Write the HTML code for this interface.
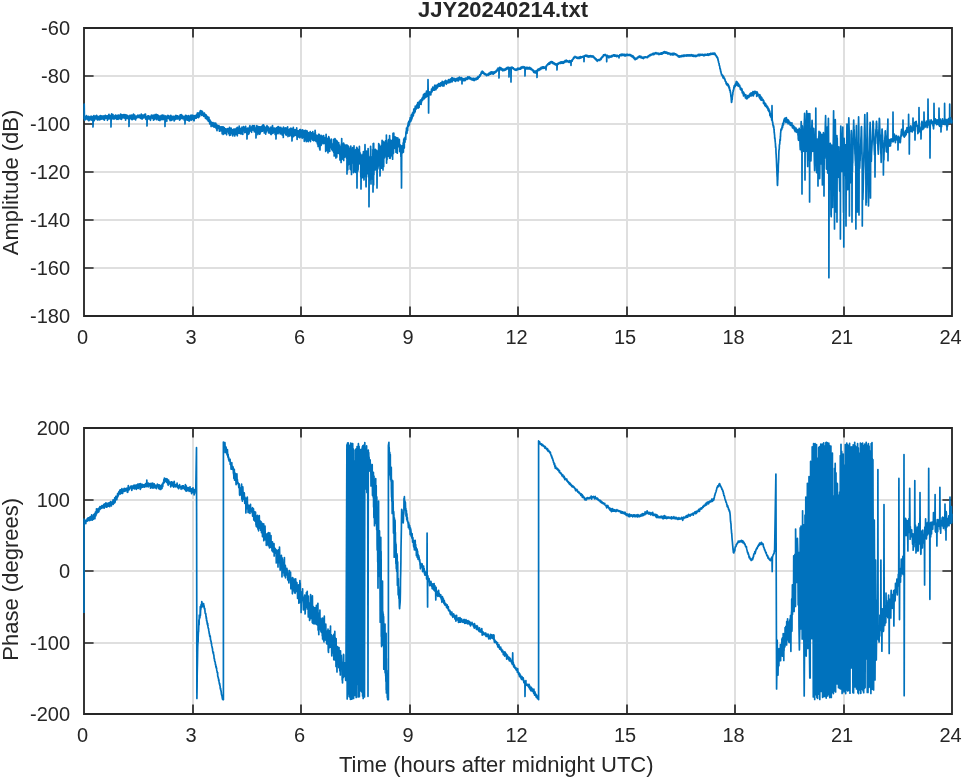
<!DOCTYPE html><html><head><meta charset="utf-8"><title>JJY20240214.txt</title><style>html,body{margin:0;padding:0;background:#fff}svg{display:block}text{font-family:"Liberation Sans",Arial,Helvetica,sans-serif;fill:#262626}</style></head><body>
<svg width="964" height="778" viewBox="0 0 964 778">
<rect width="964" height="778" fill="#fff"/>
<path d="M193.0 28.0 V316.0M301.0 28.0 V316.0M410.0 28.0 V316.0M518.0 28.0 V316.0M627.0 28.0 V316.0M735.0 28.0 V316.0M844.0 28.0 V316.0M84.0 76.0 H952.0M84.0 124.0 H952.0M84.0 172.0 H952.0M84.0 220.0 H952.0M84.0 268.0 H952.0" stroke="#dfdfdf" stroke-width="2" fill="none"/>
<path d="M193.0 428.0 V714.0M301.0 428.0 V714.0M410.0 428.0 V714.0M518.0 428.0 V714.0M627.0 428.0 V714.0M735.0 428.0 V714.0M844.0 428.0 V714.0M84.0 500.0 H952.0M84.0 571.0 H952.0M84.0 643.0 H952.0" stroke="#dfdfdf" stroke-width="2" fill="none"/>
<path d="M84.0 28.0 H952.0 V316.0 H84.0 Z" stroke="#262626" stroke-width="1.85" fill="none" stroke-linejoin="miter"/><path d="M193.0 316.0 v-9.6 M193.0 28.0 v9.6M301.0 316.0 v-9.6 M301.0 28.0 v9.6M410.0 316.0 v-9.6 M410.0 28.0 v9.6M518.0 316.0 v-9.6 M518.0 28.0 v9.6M627.0 316.0 v-9.6 M627.0 28.0 v9.6M735.0 316.0 v-9.6 M735.0 28.0 v9.6M844.0 316.0 v-9.6 M844.0 28.0 v9.6M84.0 76.0 h9.6 M952.0 76.0 h-9.6M84.0 124.0 h9.6 M952.0 124.0 h-9.6M84.0 172.0 h9.6 M952.0 172.0 h-9.6M84.0 220.0 h9.6 M952.0 220.0 h-9.6M84.0 268.0 h9.6 M952.0 268.0 h-9.6" stroke="#262626" stroke-width="1.7" fill="none"/>
<path d="M84.0 428.0 H952.0 V714.0 H84.0 Z" stroke="#262626" stroke-width="1.85" fill="none" stroke-linejoin="miter"/><path d="M193.0 714.0 v-9.6 M193.0 428.0 v9.6M301.0 714.0 v-9.6 M301.0 428.0 v9.6M410.0 714.0 v-9.6 M410.0 428.0 v9.6M518.0 714.0 v-9.6 M518.0 428.0 v9.6M627.0 714.0 v-9.6 M627.0 428.0 v9.6M735.0 714.0 v-9.6 M735.0 428.0 v9.6M844.0 714.0 v-9.6 M844.0 428.0 v9.6M84.0 500.0 h9.6 M952.0 500.0 h-9.6M84.0 571.0 h9.6 M952.0 571.0 h-9.6M84.0 643.0 h9.6 M952.0 643.0 h-9.6" stroke="#262626" stroke-width="1.7" fill="none"/>
<path d="M84.0 118.2L84.1 118.6L84.2 104.0L84.3 110.6L84.4 117.8L84.5 117.2L84.6 118.4L84.7 120.2L84.8 117.8L84.9 117.7L85.0 119.0L85.1 118.9L85.2 118.5L85.3 117.4L85.4 118.3L85.5 119.4L85.6 117.0L85.7 117.9L85.8 116.4L85.9 117.1L86.0 116.5L86.1 118.1L86.2 117.0L86.3 118.7L86.4 118.5L86.5 118.1L86.6 115.6L86.7 117.7L86.8 118.1L86.9 118.3L87.0 116.5L87.1 117.6L87.2 117.1L87.3 117.2L87.4 119.6L87.5 117.2L87.6 118.0L87.7 119.2L87.8 117.4L87.9 117.8L88.0 118.1L88.1 118.0L88.2 116.6L88.3 118.0L88.4 119.8L88.5 116.3L88.6 119.1L88.7 118.1L88.8 117.2L88.9 120.8L89.0 119.0L89.1 116.7L89.2 118.0L89.3 118.8L89.4 117.7L89.5 118.9L89.6 117.9L89.7 118.9L89.8 120.0L89.9 117.3L90.0 118.3L90.1 117.5L90.2 118.2L90.3 116.8L90.4 117.4L90.5 117.8L90.6 119.3L90.7 119.7L90.8 116.7L90.9 117.2L91.0 119.0L91.1 116.0L91.2 117.6L91.3 118.0L91.4 119.9L91.5 119.0L91.6 117.7L91.7 117.7L91.8 117.8L91.9 120.2L92.0 117.6L92.1 117.7L92.2 118.5L92.3 117.8L92.4 117.7L92.5 116.7L92.6 117.9L92.7 117.4L92.8 119.5L92.9 118.8L93.0 127.0L93.1 122.9L93.2 117.4L93.3 119.2L93.4 117.7L93.5 118.5L93.6 116.3L93.7 118.1L93.8 115.8L93.9 115.5L94.0 117.2L94.1 116.6L94.2 117.8L94.3 120.7L94.4 116.6L94.5 116.8L94.6 117.8L94.7 118.2L94.8 117.3L94.9 117.2L95.0 118.5L95.1 118.2L95.2 116.4L95.3 117.4L95.4 117.5L95.5 116.4L95.6 117.9L95.7 116.6L95.8 118.9L95.9 117.8L96.0 117.7L96.1 116.9L96.2 117.5L96.3 115.5L96.4 116.4L96.5 118.2L96.6 115.4L96.7 118.9L96.8 115.9L96.9 118.8L97.0 116.9L97.1 118.9L97.2 118.0L97.3 116.2L97.4 119.6L97.5 119.9L97.6 117.8L97.7 117.6L97.8 117.7L97.9 116.8L98.0 119.4L98.1 117.3L98.2 117.8L98.3 117.0L98.4 117.2L98.5 116.5L98.6 119.6L98.7 117.7L98.8 119.2L98.9 117.8L99.0 117.1L99.1 117.4L99.2 117.2L99.3 117.7L99.4 117.3L99.5 117.4L99.6 116.2L99.7 116.8L99.8 120.0L99.9 116.9L100.0 116.5L100.1 118.0L100.2 119.5L100.3 116.0L100.4 117.2L100.5 116.8L100.6 115.6L100.7 118.4L100.8 117.4L100.9 117.5L101.0 116.6L101.1 118.0L101.2 116.7L101.3 117.1L101.4 116.1L101.5 116.0L101.6 119.2L101.7 116.7L101.8 117.7L101.9 117.2L102.0 116.8L102.1 116.7L102.2 118.1L102.3 116.9L102.4 117.1L102.5 117.3L102.6 118.9L102.7 118.2L102.8 117.8L102.9 116.7L103.0 115.9L103.1 118.7L103.2 118.7L103.3 117.2L103.4 118.1L103.5 118.5L103.6 118.6L103.7 118.7L103.8 116.9L103.9 119.6L104.0 116.1L104.1 118.7L104.2 118.2L104.3 118.7L104.4 120.2L104.5 119.6L104.6 116.3L104.7 115.8L104.8 118.7L104.9 116.5L105.0 117.5L105.1 118.7L105.2 115.8L105.3 115.4L105.4 117.9L105.5 117.6L105.6 117.3L105.7 117.6L105.8 116.7L105.9 116.0L106.0 117.4L106.1 116.5L106.2 115.8L106.3 118.2L106.4 117.4L106.5 118.1L106.6 116.5L106.7 116.8L106.8 116.4L106.9 116.5L107.0 117.7L107.1 116.6L107.2 117.9L107.3 117.9L107.4 120.3L107.5 115.9L107.6 118.6L107.7 117.2L107.8 117.3L107.9 115.8L108.0 116.8L108.1 118.3L108.2 117.1L108.3 117.3L108.4 116.9L108.5 118.8L108.6 117.1L108.7 114.8L108.8 116.4L108.9 115.0L109.0 114.3L109.1 116.5L109.2 118.9L109.3 117.1L109.4 115.7L109.5 116.0L109.6 118.5L109.7 117.1L109.8 117.0L109.9 116.8L110.0 116.9L110.1 118.0L110.2 117.6L110.3 117.1L110.4 115.7L110.5 117.5L110.6 116.0L110.7 118.3L110.8 115.4L110.9 116.6L111.0 127.0L111.1 121.2L111.2 119.1L111.3 118.8L111.4 116.2L111.5 117.8L111.6 117.2L111.7 113.9L111.8 117.0L111.9 116.6L112.0 116.7L112.1 115.5L112.2 116.3L112.3 116.4L112.4 118.3L112.5 117.1L112.6 116.6L112.7 118.8L112.8 116.0L112.9 116.2L113.0 114.7L113.1 118.9L113.2 118.0L113.3 117.9L113.4 117.6L113.5 116.8L113.6 116.9L113.7 116.4L113.8 116.4L113.9 116.7L114.0 118.8L114.1 117.4L114.2 116.6L114.3 116.0L114.4 116.0L114.5 118.9L114.6 117.4L114.7 116.8L114.8 116.3L114.9 115.5L115.0 116.6L115.1 117.9L115.2 116.3L115.3 116.4L115.4 116.4L115.5 116.8L115.6 115.0L115.7 116.4L115.8 115.8L115.9 117.9L116.0 115.9L116.1 117.5L116.2 118.8L116.3 116.3L116.4 116.0L116.5 116.9L116.6 116.7L116.7 115.6L116.8 117.3L116.9 119.5L117.0 116.4L117.1 116.4L117.2 115.5L117.3 117.1L117.4 115.3L117.5 115.5L117.6 118.4L117.7 115.6L117.8 118.1L117.9 118.7L118.0 116.9L118.1 117.3L118.2 119.3L118.3 116.3L118.4 115.9L118.5 115.1L118.6 116.5L118.7 118.6L118.8 117.8L118.9 115.4L119.0 115.5L119.1 115.9L119.2 116.8L119.3 116.1L119.4 116.6L119.5 116.7L119.6 116.0L119.7 116.2L119.8 116.6L119.9 116.2L120.0 117.0L120.1 118.9L120.2 117.1L120.3 116.3L120.4 114.5L120.5 116.8L120.6 114.2L120.7 114.7L120.8 117.4L120.9 117.2L121.0 116.0L121.1 114.4L121.2 115.8L121.3 115.5L121.4 117.1L121.5 119.4L121.6 116.5L121.7 115.4L121.8 115.0L121.9 116.2L122.0 116.1L122.1 115.0L122.2 116.4L122.3 115.1L122.4 117.9L122.5 117.8L122.6 117.8L122.7 115.8L122.8 117.0L122.9 116.2L123.0 115.9L123.1 116.0L123.2 115.0L123.3 114.9L123.4 117.5L123.5 116.2L123.6 116.7L123.7 117.8L123.8 114.6L123.9 115.6L124.0 116.7L124.1 117.0L124.2 116.0L124.3 117.9L124.4 116.8L124.5 115.2L124.6 115.5L124.7 117.6L124.8 117.1L124.9 114.5L125.0 118.4L125.1 117.4L125.2 118.4L125.3 116.1L125.4 116.2L125.5 115.4L125.6 120.2L125.7 116.4L125.8 118.9L125.9 115.9L126.0 116.9L126.1 114.9L126.2 116.3L126.3 118.1L126.4 115.4L126.5 118.3L126.6 117.3L126.7 115.7L126.8 116.3L126.9 116.4L127.0 116.8L127.1 116.3L127.2 116.1L127.3 116.6L127.4 115.9L127.5 115.6L127.6 117.0L127.7 118.3L127.8 115.5L127.9 117.1L128.0 116.4L128.1 116.1L128.2 118.4L128.3 116.6L128.4 119.3L128.5 116.4L128.6 117.7L128.7 117.0L128.8 116.4L128.9 118.1L129.0 126.5L129.1 122.3L129.2 117.2L129.3 116.1L129.4 117.1L129.5 117.3L129.6 118.6L129.7 116.3L129.8 117.2L129.9 115.4L130.0 118.1L130.1 116.1L130.2 115.3L130.3 117.1L130.4 118.7L130.5 115.5L130.6 116.0L130.7 116.3L130.8 115.9L130.9 117.6L131.0 116.2L131.1 116.3L131.2 117.9L131.3 116.2L131.4 117.6L131.5 116.0L131.6 115.7L131.7 115.1L131.8 119.6L131.9 116.6L132.0 117.3L132.1 116.9L132.2 117.1L132.3 117.0L132.4 119.6L132.5 115.8L132.6 115.3L132.7 115.8L132.8 115.5L132.9 117.9L133.0 118.0L133.1 115.9L133.2 115.4L133.3 116.5L133.4 118.9L133.5 114.2L133.6 117.6L133.7 115.8L133.8 118.4L133.9 115.8L134.0 116.6L134.1 115.4L134.2 115.9L134.3 118.9L134.4 118.1L134.5 116.6L134.6 116.1L134.7 115.1L134.8 116.6L134.9 117.0L135.0 117.0L135.1 117.0L135.2 116.0L135.3 117.1L135.4 117.1L135.5 119.0L135.6 119.9L135.7 117.1L135.8 116.5L135.9 117.2L136.0 116.7L136.1 116.5L136.2 117.3L136.3 116.2L136.4 118.2L136.5 117.2L136.6 117.7L136.7 117.2L136.8 116.6L136.9 116.4L137.0 117.1L137.1 116.8L137.2 117.6L137.3 117.3L137.4 115.9L137.5 117.4L137.6 115.9L137.7 116.6L137.8 116.9L137.9 115.0L138.0 117.3L138.1 117.4L138.2 116.9L138.3 116.6L138.4 116.7L138.5 116.0L138.6 116.7L138.7 116.4L138.8 117.1L138.9 115.7L139.0 117.3L139.1 117.1L139.2 116.7L139.3 116.4L139.4 117.6L139.5 115.1L139.6 117.5L139.7 117.1L139.8 117.2L139.9 117.3L140.0 116.1L140.1 116.5L140.2 117.6L140.3 117.3L140.4 117.0L140.5 115.1L140.6 117.5L140.7 118.4L140.8 118.1L140.9 117.0L141.0 115.0L141.1 118.0L141.2 116.5L141.3 114.0L141.4 117.2L141.5 115.1L141.6 115.3L141.7 115.9L141.8 118.4L141.9 116.2L142.0 117.0L142.1 119.1L142.2 118.8L142.3 116.4L142.4 116.3L142.5 115.2L142.6 115.8L142.7 117.1L142.8 117.1L142.9 116.7L143.0 117.9L143.1 115.7L143.2 116.4L143.3 117.5L143.4 117.3L143.5 118.0L143.6 117.1L143.7 116.2L143.8 117.0L143.9 115.5L144.0 114.8L144.1 117.4L144.2 116.5L144.3 117.0L144.4 114.8L144.5 116.2L144.6 116.0L144.7 115.7L144.8 114.3L144.9 116.3L145.0 118.0L145.1 117.3L145.2 116.1L145.3 116.7L145.4 117.9L145.5 114.1L145.6 116.7L145.7 117.6L145.8 117.9L145.9 119.4L146.0 118.6L146.1 117.4L146.2 117.4L146.3 118.2L146.4 116.5L146.5 117.0L146.6 118.4L146.7 119.9L146.8 117.0L146.9 117.1L147.0 126.0L147.1 122.6L147.2 117.2L147.3 119.4L147.4 116.3L147.5 117.1L147.6 117.1L147.7 118.5L147.8 118.8L147.9 115.8L148.0 116.4L148.1 117.9L148.2 116.7L148.3 115.8L148.4 118.9L148.5 118.1L148.6 118.1L148.7 116.9L148.8 118.9L148.9 117.1L149.0 118.9L149.1 116.4L149.2 116.5L149.3 117.6L149.4 116.6L149.5 118.3L149.6 117.7L149.7 116.3L149.8 117.4L149.9 116.9L150.0 118.5L150.1 116.5L150.2 116.7L150.3 118.9L150.4 120.3L150.5 120.0L150.6 117.2L150.7 117.4L150.8 119.2L150.9 116.9L151.0 116.0L151.1 117.1L151.2 117.6L151.3 116.0L151.4 115.2L151.5 115.4L151.6 117.8L151.7 116.0L151.8 116.6L151.9 117.1L152.0 117.6L152.1 116.4L152.2 117.4L152.3 115.8L152.4 116.3L152.5 115.6L152.6 118.3L152.7 116.6L152.8 115.9L152.9 116.3L153.0 116.4L153.1 117.6L153.2 115.0L153.3 115.5L153.4 116.2L153.5 120.2L153.6 118.0L153.7 116.5L153.8 117.6L153.9 119.6L154.0 116.4L154.1 116.2L154.2 118.4L154.3 117.3L154.4 117.6L154.5 116.1L154.6 119.4L154.7 119.1L154.8 117.5L154.9 117.7L155.0 114.6L155.1 117.6L155.2 116.5L155.3 117.3L155.4 117.7L155.5 116.4L155.6 115.0L155.7 117.3L155.8 116.0L155.9 116.4L156.0 116.2L156.1 116.4L156.2 114.4L156.3 118.6L156.4 117.2L156.5 118.4L156.6 119.7L156.7 116.9L156.8 115.0L156.9 116.0L157.0 115.7L157.1 116.4L157.2 117.1L157.3 114.9L157.4 117.5L157.5 115.4L157.6 117.4L157.7 116.9L157.8 116.7L157.9 117.0L158.0 116.5L158.1 116.5L158.2 115.4L158.3 117.1L158.4 119.8L158.5 120.0L158.6 119.1L158.7 118.2L158.8 116.5L158.9 119.3L159.0 117.2L159.1 117.2L159.2 117.0L159.3 117.5L159.4 116.9L159.5 117.3L159.6 116.2L159.7 117.0L159.8 120.6L159.9 117.3L160.0 117.2L160.1 118.2L160.2 118.4L160.3 116.3L160.4 117.2L160.5 118.7L160.6 117.8L160.7 117.6L160.8 119.7L160.9 116.7L161.0 117.5L161.1 116.9L161.2 119.6L161.3 115.4L161.4 116.7L161.5 116.9L161.6 118.3L161.7 118.3L161.8 119.4L161.9 115.7L162.0 118.4L162.1 117.1L162.2 116.7L162.3 118.1L162.4 116.4L162.5 115.2L162.6 117.0L162.7 115.8L162.8 116.7L162.9 117.9L163.0 117.8L163.1 119.6L163.2 117.1L163.3 115.7L163.4 116.6L163.5 116.4L163.6 116.1L163.7 118.0L163.8 116.7L163.9 115.3L164.0 118.4L164.1 117.3L164.2 117.9L164.3 117.6L164.4 118.4L164.5 117.5L164.6 119.3L164.7 118.1L164.8 118.1L164.9 118.1L165.0 126.5L165.1 122.0L165.2 117.3L165.3 117.9L165.4 116.2L165.5 120.0L165.6 117.8L165.7 116.4L165.8 115.9L165.9 117.4L166.0 117.6L166.1 116.9L166.2 117.8L166.3 117.0L166.4 118.5L166.5 116.9L166.6 117.6L166.7 119.0L166.8 121.3L166.9 116.6L167.0 117.1L167.1 116.7L167.2 118.7L167.3 116.4L167.4 117.0L167.5 117.5L167.6 116.5L167.7 116.5L167.8 117.0L167.9 115.3L168.0 115.9L168.1 117.0L168.2 117.6L168.3 117.2L168.4 115.5L168.5 116.8L168.6 118.4L168.7 118.1L168.8 117.2L168.9 116.3L169.0 118.1L169.1 116.6L169.2 116.0L169.3 116.4L169.4 119.2L169.5 117.5L169.6 118.8L169.7 116.7L169.8 118.5L169.9 116.5L170.0 117.0L170.1 120.7L170.2 118.3L170.3 116.6L170.4 117.1L170.5 117.6L170.6 118.9L170.7 116.7L170.8 115.4L170.9 116.9L171.0 117.3L171.1 117.4L171.2 119.1L171.3 117.7L171.4 118.5L171.5 116.2L171.6 118.6L171.7 120.4L171.8 118.5L171.9 117.8L172.0 117.6L172.1 120.0L172.2 116.5L172.3 117.4L172.4 118.2L172.5 118.6L172.6 117.1L172.7 118.0L172.8 117.3L172.9 117.8L173.0 117.5L173.1 116.4L173.2 117.6L173.3 118.9L173.4 116.6L173.5 117.4L173.6 118.6L173.7 116.6L173.8 117.9L173.9 116.6L174.0 119.3L174.1 121.0L174.2 120.6L174.3 117.5L174.4 118.7L174.5 117.9L174.6 117.8L174.7 119.9L174.8 116.3L174.9 119.2L175.0 117.6L175.1 119.6L175.2 117.9L175.3 116.9L175.4 118.0L175.5 118.6L175.6 117.6L175.7 118.2L175.8 117.0L175.9 115.3L176.0 118.8L176.1 118.5L176.2 117.6L176.3 117.5L176.4 118.9L176.5 116.9L176.6 116.6L176.7 117.1L176.8 119.0L176.9 115.9L177.0 119.0L177.1 116.6L177.2 116.1L177.3 119.0L177.4 117.1L177.5 115.9L177.6 116.8L177.7 118.5L177.8 118.9L177.9 116.7L178.0 117.7L178.1 118.1L178.2 116.4L178.3 117.6L178.4 117.1L178.5 116.5L178.6 116.6L178.7 117.2L178.8 117.1L178.9 116.4L179.0 116.6L179.1 118.6L179.2 117.3L179.3 118.3L179.4 118.7L179.5 117.8L179.6 120.2L179.7 116.1L179.8 118.1L179.9 116.6L180.0 119.6L180.1 119.4L180.2 114.9L180.3 115.9L180.4 117.9L180.5 118.1L180.6 118.0L180.7 116.9L180.8 117.6L180.9 117.9L181.0 116.9L181.1 118.4L181.2 114.6L181.3 117.9L181.4 115.9L181.5 118.3L181.6 116.7L181.7 116.1L181.8 117.5L181.9 116.1L182.0 116.1L182.1 115.4L182.2 117.0L182.3 117.8L182.4 118.6L182.5 117.0L182.6 118.6L182.7 117.2L182.8 117.1L182.9 118.0L183.0 118.7L183.1 116.9L183.2 117.0L183.3 117.1L183.4 117.4L183.5 116.4L183.6 118.8L183.7 116.9L183.8 118.0L183.9 116.5L184.0 117.9L184.1 118.0L184.2 117.0L184.3 120.3L184.4 118.0L184.5 120.0L184.6 118.9L184.7 116.8L184.8 117.1L184.9 118.2L185.0 124.0L185.1 120.8L185.2 117.3L185.3 115.7L185.4 117.3L185.5 115.3L185.6 118.1L185.7 116.8L185.8 116.8L185.9 117.4L186.0 118.0L186.1 116.1L186.2 115.8L186.3 116.5L186.4 115.5L186.5 116.6L186.6 119.9L186.7 116.5L186.8 118.5L186.9 116.2L187.0 118.0L187.1 117.3L187.2 117.5L187.3 118.4L187.4 120.1L187.5 117.9L187.6 117.8L187.7 116.6L187.8 118.4L187.9 117.3L188.0 118.8L188.1 117.6L188.2 120.1L188.3 115.5L188.4 117.3L188.5 118.9L188.6 117.2L188.7 116.8L188.8 117.3L188.9 116.2L189.0 117.8L189.1 121.1L189.2 119.2L189.3 116.4L189.4 116.7L189.5 117.2L189.6 119.0L189.7 116.7L189.8 116.9L189.9 118.9L190.0 118.8L190.1 117.2L190.2 116.4L190.3 116.0L190.4 116.9L190.5 115.3L190.6 118.7L190.7 117.0L190.8 118.3L190.9 120.3L191.0 119.3L191.1 116.4L191.2 118.9L191.3 119.3L191.4 116.9L191.5 116.7L191.6 117.5L191.7 116.0L191.8 119.8L191.9 115.2L192.0 116.5L192.1 117.4L192.2 117.4L192.3 117.9L192.4 118.0L192.5 117.4L192.6 119.2L192.7 115.3L192.8 117.5L192.9 116.7L193.0 117.7L193.1 117.8L193.2 116.5L193.3 116.7L193.4 118.5L193.5 117.9L193.6 116.6L193.7 120.2L193.8 120.6L193.9 115.7L194.0 117.7L194.1 120.8L194.2 118.3L194.3 117.5L194.4 116.9L194.5 116.5L194.6 116.9L194.7 116.5L194.8 118.1L194.9 116.6L195.0 116.5L195.1 115.7L195.2 116.8L195.3 115.9L195.4 116.6L195.5 118.3L195.6 117.3L195.7 117.5L195.8 117.2L195.9 116.8L196.0 116.5L196.1 116.2L196.2 117.5L196.3 115.2L196.4 118.2L196.5 116.2L196.6 115.3L196.7 115.4L196.8 115.1L196.9 116.0L197.0 114.9L197.1 117.2L197.2 114.6L197.3 113.0L197.4 114.5L197.5 113.1L197.6 115.0L197.7 116.5L197.8 115.8L197.9 113.4L198.0 113.9L198.1 117.1L198.2 114.9L198.3 114.4L198.4 115.8L198.5 117.7L198.6 116.0L198.7 114.2L198.8 114.4L198.9 114.7L199.0 113.1L199.1 112.6L199.2 113.6L199.3 112.5L199.4 113.3L199.5 113.4L199.6 116.6L199.7 112.2L199.8 112.9L199.9 112.8L200.0 113.5L200.1 114.2L200.2 112.1L200.3 111.7L200.4 110.7L200.5 111.6L200.6 113.3L200.7 112.7L200.8 111.7L200.9 112.4L201.0 112.9L201.1 113.6L201.2 112.3L201.3 112.7L201.4 111.2L201.5 111.9L201.6 115.5L201.7 111.0L201.8 112.9L201.9 113.7L202.0 113.0L202.1 112.6L202.2 113.4L202.3 113.6L202.4 113.5L202.5 111.7L202.6 113.6L202.7 112.9L202.8 113.3L202.9 114.2L203.0 114.9L203.1 115.3L203.2 113.6L203.3 115.5L203.4 115.9L203.5 115.9L203.6 116.3L203.7 114.2L203.8 114.3L203.9 115.7L204.0 113.1L204.1 114.9L204.2 114.2L204.3 114.4L204.4 113.1L204.5 114.1L204.6 115.1L204.7 116.5L204.8 116.7L204.9 115.3L205.0 115.3L205.1 114.7L205.2 116.2L205.3 115.5L205.4 116.7L205.5 118.4L205.6 116.0L205.7 114.6L205.8 115.3L205.9 114.8L206.0 115.2L206.1 118.4L206.2 116.9L206.3 115.1L206.4 117.8L206.5 118.7L206.6 116.7L206.7 116.4L206.8 116.9L206.9 117.8L207.0 118.4L207.1 119.3L207.2 119.5L207.3 119.5L207.4 119.9L207.5 119.0L207.6 116.6L207.7 118.2L207.8 118.9L207.9 118.2L208.0 120.0L208.1 118.5L208.2 118.0L208.3 121.2L208.4 120.2L208.5 119.7L208.6 120.9L208.7 121.2L208.8 120.3L208.9 117.4L209.0 119.4L209.1 119.7L209.2 119.3L209.3 120.7L209.4 122.3L209.5 120.2L209.6 119.7L209.7 123.9L209.8 120.6L209.9 120.0L210.0 121.7L210.1 122.1L210.2 120.9L210.3 122.9L210.4 121.3L210.5 121.0L210.6 122.3L210.7 123.3L210.8 121.6L210.9 122.9L211.0 122.4L211.1 126.6L211.2 122.0L211.3 124.8L211.4 122.9L211.5 122.9L211.6 124.2L211.7 124.5L211.8 125.1L211.9 123.9L212.0 122.9L212.1 123.0L212.2 124.4L212.3 124.5L212.4 125.7L212.5 124.4L212.6 125.4L212.7 126.1L212.8 124.2L212.9 122.5L213.0 122.9L213.1 122.7L213.2 126.5L213.3 123.4L213.4 126.1L213.5 125.2L213.6 126.9L213.7 125.9L213.8 124.5L213.9 124.4L214.0 124.8L214.1 125.0L214.2 124.2L214.3 124.8L214.4 127.2L214.5 123.2L214.6 125.4L214.7 124.1L214.8 125.4L214.9 126.4L215.0 125.2L215.1 126.4L215.2 123.7L215.3 127.0L215.4 124.9L215.5 126.5L215.6 125.9L215.7 123.0L215.8 125.0L215.9 126.1L216.0 128.1L216.1 126.4L216.2 126.4L216.3 124.6L216.4 128.2L216.5 128.9L216.6 126.3L216.7 126.1L216.8 124.7L216.9 127.8L217.0 130.6L217.1 127.7L217.2 128.6L217.3 127.6L217.4 125.8L217.5 128.9L217.6 125.6L217.7 126.8L217.8 127.6L217.9 128.5L218.0 127.9L218.1 127.9L218.2 126.6L218.3 126.0L218.4 127.6L218.5 126.8L218.6 126.2L218.7 126.3L218.8 127.2L218.9 125.7L219.0 126.3L219.1 126.1L219.2 128.2L219.3 128.7L219.4 131.2L219.5 126.5L219.6 127.4L219.7 129.7L219.8 128.1L219.9 128.0L220.0 131.1L220.1 128.1L220.2 127.2L220.3 127.1L220.4 129.2L220.5 129.2L220.6 127.2L220.7 127.7L220.8 129.7L220.9 129.9L221.0 128.2L221.1 130.0L221.2 130.0L221.3 127.1L221.4 128.8L221.5 129.9L221.6 128.6L221.7 126.8L221.8 129.0L221.9 130.6L222.0 131.9L222.1 126.9L222.2 133.7L222.3 128.2L222.4 131.1L222.5 131.6L222.6 131.2L222.7 129.9L222.8 128.3L222.9 130.7L223.0 128.9L223.1 126.8L223.2 134.4L223.3 131.0L223.4 132.9L223.5 128.8L223.6 132.4L223.7 132.7L223.8 132.7L223.9 130.1L224.0 128.7L224.1 130.0L224.2 127.5L224.3 128.1L224.4 130.4L224.5 129.0L224.6 130.1L224.7 130.2L224.8 133.6L224.9 132.5L225.0 130.3L225.1 132.4L225.2 129.4L225.3 130.0L225.4 132.0L225.5 128.9L225.6 130.1L225.7 128.9L225.8 130.7L225.9 133.3L226.0 129.6L226.1 131.0L226.2 129.5L226.3 129.2L226.4 129.1L226.5 133.2L226.6 134.8L226.7 131.5L226.8 129.8L226.9 131.9L227.0 130.3L227.1 132.1L227.2 131.2L227.3 131.2L227.4 131.8L227.5 130.0L227.6 130.2L227.7 128.5L227.8 130.2L227.9 128.9L228.0 130.6L228.1 129.5L228.2 130.9L228.3 131.6L228.4 128.9L228.5 129.7L228.6 129.5L228.7 132.1L228.8 133.8L228.9 132.3L229.0 130.3L229.1 133.4L229.2 128.7L229.3 133.4L229.4 129.9L229.5 127.3L229.6 135.5L229.7 133.6L229.8 129.3L229.9 131.0L230.0 130.4L230.1 130.9L230.2 128.7L230.3 129.8L230.4 131.6L230.5 131.1L230.6 132.9L230.7 130.9L230.8 135.1L230.9 129.8L231.0 131.2L231.1 128.2L231.2 129.1L231.3 133.3L231.4 129.5L231.5 131.8L231.6 130.7L231.7 129.4L231.8 130.4L231.9 130.2L232.0 130.2L232.1 132.3L232.2 132.1L232.3 130.1L232.4 129.7L232.5 131.5L232.6 130.8L232.7 132.9L232.8 136.0L232.9 132.5L233.0 130.9L233.1 130.7L233.2 129.7L233.3 129.7L233.4 129.5L233.5 130.4L233.6 130.3L233.7 132.4L233.8 130.4L233.9 130.6L234.0 129.2L234.1 134.1L234.2 131.9L234.3 134.3L234.4 132.4L234.5 133.7L234.6 130.5L234.7 132.2L234.8 136.1L234.9 129.0L235.0 133.0L235.1 134.0L235.2 131.5L235.3 132.2L235.4 133.1L235.5 129.6L235.6 131.4L235.7 129.3L235.8 129.5L235.9 129.6L236.0 130.2L236.1 130.7L236.2 131.3L236.3 128.3L236.4 134.4L236.5 132.7L236.6 131.8L236.7 129.7L236.8 130.1L236.9 131.4L237.0 131.1L237.1 127.7L237.2 131.7L237.3 135.8L237.4 127.4L237.5 132.2L237.6 130.9L237.7 129.9L237.8 133.0L237.9 128.3L238.0 130.4L238.1 133.1L238.2 129.8L238.3 129.4L238.4 130.3L238.5 129.4L238.6 133.3L238.7 128.6L238.8 131.9L238.9 128.1L239.0 131.4L239.1 129.9L239.2 126.1L239.3 130.0L239.4 128.3L239.5 129.3L239.6 133.3L239.7 128.3L239.8 128.3L239.9 133.1L240.0 130.2L240.1 133.3L240.2 130.7L240.3 128.6L240.4 129.9L240.5 132.6L240.6 132.0L240.7 130.0L240.8 130.0L240.9 129.8L241.0 129.0L241.1 134.1L241.2 129.9L241.3 128.1L241.4 129.2L241.5 131.5L241.6 131.3L241.7 129.7L241.8 128.8L241.9 129.9L242.0 127.2L242.1 127.8L242.2 131.6L242.3 129.1L242.4 130.6L242.5 132.5L242.6 131.2L242.7 129.9L242.8 134.4L242.9 131.3L243.0 129.2L243.1 131.4L243.2 130.7L243.3 128.4L243.4 130.0L243.5 129.5L243.6 126.7L243.7 129.5L243.8 129.4L243.9 129.1L244.0 127.2L244.1 129.3L244.2 129.8L244.3 130.0L244.4 128.0L244.5 131.2L244.6 127.9L244.7 129.5L244.8 132.7L244.9 128.8L245.0 129.1L245.1 132.2L245.2 129.3L245.3 129.4L245.4 130.4L245.5 132.2L245.6 126.4L245.7 128.6L245.8 128.3L245.9 128.2L246.0 128.5L246.1 128.6L246.2 130.6L246.3 128.5L246.4 130.2L246.5 130.8L246.6 128.7L246.7 130.2L246.8 133.5L246.9 130.6L247.0 139.0L247.1 134.4L247.2 128.3L247.3 130.4L247.4 131.7L247.5 128.4L247.6 129.4L247.7 132.2L247.8 128.9L247.9 130.1L248.0 128.0L248.1 128.3L248.2 128.8L248.3 134.3L248.4 128.9L248.5 128.7L248.6 128.6L248.7 129.2L248.8 130.8L248.9 129.8L249.0 133.8L249.1 129.8L249.2 132.4L249.3 129.9L249.4 130.6L249.5 126.9L249.6 129.0L249.7 129.1L249.8 128.8L249.9 125.7L250.0 131.0L250.1 128.5L250.2 128.4L250.3 128.7L250.4 128.7L250.5 129.9L250.6 127.0L250.7 127.6L250.8 129.7L250.9 129.3L251.0 128.4L251.1 128.1L251.2 127.7L251.3 128.9L251.4 131.6L251.5 127.3L251.6 132.3L251.7 130.8L251.8 128.2L251.9 130.7L252.0 126.6L252.1 126.2L252.2 126.9L252.3 128.3L252.4 128.4L252.5 128.1L252.6 129.1L252.7 125.5L252.8 130.0L252.9 126.6L253.0 127.8L253.1 128.2L253.2 127.0L253.3 126.7L253.4 127.3L253.5 128.9L253.6 130.2L253.7 130.1L253.8 127.3L253.9 127.6L254.0 127.4L254.1 129.9L254.2 125.6L254.3 131.7L254.4 128.2L254.5 127.7L254.6 129.8L254.7 131.3L254.8 129.8L254.9 131.4L255.0 129.4L255.1 131.9L255.2 131.9L255.3 129.0L255.4 132.4L255.5 129.6L255.6 129.5L255.7 127.8L255.8 128.9L255.9 131.1L256.0 138.0L256.1 134.4L256.2 130.2L256.3 130.1L256.4 125.9L256.5 129.3L256.6 131.0L256.7 128.3L256.8 129.7L256.9 125.7L257.0 131.1L257.1 128.5L257.2 131.5L257.3 126.5L257.4 131.1L257.5 129.2L257.6 131.4L257.7 128.0L257.8 128.5L257.9 134.6L258.0 128.1L258.1 128.3L258.2 129.0L258.3 127.7L258.4 132.1L258.5 133.3L258.6 128.2L258.7 126.5L258.8 131.9L258.9 131.8L259.0 131.1L259.1 131.8L259.2 127.8L259.3 128.9L259.4 126.8L259.5 126.8L259.6 131.3L259.7 127.9L259.8 134.2L259.9 129.2L260.0 127.9L260.1 130.8L260.2 133.1L260.3 130.1L260.4 126.9L260.5 129.8L260.6 132.1L260.7 128.1L260.8 127.7L260.9 131.3L261.0 129.2L261.1 127.1L261.2 128.3L261.3 127.7L261.4 129.6L261.5 129.2L261.6 131.5L261.7 130.5L261.8 126.3L261.9 129.8L262.0 130.9L262.1 129.9L262.2 131.2L262.3 127.9L262.4 127.2L262.5 131.0L262.6 127.0L262.7 125.2L262.8 131.1L262.9 127.6L263.0 128.3L263.1 126.4L263.2 126.5L263.3 126.8L263.4 128.1L263.5 129.6L263.6 124.9L263.7 130.5L263.8 126.7L263.9 126.9L264.0 130.3L264.1 128.6L264.2 126.1L264.3 133.0L264.4 127.3L264.5 129.3L264.6 129.2L264.7 132.0L264.8 128.0L264.9 131.1L265.0 127.6L265.1 131.4L265.2 127.6L265.3 128.3L265.4 133.3L265.5 129.6L265.6 129.2L265.7 134.2L265.8 129.8L265.9 127.6L266.0 130.7L266.1 127.0L266.2 131.7L266.3 131.9L266.4 128.1L266.5 128.0L266.6 129.5L266.7 129.2L266.8 127.5L266.9 130.5L267.0 125.7L267.1 128.4L267.2 128.5L267.3 128.7L267.4 129.9L267.5 127.1L267.6 130.6L267.7 128.9L267.8 128.1L267.9 126.9L268.0 127.2L268.1 130.1L268.2 127.6L268.3 129.4L268.4 131.8L268.5 131.7L268.6 132.9L268.7 128.8L268.8 127.4L268.9 131.7L269.0 130.0L269.1 131.9L269.2 129.3L269.3 132.1L269.4 131.3L269.5 131.0L269.6 130.5L269.7 130.3L269.8 129.9L269.9 129.9L270.0 131.7L270.1 128.5L270.2 133.5L270.3 129.2L270.4 131.7L270.5 129.2L270.6 129.0L270.7 134.2L270.8 128.9L270.9 127.2L271.0 128.2L271.1 128.9L271.2 134.6L271.3 130.0L271.4 131.7L271.5 127.8L271.6 130.3L271.7 131.1L271.8 133.8L271.9 128.3L272.0 131.0L272.1 130.3L272.2 127.8L272.3 129.5L272.4 129.1L272.5 125.5L272.6 131.0L272.7 130.9L272.8 128.8L272.9 127.3L273.0 133.1L273.1 130.2L273.2 132.0L273.3 133.0L273.4 128.7L273.5 131.5L273.6 129.1L273.7 129.4L273.8 129.4L273.9 129.5L274.0 132.2L274.1 129.8L274.2 129.3L274.3 129.0L274.4 130.3L274.5 128.0L274.6 128.6L274.7 129.4L274.8 128.5L274.9 129.3L275.0 128.4L275.1 134.3L275.2 132.7L275.3 130.6L275.4 129.4L275.5 134.8L275.6 130.3L275.7 129.4L275.8 130.3L275.9 130.3L276.0 139.0L276.1 134.3L276.2 134.7L276.3 128.1L276.4 131.4L276.5 127.9L276.6 134.1L276.7 129.2L276.8 129.7L276.9 132.0L277.0 132.9L277.1 127.9L277.2 129.2L277.3 127.4L277.4 130.2L277.5 129.7L277.6 129.3L277.7 128.8L277.8 129.3L277.9 128.7L278.0 131.3L278.1 133.7L278.2 126.6L278.3 129.9L278.4 129.3L278.5 131.3L278.6 128.4L278.7 129.9L278.8 128.3L278.9 131.8L279.0 130.4L279.1 129.9L279.2 131.1L279.3 129.7L279.4 127.4L279.5 131.6L279.6 130.9L279.7 129.9L279.8 132.6L279.9 133.1L280.0 128.2L280.1 128.8L280.2 134.0L280.3 133.7L280.4 128.8L280.5 128.1L280.6 129.0L280.7 129.3L280.8 127.4L280.9 130.3L281.0 127.9L281.1 128.1L281.2 132.5L281.3 129.0L281.4 130.2L281.5 131.9L281.6 132.3L281.7 129.7L281.8 130.5L281.9 128.9L282.0 134.7L282.1 132.0L282.2 128.5L282.3 130.5L282.4 132.3L282.5 131.7L282.6 135.1L282.7 134.0L282.8 129.6L282.9 130.5L283.0 128.4L283.1 131.3L283.2 131.1L283.3 137.5L283.4 131.0L283.5 127.0L283.6 129.6L283.7 131.1L283.8 128.6L283.9 129.3L284.0 130.2L284.1 131.8L284.2 130.6L284.3 129.3L284.4 132.9L284.5 130.0L284.6 130.1L284.7 128.5L284.8 129.6L284.9 132.6L285.0 128.1L285.1 130.9L285.2 132.8L285.3 130.3L285.4 131.6L285.5 129.0L285.6 134.3L285.7 133.8L285.8 131.6L285.9 127.8L286.0 129.1L286.1 133.5L286.2 135.3L286.3 131.8L286.4 134.2L286.5 129.9L286.6 130.7L286.7 131.1L286.8 132.1L286.9 128.3L287.0 133.5L287.1 134.4L287.2 129.0L287.3 128.6L287.4 132.0L287.5 129.9L287.6 126.8L287.7 133.2L287.8 131.6L287.9 130.3L288.0 136.6L288.1 131.6L288.2 129.9L288.3 131.5L288.4 129.4L288.5 129.9L288.6 132.3L288.7 130.3L288.8 130.5L288.9 135.6L289.0 133.6L289.1 133.4L289.2 132.7L289.3 132.6L289.4 135.1L289.5 131.4L289.6 136.1L289.7 129.6L289.8 130.9L289.9 128.8L290.0 130.7L290.1 132.7L290.2 135.1L290.3 130.1L290.4 131.4L290.5 130.7L290.6 130.0L290.7 129.1L290.8 131.5L290.9 128.1L291.0 131.6L291.1 131.3L291.2 130.0L291.3 129.4L291.4 128.7L291.5 136.0L291.6 128.7L291.7 135.2L291.8 132.8L291.9 130.5L292.0 141.0L292.1 137.5L292.2 135.7L292.3 129.5L292.4 130.7L292.5 134.0L292.6 132.1L292.7 136.5L292.8 130.3L292.9 132.7L293.0 129.0L293.1 136.8L293.2 130.1L293.3 127.3L293.4 131.3L293.5 131.3L293.6 136.5L293.7 131.0L293.8 131.6L293.9 133.2L294.0 135.9L294.1 131.7L294.2 134.5L294.3 133.2L294.4 131.4L294.5 132.2L294.6 132.1L294.7 130.4L294.8 135.3L294.9 129.6L295.0 135.3L295.1 134.7L295.2 132.1L295.3 130.9L295.4 132.0L295.5 133.7L295.6 134.4L295.7 133.3L295.8 135.1L295.9 131.5L296.0 133.2L296.1 129.7L296.2 134.7L296.3 133.1L296.4 132.0L296.5 135.8L296.6 134.6L296.7 127.9L296.8 133.0L296.9 130.1L297.0 135.7L297.1 139.4L297.2 132.0L297.3 133.2L297.4 132.5L297.5 133.9L297.6 134.7L297.7 136.4L297.8 131.2L297.9 137.2L298.0 131.3L298.1 133.8L298.2 136.1L298.3 135.0L298.4 131.3L298.5 131.8L298.6 132.2L298.7 133.0L298.8 136.1L298.9 130.6L299.0 134.3L299.1 134.7L299.2 134.6L299.3 134.4L299.4 137.1L299.5 134.4L299.6 135.4L299.7 134.6L299.8 137.8L299.9 129.5L300.0 136.5L300.1 132.6L300.2 132.6L300.3 131.2L300.4 129.5L300.5 132.3L300.6 131.7L300.7 134.4L300.8 130.2L300.9 136.9L301.0 133.8L301.1 132.6L301.2 131.7L301.3 131.5L301.4 130.9L301.5 132.0L301.6 133.1L301.7 132.8L301.8 130.3L301.9 132.6L302.0 131.4L302.1 133.6L302.2 138.3L302.3 134.9L302.4 132.6L302.5 130.0L302.6 130.4L302.7 129.9L302.8 135.4L302.9 131.8L303.0 133.6L303.1 132.2L303.2 133.7L303.3 137.5L303.4 132.1L303.5 132.9L303.6 132.0L303.7 136.2L303.8 131.6L303.9 131.4L304.0 130.9L304.1 130.9L304.2 135.3L304.3 141.3L304.4 131.9L304.5 136.8L304.6 134.8L304.7 131.9L304.8 133.6L304.9 133.8L305.0 132.9L305.1 140.0L305.2 130.4L305.3 135.6L305.4 135.5L305.5 133.4L305.6 135.1L305.7 137.3L305.8 135.2L305.9 136.0L306.0 136.9L306.1 130.5L306.2 139.3L306.3 141.7L306.4 137.9L306.5 138.0L306.6 132.0L306.7 134.8L306.8 133.3L306.9 133.8L307.0 138.0L307.1 133.4L307.2 134.9L307.3 131.0L307.4 134.8L307.5 135.5L307.6 133.6L307.7 133.6L307.8 141.0L307.9 132.5L308.0 132.9L308.1 133.4L308.2 138.9L308.3 141.7L308.4 136.3L308.5 133.6L308.6 134.3L308.7 138.5L308.8 133.2L308.9 139.7L309.0 139.6L309.1 135.4L309.2 137.2L309.3 137.6L309.4 140.1L309.5 132.8L309.6 138.9L309.7 134.4L309.8 133.5L309.9 135.6L310.0 134.7L310.1 133.0L310.2 131.5L310.3 133.1L310.4 139.9L310.5 141.6L310.6 137.4L310.7 139.1L310.8 134.1L310.9 135.2L311.0 136.3L311.1 132.8L311.2 133.1L311.3 135.7L311.4 134.7L311.5 132.9L311.6 136.7L311.7 134.9L311.8 138.9L311.9 135.5L312.0 134.9L312.1 136.0L312.2 135.2L312.3 134.1L312.4 134.7L312.5 138.2L312.6 137.9L312.7 140.1L312.8 131.7L312.9 134.9L313.0 134.9L313.1 136.5L313.2 134.9L313.3 134.8L313.4 138.7L313.5 136.7L313.6 133.3L313.7 140.7L313.8 139.6L313.9 134.9L314.0 139.1L314.1 134.5L314.2 140.2L314.3 135.9L314.4 134.5L314.5 135.6L314.6 134.7L314.7 137.3L314.8 137.3L314.9 136.8L315.0 135.4L315.1 130.3L315.2 137.2L315.3 132.2L315.4 137.8L315.5 141.0L315.6 138.1L315.7 136.2L315.8 136.8L315.9 136.9L316.0 135.9L316.1 135.9L316.2 135.1L316.3 141.6L316.4 137.5L316.5 140.9L316.6 136.9L316.7 137.9L316.8 137.2L316.9 139.3L317.0 140.7L317.1 138.6L317.2 136.1L317.3 135.8L317.4 143.8L317.5 137.2L317.6 137.1L317.7 143.2L317.8 141.9L317.9 139.9L318.0 137.0L318.1 146.5L318.2 139.5L318.3 140.1L318.4 137.7L318.5 134.4L318.6 134.6L318.7 139.7L318.8 139.6L318.9 137.6L319.0 135.2L319.1 134.5L319.2 137.5L319.3 134.5L319.4 141.7L319.5 142.7L319.6 148.8L319.7 141.7L319.8 136.9L319.9 136.2L320.0 150.0L320.1 143.5L320.2 138.2L320.3 142.4L320.4 141.1L320.5 141.0L320.6 139.7L320.7 141.4L320.8 144.4L320.9 136.1L321.0 137.8L321.1 135.3L321.2 145.3L321.3 144.1L321.4 142.1L321.5 136.0L321.6 140.1L321.7 138.8L321.8 139.8L321.9 139.0L322.0 141.6L322.1 138.5L322.2 143.0L322.3 140.7L322.4 139.0L322.5 139.5L322.6 138.6L322.7 143.1L322.8 139.2L322.9 141.1L323.0 139.0L323.1 135.9L323.2 143.7L323.3 137.2L323.4 142.9L323.5 141.9L323.6 135.6L323.7 137.7L323.8 139.0L323.9 138.2L324.0 137.2L324.1 143.5L324.2 140.0L324.3 142.2L324.4 139.5L324.5 142.0L324.6 138.7L324.7 140.9L324.8 143.3L324.9 141.2L325.0 139.8L325.1 138.0L325.2 141.9L325.3 142.7L325.4 140.6L325.5 139.2L325.6 143.7L325.7 151.5L325.8 140.7L325.9 143.0L326.0 143.3L326.1 134.3L326.2 142.4L326.3 139.8L326.4 147.6L326.5 141.3L326.6 139.8L326.7 141.5L326.8 142.9L326.9 140.6L327.0 142.1L327.1 138.3L327.2 141.7L327.3 145.6L327.4 150.6L327.5 145.4L327.6 143.7L327.7 147.5L327.8 146.9L327.9 149.6L328.0 153.0L328.1 147.7L328.2 143.9L328.3 143.6L328.4 144.2L328.5 143.8L328.6 140.6L328.7 136.7L328.8 141.1L328.9 137.0L329.0 143.5L329.1 143.3L329.2 138.2L329.3 146.3L329.4 147.1L329.5 143.9L329.6 150.6L329.7 151.5L329.8 140.0L329.9 148.2L330.0 145.7L330.1 145.7L330.2 148.0L330.3 141.9L330.4 142.3L330.5 141.7L330.6 142.0L330.7 144.1L330.8 140.0L330.9 141.3L331.0 147.1L331.1 144.5L331.2 146.4L331.3 139.0L331.4 142.5L331.5 143.3L331.6 145.2L331.7 143.3L331.8 149.3L331.9 145.1L332.0 145.5L332.1 145.5L332.2 148.6L332.3 144.1L332.4 150.5L332.5 147.7L332.6 146.4L332.7 146.0L332.8 148.1L332.9 150.3L333.0 150.1L333.1 147.6L333.2 149.9L333.3 146.6L333.4 151.6L333.5 146.0L333.6 139.3L333.7 152.2L333.8 146.7L333.9 142.3L334.0 145.6L334.1 143.3L334.2 155.9L334.3 148.6L334.4 141.0L334.5 148.8L334.6 145.0L334.7 155.2L334.8 142.8L334.9 138.7L335.0 146.7L335.1 145.2L335.2 145.0L335.3 139.1L335.4 148.5L335.5 154.5L335.6 139.9L335.7 152.2L335.8 144.6L335.9 157.9L336.0 148.8L336.1 146.0L336.2 152.1L336.3 149.3L336.4 144.7L336.5 150.3L336.6 145.0L336.7 140.5L336.8 157.0L336.9 145.7L337.0 144.8L337.1 148.8L337.2 141.4L337.3 142.2L337.4 145.4L337.5 145.3L337.6 147.7L337.7 153.0L337.8 145.6L337.9 150.0L338.0 150.6L338.1 143.5L338.2 148.8L338.3 144.1L338.4 153.2L338.5 150.1L338.6 147.9L338.7 142.7L338.8 148.5L338.9 145.0L339.0 151.7L339.1 147.6L339.2 144.9L339.3 153.0L339.4 152.0L339.5 145.9L339.6 154.5L339.7 147.2L339.8 147.2L339.9 149.1L340.0 160.0L340.1 153.4L340.2 148.0L340.3 157.0L340.4 156.9L340.5 147.7L340.6 157.7L340.7 148.7L340.8 151.0L340.9 153.8L341.0 150.6L341.1 162.5L341.2 150.4L341.3 144.2L341.4 156.5L341.5 147.5L341.6 148.0L341.7 138.6L341.8 155.0L341.9 154.0L342.0 154.0L342.1 155.0L342.2 159.2L342.3 149.3L342.4 154.9L342.5 146.4L342.6 148.1L342.7 155.8L342.8 151.9L342.9 144.0L343.0 151.8L343.1 149.0L343.2 146.3L343.3 152.4L343.4 148.1L343.5 143.1L343.6 145.1L343.7 160.4L343.8 143.4L343.9 151.3L344.0 153.7L344.1 153.9L344.2 144.7L344.3 148.7L344.4 151.0L344.5 155.1L344.6 147.4L344.7 145.2L344.8 156.5L344.9 157.2L345.0 152.8L345.1 147.8L345.2 153.1L345.3 151.4L345.4 155.9L345.5 145.2L345.6 151.6L345.7 150.3L345.8 146.0L345.9 152.5L346.0 151.4L346.1 149.4L346.2 153.9L346.3 145.0L346.4 151.3L346.5 154.4L346.6 153.6L346.7 158.7L346.8 146.3L346.9 145.0L347.0 174.0L347.1 164.6L347.2 166.0L347.3 156.3L347.4 148.3L347.5 157.8L347.6 148.6L347.7 145.6L347.8 169.8L347.9 155.0L348.0 157.6L348.1 156.7L348.2 165.0L348.3 155.0L348.4 161.3L348.5 148.3L348.6 146.6L348.7 162.9L348.8 163.3L348.9 156.9L349.0 155.1L349.1 154.7L349.2 150.3L349.3 164.1L349.4 158.2L349.5 157.2L349.6 156.4L349.7 161.0L349.8 157.4L349.9 159.1L350.0 148.2L350.1 157.5L350.2 169.1L350.3 151.5L350.4 153.5L350.5 160.4L350.6 160.9L350.7 158.6L350.8 146.1L350.9 157.8L351.0 170.0L351.1 160.1L351.2 158.3L351.3 153.0L351.4 160.3L351.5 174.4L351.6 160.1L351.7 159.8L351.8 150.1L351.9 151.4L352.0 149.3L352.1 152.1L352.2 149.2L352.3 151.5L352.4 154.0L352.5 149.9L352.6 147.7L352.7 148.0L352.8 158.6L352.9 155.8L353.0 162.9L353.1 163.1L353.2 153.7L353.3 160.6L353.4 148.0L353.5 172.6L353.6 164.7L353.7 154.7L353.8 149.7L353.9 158.9L354.0 145.9L354.1 151.9L354.2 161.8L354.3 156.9L354.4 153.7L354.5 163.6L354.6 150.8L354.7 158.7L354.8 153.9L354.9 152.0L355.0 160.3L355.1 151.3L355.2 171.4L355.3 153.6L355.4 172.3L355.5 150.9L355.6 161.8L355.7 150.4L355.8 149.6L355.9 158.5L356.0 162.6L356.1 150.1L356.2 166.7L356.3 152.9L356.4 158.6L356.5 160.6L356.6 162.4L356.7 147.4L356.8 170.6L356.9 162.3L357.0 188.0L357.1 170.0L357.2 148.1L357.3 150.1L357.4 162.5L357.5 156.2L357.6 151.6L357.7 155.2L357.8 171.0L357.9 156.4L358.0 155.0L358.1 169.5L358.2 162.3L358.3 159.0L358.4 155.1L358.5 149.5L358.6 151.8L358.7 156.0L358.8 157.7L358.9 162.0L359.0 163.7L359.1 161.1L359.2 161.1L359.3 153.3L359.4 146.4L359.5 156.4L359.6 153.8L359.7 155.7L359.8 158.1L359.9 152.3L360.0 153.2L360.1 159.5L360.2 161.1L360.3 156.2L360.4 164.6L360.5 159.0L360.6 154.1L360.7 160.9L360.8 176.8L360.9 156.5L361.0 189.0L361.1 180.9L361.2 173.9L361.3 155.9L361.4 178.6L361.5 162.2L361.6 159.6L361.7 159.8L361.8 166.6L361.9 161.9L362.0 160.4L362.1 172.8L362.2 157.0L362.3 154.9L362.4 168.7L362.5 167.9L362.6 171.5L362.7 154.9L362.8 171.4L362.9 166.1L363.0 177.6L363.1 153.8L363.2 163.9L363.3 160.1L363.4 151.6L363.5 157.3L363.6 172.2L363.7 158.9L363.8 157.3L363.9 169.9L364.0 180.0L364.1 175.5L364.2 156.8L364.3 161.7L364.4 171.5L364.5 157.7L364.6 157.1L364.7 169.7L364.8 176.5L364.9 154.4L365.0 144.7L365.1 152.4L365.2 155.4L365.3 161.3L365.4 168.0L365.5 161.2L365.6 157.5L365.7 163.7L365.8 155.7L365.9 162.0L366.0 186.0L366.1 186.8L366.2 170.1L366.3 156.7L366.4 155.6L366.5 159.4L366.6 151.1L366.7 157.4L366.8 157.4L366.9 171.0L367.0 159.6L367.1 157.1L367.2 153.3L367.3 154.4L367.4 162.2L367.5 161.2L367.6 173.7L367.7 158.3L367.8 173.1L367.9 165.3L368.0 162.8L368.1 148.6L368.2 153.8L368.3 170.2L368.4 176.7L368.5 165.1L368.6 170.6L368.7 160.2L368.8 160.5L368.9 158.4L369.0 206.7L369.1 186.6L369.2 161.4L369.3 160.7L369.4 168.4L369.5 166.1L369.6 156.9L369.7 179.6L369.8 165.2L369.9 162.8L370.0 177.0L370.1 172.5L370.2 161.9L370.3 167.7L370.4 154.9L370.5 157.9L370.6 146.4L370.7 174.0L370.8 148.9L370.9 168.7L371.0 184.0L371.1 169.6L371.2 160.7L371.3 164.6L371.4 167.8L371.5 178.8L371.6 165.3L371.7 170.2L371.8 157.7L371.9 168.5L372.0 163.1L372.1 158.5L372.2 160.9L372.3 161.1L372.4 163.3L372.5 165.2L372.6 157.9L372.7 156.3L372.8 168.3L372.9 149.7L373.0 192.0L373.1 183.8L373.2 143.5L373.3 156.3L373.4 167.3L373.5 149.8L373.6 184.7L373.7 143.4L373.8 173.9L373.9 174.9L374.0 168.9L374.1 159.0L374.2 163.6L374.3 154.3L374.4 167.6L374.5 152.7L374.6 158.2L374.7 169.0L374.8 152.6L374.9 157.4L375.0 161.2L375.1 150.8L375.2 169.9L375.3 162.4L375.4 149.3L375.5 158.8L375.6 153.9L375.7 154.6L375.8 159.4L375.9 154.0L376.0 167.0L376.1 153.8L376.2 166.9L376.3 157.8L376.4 165.5L376.5 154.4L376.6 154.5L376.7 150.3L376.8 162.5L376.9 165.5L377.0 188.0L377.1 178.2L377.2 159.2L377.3 155.6L377.4 160.2L377.5 156.5L377.6 169.2L377.7 164.6L377.8 151.2L377.9 152.0L378.0 167.9L378.1 158.7L378.2 154.6L378.3 166.0L378.4 153.4L378.5 154.0L378.6 152.8L378.7 143.5L378.8 162.8L378.9 148.0L379.0 151.9L379.1 150.7L379.2 161.3L379.3 154.7L379.4 155.2L379.5 144.8L379.6 154.4L379.7 145.9L379.8 157.3L379.9 157.8L380.0 176.0L380.1 173.7L380.2 158.9L380.3 159.4L380.4 155.6L380.5 153.2L380.6 162.2L380.7 163.2L380.8 146.6L380.9 162.6L381.0 158.2L381.1 161.7L381.2 157.7L381.3 146.7L381.4 147.1L381.5 168.2L381.6 155.7L381.7 145.5L381.8 156.3L381.9 151.4L382.0 142.9L382.1 140.3L382.2 144.2L382.3 155.2L382.4 152.8L382.5 151.5L382.6 155.0L382.7 157.3L382.8 141.0L382.9 150.8L383.0 170.0L383.1 157.7L383.2 149.2L383.3 151.4L383.4 150.4L383.5 143.9L383.6 149.0L383.7 166.5L383.8 145.7L383.9 142.1L384.0 153.1L384.1 155.3L384.2 154.2L384.3 144.7L384.4 157.8L384.5 146.2L384.6 144.2L384.7 146.8L384.8 149.3L384.9 154.9L385.0 154.0L385.1 149.3L385.2 155.9L385.3 149.7L385.4 155.3L385.5 141.7L385.6 140.7L385.7 154.0L385.8 141.4L385.9 146.8L386.0 147.7L386.1 145.6L386.2 145.7L386.3 157.4L386.4 135.1L386.5 153.6L386.6 163.1L386.7 147.5L386.8 147.2L386.9 152.1L387.0 160.0L387.1 150.6L387.2 147.5L387.3 145.9L387.4 150.4L387.5 147.7L387.6 150.9L387.7 144.4L387.8 146.7L387.9 143.1L388.0 143.1L388.1 145.5L388.2 145.5L388.3 140.6L388.4 156.1L388.5 145.4L388.6 139.5L388.7 152.9L388.8 142.4L388.9 149.0L389.0 145.7L389.1 147.3L389.2 146.7L389.3 143.0L389.4 145.8L389.5 158.1L389.6 135.5L389.7 145.9L389.8 148.1L389.9 140.7L390.0 139.3L390.1 158.3L390.2 143.6L390.3 157.6L390.4 148.3L390.5 145.6L390.6 147.9L390.7 148.8L390.8 151.9L390.9 147.5L391.0 145.7L391.1 145.8L391.2 152.6L391.3 149.4L391.4 140.5L391.5 141.9L391.6 146.4L391.7 141.9L391.8 142.9L391.9 140.4L392.0 156.0L392.1 151.3L392.2 149.7L392.3 144.1L392.4 155.4L392.5 143.6L392.6 159.2L392.7 149.2L392.8 146.4L392.9 141.6L393.0 133.3L393.1 142.8L393.2 144.3L393.3 153.5L393.4 137.8L393.5 153.1L393.6 142.0L393.7 146.7L393.8 133.2L393.9 143.4L394.0 141.3L394.1 146.1L394.2 142.9L394.3 138.1L394.4 147.1L394.5 145.7L394.6 145.1L394.7 147.1L394.8 147.4L394.9 141.8L395.0 136.9L395.1 136.8L395.2 148.4L395.3 145.3L395.4 142.3L395.5 140.3L395.6 142.0L395.7 142.0L395.8 140.7L395.9 139.5L396.0 152.2L396.1 143.0L396.2 139.9L396.3 137.5L396.4 139.5L396.5 145.3L396.6 145.5L396.7 141.3L396.8 142.3L396.9 141.1L397.0 138.4L397.1 148.0L397.2 143.8L397.3 153.2L397.4 139.7L397.5 141.8L397.6 146.1L397.7 141.5L397.8 137.9L397.9 139.3L398.0 142.8L398.1 143.8L398.2 142.1L398.3 146.7L398.4 146.6L398.5 143.8L398.6 142.6L398.7 141.7L398.8 144.8L398.9 146.3L399.0 142.8L399.1 144.7L399.2 142.3L399.3 139.4L399.4 141.0L399.5 147.4L399.6 146.5L399.7 151.4L399.8 145.6L399.9 149.2L400.0 151.3L400.1 150.4L400.2 145.1L400.3 146.7L400.4 148.1L400.5 145.2L400.6 150.1L400.7 152.6L400.8 147.7L400.9 156.8L401.0 149.0L401.1 149.6L401.2 170.0L401.3 159.5L401.4 152.8L401.5 188.0L401.6 172.6L401.7 153.0L401.8 152.3L401.9 149.4L402.0 145.9L402.1 148.9L402.2 146.5L402.3 151.5L402.4 147.7L402.5 153.0L402.6 149.4L402.7 149.3L402.8 146.9L402.9 146.4L403.0 147.4L403.1 147.9L403.2 142.8L403.3 145.7L403.4 152.2L403.5 143.2L403.6 142.4L403.7 141.1L403.8 139.0L403.9 145.6L404.0 141.7L404.1 142.1L404.2 146.4L404.3 148.1L404.4 138.0L404.5 142.8L404.6 141.1L404.7 140.0L404.8 139.9L404.9 138.0L405.0 142.3L405.1 139.0L405.2 137.8L405.3 140.0L405.4 138.6L405.5 136.9L405.6 136.1L405.7 139.7L405.8 135.9L405.9 133.9L406.0 132.0L406.1 132.7L406.2 131.0L406.3 132.9L406.4 133.0L406.5 128.0L406.6 131.6L406.7 132.9L406.8 131.2L406.9 128.7L407.0 133.3L407.1 128.4L407.2 127.1L407.3 127.0L407.4 128.6L407.5 130.7L407.6 130.7L407.7 128.1L407.8 125.1L407.9 125.7L408.0 124.9L408.1 125.8L408.2 122.8L408.3 125.6L408.4 126.5L408.5 124.4L408.6 125.3L408.7 122.4L408.8 121.3L408.9 122.2L409.0 125.4L409.1 124.7L409.2 121.5L409.3 124.4L409.4 121.1L409.5 124.5L409.6 122.1L409.7 120.2L409.8 122.3L409.9 119.3L410.0 118.9L410.1 117.9L410.2 120.3L410.3 119.5L410.4 119.2L410.5 118.6L410.6 121.7L410.7 118.1L410.8 117.5L410.9 120.7L411.0 120.8L411.1 118.5L411.2 115.2L411.3 116.6L411.4 118.4L411.5 117.0L411.6 119.8L411.7 114.6L411.8 117.7L411.9 115.2L412.0 118.5L412.1 115.6L412.2 117.4L412.3 114.3L412.4 113.0L412.5 113.2L412.6 113.7L412.7 112.9L412.8 116.4L412.9 116.4L413.0 114.2L413.1 112.0L413.2 113.0L413.3 112.0L413.4 115.5L413.5 113.1L413.6 113.2L413.7 111.4L413.8 109.0L413.9 110.4L414.0 109.7L414.1 111.7L414.2 111.0L414.3 109.4L414.4 109.8L414.5 113.0L414.6 108.5L414.7 108.3L414.8 109.0L414.9 108.1L415.0 108.2L415.1 109.7L415.2 111.8L415.3 106.0L415.4 108.2L415.5 108.2L415.6 107.8L415.7 107.6L415.8 107.2L415.9 109.4L416.0 106.8L416.1 107.1L416.2 107.1L416.3 107.2L416.4 106.6L416.5 108.5L416.6 106.5L416.7 106.7L416.8 106.2L416.9 104.8L417.0 104.9L417.1 104.5L417.2 106.1L417.3 104.7L417.4 104.1L417.5 105.8L417.6 106.1L417.7 102.7L417.8 108.0L417.9 104.9L418.0 104.5L418.1 106.5L418.2 104.5L418.3 103.5L418.4 108.1L418.5 102.6L418.6 103.8L418.7 105.3L418.8 102.2L418.9 103.4L419.0 104.1L419.1 107.5L419.2 102.0L419.3 102.9L419.4 104.0L419.5 102.9L419.6 101.1L419.7 103.2L419.8 102.6L419.9 103.0L420.0 104.1L420.1 103.8L420.2 102.6L420.3 102.3L420.4 100.2L420.5 101.3L420.6 101.7L420.7 100.7L420.8 101.3L420.9 99.9L421.0 103.5L421.1 104.4L421.2 100.1L421.3 101.1L421.4 100.0L421.5 102.3L421.6 100.8L421.7 100.0L421.8 99.5L421.9 99.8L422.0 98.2L422.1 100.4L422.2 98.2L422.3 99.9L422.4 99.0L422.5 100.5L422.6 98.5L422.7 100.1L422.8 97.1L422.9 99.2L423.0 97.7L423.1 98.2L423.2 97.8L423.3 99.1L423.4 94.9L423.5 97.8L423.6 95.2L423.7 98.9L423.8 94.3L423.9 95.4L424.0 94.4L424.1 99.0L424.2 94.6L424.3 96.2L424.4 95.2L424.5 93.5L424.6 95.1L424.7 96.5L424.8 95.0L424.9 96.7L425.0 94.6L425.1 94.9L425.2 94.3L425.3 95.2L425.4 97.7L425.5 95.1L425.6 94.7L425.7 93.6L425.8 93.3L425.9 96.5L426.0 92.8L426.1 92.9L426.2 93.8L426.3 93.4L426.4 97.0L426.5 91.1L426.6 94.4L426.7 94.9L426.8 92.4L426.9 93.0L427.0 94.4L427.1 96.3L427.2 92.6L427.3 91.8L427.4 95.2L427.5 96.1L427.6 93.3L427.7 91.1L427.8 95.9L427.9 93.4L428.0 79.5L428.1 86.5L428.2 93.2L428.3 93.1L428.4 95.9L428.5 95.9L428.6 113.0L428.7 102.7L428.8 96.3L428.9 93.1L429.0 91.9L429.1 93.5L429.2 93.3L429.3 93.3L429.4 92.8L429.5 92.9L429.6 92.7L429.7 93.7L429.8 92.2L429.9 92.7L430.0 92.8L430.1 94.8L430.2 93.3L430.3 92.5L430.4 93.4L430.5 93.1L430.6 94.0L430.7 93.0L430.8 94.8L430.9 94.0L431.0 91.8L431.1 91.3L431.2 92.9L431.3 92.2L431.4 91.2L431.5 89.6L431.6 89.0L431.7 91.4L431.8 91.9L431.9 91.8L432.0 89.1L432.1 91.8L432.2 89.6L432.3 90.6L432.4 90.5L432.5 88.9L432.6 89.0L432.7 87.2L432.8 88.4L432.9 87.3L433.0 89.7L433.1 89.0L433.2 90.2L433.3 89.2L433.4 88.0L433.5 89.0L433.6 88.0L433.7 89.2L433.8 88.7L433.9 87.1L434.0 88.1L434.1 88.1L434.2 87.6L434.3 89.2L434.4 90.2L434.5 87.4L434.6 87.3L434.7 85.3L434.8 87.5L434.9 87.1L435.0 85.3L435.1 87.9L435.2 88.2L435.3 86.6L435.4 87.0L435.5 86.3L435.6 88.3L435.7 85.7L435.8 86.9L435.9 89.8L436.0 87.2L436.1 87.7L436.2 86.8L436.3 85.8L436.4 86.9L436.5 87.4L436.6 85.8L436.7 87.2L436.8 88.3L436.9 88.0L437.0 85.0L437.1 85.5L437.2 84.8L437.3 87.8L437.4 87.1L437.5 87.2L437.6 85.3L437.7 85.0L437.8 86.2L437.9 86.2L438.0 85.2L438.1 86.1L438.2 86.7L438.3 86.1L438.4 84.8L438.5 83.7L438.6 85.4L438.7 85.8L438.8 85.3L438.9 85.0L439.0 84.7L439.1 86.2L439.2 85.2L439.3 85.3L439.4 84.2L439.5 84.4L439.6 85.1L439.7 83.9L439.8 83.6L439.9 84.4L440.0 86.1L440.1 84.7L440.2 86.3L440.3 84.2L440.4 84.0L440.5 82.9L440.6 83.6L440.7 85.8L440.8 84.3L440.9 84.8L441.0 84.7L441.1 83.7L441.2 83.5L441.3 83.7L441.4 84.3L441.5 84.0L441.6 84.0L441.7 83.5L441.8 82.6L441.9 83.0L442.0 82.4L442.1 84.4L442.2 81.3L442.3 82.9L442.4 85.9L442.5 82.7L442.6 82.0L442.7 82.9L442.8 84.4L442.9 82.7L443.0 83.5L443.1 82.9L443.2 82.4L443.3 86.0L443.4 82.8L443.5 82.2L443.6 82.3L443.7 83.1L443.8 83.1L443.9 83.5L444.0 86.0L444.1 83.7L444.2 83.2L444.3 82.3L444.4 82.3L444.5 81.3L444.6 82.0L444.7 81.9L444.8 82.4L444.9 81.3L445.0 82.5L445.1 82.6L445.2 81.5L445.3 81.9L445.4 81.7L445.5 83.4L445.6 80.3L445.7 82.1L445.8 81.0L445.9 81.9L446.0 83.2L446.1 81.7L446.2 82.4L446.3 81.5L446.4 84.3L446.5 83.1L446.6 83.3L446.7 81.0L446.8 81.2L446.9 83.2L447.0 81.9L447.1 81.8L447.2 82.4L447.3 81.0L447.4 82.8L447.5 81.9L447.6 82.4L447.7 81.3L447.8 82.4L447.9 81.2L448.0 82.7L448.1 82.9L448.2 82.6L448.3 82.1L448.4 82.2L448.5 79.5L448.6 82.2L448.7 81.1L448.8 81.3L448.9 81.0L449.0 80.1L449.1 80.6L449.2 81.6L449.3 82.3L449.4 80.4L449.5 80.1L449.6 82.1L449.7 79.9L449.8 82.6L449.9 80.5L450.0 79.7L450.1 81.3L450.2 81.9L450.3 79.1L450.4 81.6L450.5 79.9L450.6 81.4L450.7 79.7L450.8 78.8L450.9 80.3L451.0 80.7L451.1 81.8L451.2 81.4L451.3 80.3L451.4 79.5L451.5 79.2L451.6 79.4L451.7 79.0L451.8 79.3L451.9 77.7L452.0 79.6L452.1 79.4L452.2 81.8L452.3 80.1L452.4 79.0L452.5 79.9L452.6 78.5L452.7 78.9L452.8 78.0L452.9 80.6L453.0 79.8L453.1 78.5L453.2 79.2L453.3 80.1L453.4 79.7L453.5 79.6L453.6 78.6L453.7 78.8L453.8 79.3L453.9 80.0L454.0 78.6L454.1 78.4L454.2 80.2L454.3 78.6L454.4 80.1L454.5 79.4L454.6 80.0L454.7 80.8L454.8 79.8L454.9 79.9L455.0 78.6L455.1 78.8L455.2 79.8L455.3 80.6L455.4 80.5L455.5 81.4L455.6 79.6L455.7 79.5L455.8 80.3L455.9 79.4L456.0 79.4L456.1 78.8L456.2 80.4L456.3 78.8L456.4 80.0L456.5 78.7L456.6 80.5L456.7 79.0L456.8 80.3L456.9 78.6L457.0 79.3L457.1 80.6L457.2 79.1L457.3 79.6L457.4 79.3L457.5 78.1L457.6 79.8L457.7 79.8L457.8 78.8L457.9 79.9L458.0 78.9L458.1 78.7L458.2 79.3L458.3 78.8L458.4 81.0L458.5 78.1L458.6 79.6L458.7 79.8L458.8 77.7L458.9 77.8L459.0 79.2L459.1 78.4L459.2 79.0L459.3 79.6L459.4 78.4L459.5 77.9L459.6 77.0L459.7 78.7L459.8 77.9L459.9 78.7L460.0 78.6L460.1 77.7L460.2 79.8L460.3 79.3L460.4 79.2L460.5 77.8L460.6 78.3L460.7 78.3L460.8 78.4L460.9 78.0L461.0 79.0L461.1 78.9L461.2 79.0L461.3 78.5L461.4 79.8L461.5 79.0L461.6 77.5L461.7 78.6L461.8 79.0L461.9 79.8L462.0 84.0L462.1 81.5L462.2 78.8L462.3 79.8L462.4 79.0L462.5 79.0L462.6 79.0L462.7 79.8L462.8 79.1L462.9 78.5L463.0 79.9L463.1 79.1L463.2 79.8L463.3 79.8L463.4 80.4L463.5 80.3L463.6 79.3L463.7 79.5L463.8 78.9L463.9 80.8L464.0 79.9L464.1 80.6L464.2 79.4L464.3 78.5L464.4 80.7L464.5 79.7L464.6 79.7L464.7 79.6L464.8 80.0L464.9 79.9L465.0 78.7L465.1 80.2L465.2 79.1L465.3 79.1L465.4 80.5L465.5 79.9L465.6 79.0L465.7 78.2L465.8 79.2L465.9 79.4L466.0 78.9L466.1 78.3L466.2 78.4L466.3 78.1L466.4 78.8L466.5 79.1L466.6 79.2L466.7 78.0L466.8 78.5L466.9 78.6L467.0 77.9L467.1 78.0L467.2 79.4L467.3 78.0L467.4 78.4L467.5 77.6L467.6 77.7L467.7 76.9L467.8 77.6L467.9 78.4L468.0 78.9L468.1 78.3L468.2 77.9L468.3 77.5L468.4 77.2L468.5 77.4L468.6 77.9L468.7 77.2L468.8 78.1L468.9 77.1L469.0 76.8L469.1 77.2L469.2 76.9L469.3 77.1L469.4 78.5L469.5 77.8L469.6 78.0L469.7 78.7L469.8 78.8L469.9 77.9L470.0 79.0L470.1 78.4L470.2 78.3L470.3 78.6L470.4 77.7L470.5 78.1L470.6 78.4L470.7 78.9L470.8 78.4L470.9 78.6L471.0 79.2L471.1 79.5L471.2 79.2L471.3 79.5L471.4 78.6L471.5 78.7L471.6 79.0L471.7 78.7L471.8 78.6L471.9 79.9L472.0 78.8L472.1 78.5L472.2 79.2L472.3 80.0L472.4 79.0L472.5 79.7L472.6 78.8L472.7 78.8L472.8 78.7L472.9 78.9L473.0 80.1L473.1 78.5L473.2 80.0L473.3 78.6L473.4 78.9L473.5 79.6L473.6 79.5L473.7 79.3L473.8 78.4L473.9 79.3L474.0 78.7L474.1 80.7L474.2 79.1L474.3 79.3L474.4 78.7L474.5 79.0L474.6 78.7L474.7 79.8L474.8 79.1L474.9 79.6L475.0 78.9L475.1 79.0L475.2 79.9L475.3 78.7L475.4 78.4L475.5 79.3L475.6 78.6L475.7 78.8L475.8 79.5L475.9 78.6L476.0 79.4L476.1 78.6L476.2 79.7L476.3 79.6L476.4 78.5L476.5 78.6L476.6 78.2L476.7 78.6L476.8 79.1L476.9 77.8L477.0 78.9L477.1 77.7L477.2 77.8L477.3 77.3L477.4 79.2L477.5 77.9L477.6 78.0L477.7 77.4L477.8 78.3L477.9 76.7L478.0 77.5L478.1 78.7L478.2 77.1L478.3 77.2L478.4 77.5L478.5 76.7L478.6 77.0L478.7 77.4L478.8 76.9L478.9 76.9L479.0 76.4L479.1 76.7L479.2 76.5L479.3 77.2L479.4 76.7L479.5 76.1L479.6 75.1L479.7 76.5L479.8 76.4L479.9 75.5L480.0 75.0L480.1 75.1L480.2 75.9L480.3 74.6L480.4 74.6L480.5 74.7L480.6 75.1L480.7 74.1L480.8 73.8L480.9 73.4L481.0 74.4L481.1 73.8L481.2 72.9L481.3 72.2L481.4 72.2L481.5 72.7L481.6 71.9L481.7 72.5L481.8 72.0L481.9 71.8L482.0 71.8L482.1 71.8L482.2 71.2L482.3 71.5L482.4 73.1L482.5 71.3L482.6 71.7L482.7 72.6L482.8 72.0L482.9 71.8L483.0 71.7L483.1 72.6L483.2 73.0L483.3 73.3L483.4 72.6L483.5 73.3L483.6 72.4L483.7 73.0L483.8 72.7L483.9 73.2L484.0 73.7L484.1 73.9L484.2 73.0L484.3 74.3L484.4 73.4L484.5 73.3L484.6 73.8L484.7 73.3L484.8 74.0L484.9 74.3L485.0 74.1L485.1 74.6L485.2 74.2L485.3 74.4L485.4 73.9L485.5 74.6L485.6 74.3L485.7 74.5L485.8 74.7L485.9 74.9L486.0 74.1L486.1 74.2L486.2 74.7L486.3 75.2L486.4 75.1L486.5 75.4L486.6 75.7L486.7 75.2L486.8 74.9L486.9 74.5L487.0 75.5L487.1 75.1L487.2 75.0L487.3 74.9L487.4 74.8L487.5 74.7L487.6 75.0L487.7 74.8L487.8 74.7L487.9 74.7L488.0 74.2L488.1 74.0L488.2 74.6L488.3 74.5L488.4 74.1L488.5 73.9L488.6 75.3L488.7 73.6L488.8 73.8L488.9 74.0L489.0 73.2L489.1 73.7L489.2 74.6L489.3 74.0L489.4 73.8L489.5 73.7L489.6 73.4L489.7 73.8L489.8 73.1L489.9 72.9L490.0 73.1L490.1 73.5L490.2 73.2L490.3 73.3L490.4 72.1L490.5 73.5L490.6 74.2L490.7 73.6L490.8 72.7L490.9 72.4L491.0 72.9L491.1 72.3L491.2 73.1L491.3 72.5L491.4 73.3L491.5 73.5L491.6 71.9L491.7 72.9L491.8 72.4L491.9 72.1L492.0 72.4L492.1 72.6L492.2 73.3L492.3 72.1L492.4 73.3L492.5 73.8L492.6 73.0L492.7 73.0L492.8 72.7L492.9 72.2L493.0 73.0L493.1 72.9L493.2 73.1L493.3 74.1L493.4 73.1L493.5 72.9L493.6 73.5L493.7 72.0L493.8 72.1L493.9 72.4L494.0 72.2L494.1 72.8L494.2 72.3L494.3 73.4L494.4 73.2L494.5 72.7L494.6 72.1L494.7 72.6L494.8 72.6L494.9 71.7L495.0 72.2L495.1 72.4L495.2 72.1L495.3 72.7L495.4 72.5L495.5 71.4L495.6 71.7L495.7 71.2L495.8 71.8L495.9 71.0L496.0 71.8L496.1 71.4L496.2 71.6L496.3 70.9L496.4 70.3L496.5 71.8L496.6 70.6L496.7 71.3L496.8 70.7L496.9 70.7L497.0 71.2L497.1 70.2L497.2 70.7L497.3 69.2L497.4 70.1L497.5 69.4L497.6 69.4L497.7 69.3L497.8 69.4L497.9 70.0L498.0 68.2L498.1 68.9L498.2 68.5L498.3 69.3L498.4 68.5L498.5 68.8L498.6 68.3L498.7 68.8L498.8 68.9L498.9 68.2L499.0 78.0L499.1 72.9L499.2 68.4L499.3 68.7L499.4 68.0L499.5 68.9L499.6 67.4L499.7 67.5L499.8 67.7L499.9 68.1L500.0 68.3L500.1 68.3L500.2 68.4L500.3 68.8L500.4 68.3L500.5 68.0L500.6 68.1L500.7 69.8L500.8 67.7L500.9 68.6L501.0 69.6L501.1 69.1L501.2 68.5L501.3 68.9L501.4 69.4L501.5 69.7L501.6 68.7L501.7 69.5L501.8 69.3L501.9 69.8L502.0 70.0L502.1 69.1L502.2 68.7L502.3 69.6L502.4 70.4L502.5 69.8L502.6 69.6L502.7 70.8L502.8 69.2L502.9 70.1L503.0 69.4L503.1 69.7L503.2 69.8L503.3 70.6L503.4 69.4L503.5 69.6L503.6 69.2L503.7 70.1L503.8 69.7L503.9 70.1L504.0 69.5L504.1 69.8L504.2 70.5L504.3 69.8L504.4 70.2L504.5 70.2L504.6 69.7L504.7 69.2L504.8 70.3L504.9 69.9L505.0 70.3L505.1 68.9L505.2 69.0L505.3 68.7L505.4 69.2L505.5 70.0L505.6 69.7L505.7 69.3L505.8 69.3L505.9 69.6L506.0 69.0L506.1 69.3L506.2 69.1L506.3 68.1L506.4 68.7L506.5 69.5L506.6 68.6L506.7 68.6L506.8 68.4L506.9 68.4L507.0 69.1L507.1 68.3L507.2 68.0L507.3 67.4L507.4 68.1L507.5 67.5L507.6 67.6L507.7 68.7L507.8 68.6L507.9 67.5L508.0 68.7L508.1 68.5L508.2 67.9L508.3 68.6L508.4 67.6L508.5 67.7L508.6 67.6L508.7 67.8L508.8 68.7L508.9 67.7L509.0 77.0L509.1 72.4L509.2 68.3L509.3 68.1L509.4 68.6L509.5 67.9L509.6 67.7L509.7 68.0L509.8 68.2L509.9 67.8L510.0 68.2L510.1 69.0L510.2 67.8L510.3 68.1L510.4 68.7L510.5 67.7L510.6 67.6L510.7 67.5L510.8 68.1L510.9 68.2L511.0 82.0L511.1 74.9L511.2 68.5L511.3 68.3L511.4 67.3L511.5 67.8L511.6 67.9L511.7 68.2L511.8 67.7L511.9 67.6L512.0 67.7L512.1 67.2L512.2 67.9L512.3 67.7L512.4 68.2L512.5 67.6L512.6 67.9L512.7 67.7L512.8 67.7L512.9 68.6L513.0 68.1L513.1 68.6L513.2 68.0L513.3 68.5L513.4 67.9L513.5 68.4L513.6 68.5L513.7 69.1L513.8 68.9L513.9 68.8L514.0 69.4L514.1 69.1L514.2 69.4L514.3 69.5L514.4 69.2L514.5 69.2L514.6 69.5L514.7 69.2L514.8 69.6L514.9 70.0L515.0 69.9L515.1 69.3L515.2 69.0L515.3 69.5L515.4 69.5L515.5 70.1L515.6 69.4L515.7 69.5L515.8 69.9L515.9 69.3L516.0 69.4L516.1 70.4L516.2 70.2L516.3 69.8L516.4 69.5L516.5 69.0L516.6 69.6L516.7 69.3L516.8 69.4L516.9 69.1L517.0 69.2L517.1 69.1L517.2 69.3L517.3 69.9L517.4 69.3L517.5 68.4L517.6 68.7L517.7 68.4L517.8 68.7L517.9 69.3L518.0 69.1L518.1 68.7L518.2 69.0L518.3 68.6L518.4 68.3L518.5 68.3L518.6 68.5L518.7 69.5L518.8 68.3L518.9 69.4L519.0 69.4L519.1 68.7L519.2 68.7L519.3 68.5L519.4 68.6L519.5 69.0L519.6 68.6L519.7 69.1L519.8 69.1L519.9 68.6L520.0 68.6L520.1 68.4L520.2 68.5L520.3 67.9L520.4 68.4L520.5 68.3L520.6 67.8L520.7 69.1L520.8 67.6L520.9 67.6L521.0 67.9L521.1 67.0L521.2 67.4L521.3 67.1L521.4 67.3L521.5 67.5L521.6 67.7L521.7 68.0L521.8 67.8L521.9 68.0L522.0 67.6L522.1 67.1L522.2 67.8L522.3 67.1L522.4 67.0L522.5 68.0L522.6 67.6L522.7 67.3L522.8 67.5L522.9 67.6L523.0 66.7L523.1 67.1L523.2 66.7L523.3 67.3L523.4 67.0L523.5 67.9L523.6 67.5L523.7 67.0L523.8 67.3L523.9 67.0L524.0 67.5L524.1 67.8L524.2 67.7L524.3 66.9L524.4 67.5L524.5 67.9L524.6 67.9L524.7 68.3L524.8 67.3L524.9 68.1L525.0 76.0L525.1 72.0L525.2 68.2L525.3 68.3L525.4 67.8L525.5 68.1L525.6 67.6L525.7 67.6L525.8 68.4L525.9 68.1L526.0 67.5L526.1 67.8L526.2 68.1L526.3 68.9L526.4 68.6L526.5 68.5L526.6 67.4L526.7 68.0L526.8 68.3L526.9 68.2L527.0 68.2L527.1 67.9L527.2 68.8L527.3 68.7L527.4 67.9L527.5 67.6L527.6 68.9L527.7 67.7L527.8 68.5L527.9 68.8L528.0 67.5L528.1 68.0L528.2 67.7L528.3 68.1L528.4 68.0L528.5 68.8L528.6 68.1L528.7 67.9L528.8 68.4L528.9 67.8L529.0 67.8L529.1 69.0L529.2 67.6L529.3 67.8L529.4 68.0L529.5 67.6L529.6 67.3L529.7 68.6L529.8 67.8L529.9 67.9L530.0 68.0L530.1 67.8L530.2 67.9L530.3 68.4L530.4 69.5L530.5 68.8L530.6 68.8L530.7 68.0L530.8 68.6L530.9 68.2L531.0 69.1L531.1 68.7L531.2 68.9L531.3 69.0L531.4 68.9L531.5 68.6L531.6 69.6L531.7 68.9L531.8 69.1L531.9 69.5L532.0 69.4L532.1 69.9L532.2 70.4L532.3 70.1L532.4 70.2L532.5 70.2L532.6 70.7L532.7 69.8L532.8 70.7L532.9 70.3L533.0 70.3L533.1 70.8L533.2 70.8L533.3 71.3L533.4 71.6L533.5 70.4L533.6 71.2L533.7 72.3L533.8 71.8L533.9 72.2L534.0 71.6L534.1 71.1L534.2 71.2L534.3 72.0L534.4 72.2L534.5 71.5L534.6 71.7L534.7 71.9L534.8 71.2L534.9 71.7L535.0 72.6L535.1 72.9L535.2 71.8L535.3 72.7L535.4 71.7L535.5 71.6L535.6 71.1L535.7 72.3L535.8 71.7L535.9 72.9L536.0 72.0L536.1 71.8L536.2 71.0L536.3 72.3L536.4 71.3L536.5 71.3L536.6 70.5L536.7 71.6L536.8 71.6L536.9 70.8L537.0 77.5L537.1 74.3L537.2 71.2L537.3 70.7L537.4 71.4L537.5 70.4L537.6 70.2L537.7 70.2L537.8 69.4L537.9 69.9L538.0 70.6L538.1 70.2L538.2 69.7L538.3 70.1L538.4 69.2L538.5 69.7L538.6 70.0L538.7 70.0L538.8 69.4L538.9 70.0L539.0 70.4L539.1 69.3L539.2 69.7L539.3 68.8L539.4 68.6L539.5 69.5L539.6 69.1L539.7 69.1L539.8 68.8L539.9 68.8L540.0 69.2L540.1 69.6L540.2 68.6L540.3 68.1L540.4 69.2L540.5 68.8L540.6 68.7L540.7 68.4L540.8 69.4L540.9 68.2L541.0 68.4L541.1 67.4L541.2 67.8L541.3 67.7L541.4 67.9L541.5 68.0L541.6 67.5L541.7 68.5L541.8 67.3L541.9 67.5L542.0 67.7L542.1 67.1L542.2 67.8L542.3 67.8L542.4 67.4L542.5 68.4L542.6 67.5L542.7 67.6L542.8 67.2L542.9 66.9L543.0 67.3L543.1 67.4L543.2 67.4L543.3 67.9L543.4 66.8L543.5 67.2L543.6 67.0L543.7 68.3L543.8 67.5L543.9 67.5L544.0 67.3L544.1 68.1L544.2 67.5L544.3 67.8L544.4 67.0L544.5 68.2L544.6 67.8L544.7 67.8L544.8 68.1L544.9 67.4L545.0 67.4L545.1 67.7L545.2 67.5L545.3 67.1L545.4 67.2L545.5 66.9L545.6 67.3L545.7 67.3L545.8 66.8L545.9 67.5L546.0 70.0L546.1 68.2L546.2 67.1L546.3 66.1L546.4 65.5L546.5 66.6L546.6 66.1L546.7 65.3L546.8 65.9L546.9 65.1L547.0 64.9L547.1 65.2L547.2 64.9L547.3 64.6L547.4 64.7L547.5 64.4L547.6 64.7L547.7 64.5L547.8 64.8L547.9 64.1L548.0 63.7L548.1 63.6L548.2 63.9L548.3 64.6L548.4 64.2L548.5 63.5L548.6 64.0L548.7 63.1L548.8 63.8L548.9 63.2L549.0 63.5L549.1 63.4L549.2 63.0L549.3 63.2L549.4 62.6L549.5 62.9L549.6 63.3L549.7 64.1L549.8 63.0L549.9 62.7L550.0 62.3L550.1 63.0L550.2 62.0L550.3 62.2L550.4 62.6L550.5 62.0L550.6 63.0L550.7 62.8L550.8 62.1L550.9 62.0L551.0 61.7L551.1 61.7L551.2 62.3L551.3 62.4L551.4 62.3L551.5 62.2L551.6 61.9L551.7 62.2L551.8 61.6L551.9 62.1L552.0 62.8L552.1 62.7L552.2 62.0L552.3 62.1L552.4 62.9L552.5 63.1L552.6 61.8L552.7 62.2L552.8 62.5L552.9 63.1L553.0 62.3L553.1 62.9L553.2 62.6L553.3 63.9L553.4 63.1L553.5 62.9L553.6 62.9L553.7 63.6L553.8 63.5L553.9 63.0L554.0 63.5L554.1 63.0L554.2 63.3L554.3 63.2L554.4 63.3L554.5 63.6L554.6 63.6L554.7 64.2L554.8 64.4L554.9 64.0L555.0 63.8L555.1 64.6L555.2 63.6L555.3 63.7L555.4 64.7L555.5 64.7L555.6 64.9L555.7 64.4L555.8 64.1L555.9 64.4L556.0 64.8L556.1 64.3L556.2 64.3L556.3 64.1L556.4 64.2L556.5 64.9L556.6 64.7L556.7 64.2L556.8 64.2L556.9 64.3L557.0 70.0L557.1 67.0L557.2 64.3L557.3 63.6L557.4 63.9L557.5 64.4L557.6 64.6L557.7 63.7L557.8 63.8L557.9 64.3L558.0 63.8L558.1 63.7L558.2 64.0L558.3 63.8L558.4 64.1L558.5 63.9L558.6 63.3L558.7 63.4L558.8 63.3L558.9 62.8L559.0 62.9L559.1 63.5L559.2 62.5L559.3 63.4L559.4 63.0L559.5 62.8L559.6 63.0L559.7 63.0L559.8 63.2L559.9 62.5L560.0 62.5L560.1 62.5L560.2 63.4L560.3 62.9L560.4 62.2L560.5 62.4L560.6 62.2L560.7 62.4L560.8 62.5L560.9 63.4L561.0 61.8L561.1 62.8L561.2 62.6L561.3 62.2L561.4 62.3L561.5 62.2L561.6 62.4L561.7 62.8L561.8 61.9L561.9 63.0L562.0 62.3L562.1 63.1L562.2 62.6L562.3 63.0L562.4 62.7L562.5 62.9L562.6 62.4L562.7 62.1L562.8 62.7L562.9 62.7L563.0 63.3L563.1 61.7L563.2 62.2L563.3 62.7L563.4 61.8L563.5 62.1L563.6 63.1L563.7 62.7L563.8 61.8L563.9 62.6L564.0 62.5L564.1 62.2L564.2 62.0L564.3 61.9L564.4 61.4L564.5 61.5L564.6 61.9L564.7 61.6L564.8 62.3L564.9 61.3L565.0 60.6L565.1 61.2L565.2 61.4L565.3 61.4L565.4 61.2L565.5 60.9L565.6 61.7L565.7 60.9L565.8 61.3L565.9 60.9L566.0 60.6L566.1 61.6L566.2 60.2L566.3 60.7L566.4 61.1L566.5 60.8L566.6 61.3L566.7 60.9L566.8 60.8L566.9 61.9L567.0 61.0L567.1 61.0L567.2 60.7L567.3 60.9L567.4 61.4L567.5 61.4L567.6 61.2L567.7 61.0L567.8 61.6L567.9 60.8L568.0 61.3L568.1 61.3L568.2 61.1L568.3 61.5L568.4 61.2L568.5 61.1L568.6 62.2L568.7 61.7L568.8 61.9L568.9 61.5L569.0 61.9L569.1 61.8L569.2 62.0L569.3 62.5L569.4 61.4L569.5 61.6L569.6 61.4L569.7 60.6L569.8 61.0L569.9 61.4L570.0 61.7L570.1 61.2L570.2 61.9L570.3 61.9L570.4 61.2L570.5 61.9L570.6 62.0L570.7 61.4L570.8 60.9L570.9 61.8L571.0 65.5L571.1 63.2L571.2 61.0L571.3 60.7L571.4 61.2L571.5 61.0L571.6 61.1L571.7 60.8L571.8 60.2L571.9 60.2L572.0 60.6L572.1 59.9L572.2 61.2L572.3 59.8L572.4 59.5L572.5 60.1L572.6 59.8L572.7 59.3L572.8 59.1L572.9 59.2L573.0 59.3L573.1 59.1L573.2 58.6L573.3 58.7L573.4 58.8L573.5 58.6L573.6 57.3L573.7 57.8L573.8 57.7L573.9 57.7L574.0 57.8L574.1 58.0L574.2 57.8L574.3 57.4L574.4 57.3L574.5 58.0L574.6 57.0L574.7 57.2L574.8 57.7L574.9 57.2L575.0 56.3L575.1 57.1L575.2 56.8L575.3 56.9L575.4 57.5L575.5 57.2L575.6 57.0L575.7 57.5L575.8 57.3L575.9 57.2L576.0 57.3L576.1 57.4L576.2 57.2L576.3 57.2L576.4 57.4L576.5 57.2L576.6 57.1L576.7 58.1L576.8 57.5L576.9 57.7L577.0 57.7L577.1 57.8L577.2 57.8L577.3 57.9L577.4 57.6L577.5 58.3L577.6 57.7L577.7 58.4L577.8 57.4L577.9 57.7L578.0 58.4L578.1 58.0L578.2 57.8L578.3 58.2L578.4 57.7L578.5 58.0L578.6 57.3L578.7 57.8L578.8 57.7L578.9 58.1L579.0 58.3L579.1 57.6L579.2 58.5L579.3 57.6L579.4 57.1L579.5 57.0L579.6 58.3L579.7 57.6L579.8 57.4L579.9 57.3L580.0 57.2L580.1 58.0L580.2 57.4L580.3 58.2L580.4 57.3L580.5 56.6L580.6 57.6L580.7 57.1L580.8 57.1L580.9 57.9L581.0 57.1L581.1 57.6L581.2 57.1L581.3 56.9L581.4 57.3L581.5 56.9L581.6 57.6L581.7 57.4L581.8 57.0L581.9 57.2L582.0 57.2L582.1 56.9L582.2 57.3L582.3 56.8L582.4 57.2L582.5 56.6L582.6 56.9L582.7 57.0L582.8 56.6L582.9 56.7L583.0 56.6L583.1 57.0L583.2 56.5L583.3 56.8L583.4 57.3L583.5 56.7L583.6 56.0L583.7 56.5L583.8 56.9L583.9 56.3L584.0 61.7L584.1 59.1L584.2 56.4L584.3 56.1L584.4 56.0L584.5 56.1L584.6 56.1L584.7 56.3L584.8 56.2L584.9 55.9L585.0 56.0L585.1 56.1L585.2 55.4L585.3 55.6L585.4 55.6L585.5 55.8L585.6 55.7L585.7 55.7L585.8 55.5L585.9 56.0L586.0 55.8L586.1 55.2L586.2 55.7L586.3 55.3L586.4 56.4L586.5 55.5L586.6 55.6L586.7 55.7L586.8 55.6L586.9 55.7L587.0 56.4L587.1 55.9L587.2 56.1L587.3 56.3L587.4 55.5L587.5 56.6L587.6 56.2L587.7 56.3L587.8 55.7L587.9 56.3L588.0 56.2L588.1 55.9L588.2 57.1L588.3 56.4L588.4 56.1L588.5 56.3L588.6 56.6L588.7 56.7L588.8 56.5L588.9 56.8L589.0 56.9L589.1 55.9L589.2 56.2L589.3 56.0L589.4 56.4L589.5 57.0L589.6 56.6L589.7 56.0L589.8 56.3L589.9 56.8L590.0 56.2L590.1 56.3L590.2 56.5L590.3 55.7L590.4 56.6L590.5 56.4L590.6 56.5L590.7 55.9L590.8 56.0L590.9 56.0L591.0 56.3L591.1 56.2L591.2 56.2L591.3 56.9L591.4 56.7L591.5 55.9L591.6 55.9L591.7 56.9L591.8 56.0L591.9 56.7L592.0 56.8L592.1 56.0L592.2 56.1L592.3 56.2L592.4 56.0L592.5 56.0L592.6 56.2L592.7 56.7L592.8 56.3L592.9 56.4L593.0 56.4L593.1 56.1L593.2 57.3L593.3 56.0L593.4 56.6L593.5 57.1L593.6 56.5L593.7 57.3L593.8 57.6L593.9 56.9L594.0 57.4L594.1 57.1L594.2 57.7L594.3 57.6L594.4 57.8L594.5 58.4L594.6 58.1L594.7 58.6L594.8 58.4L594.9 57.9L595.0 58.5L595.1 58.7L595.2 58.1L595.3 59.3L595.4 58.8L595.5 59.1L595.6 58.7L595.7 59.1L595.8 59.3L595.9 59.2L596.0 59.5L596.1 58.9L596.2 60.2L596.3 59.4L596.4 59.1L596.5 59.6L596.6 59.7L596.7 60.3L596.8 59.9L596.9 60.3L597.0 60.0L597.1 61.3L597.2 60.6L597.3 61.2L597.4 60.0L597.5 60.6L597.6 60.0L597.7 60.6L597.8 60.6L597.9 59.8L598.0 60.0L598.1 59.9L598.2 59.8L598.3 60.0L598.4 60.0L598.5 59.8L598.6 60.2L598.7 60.4L598.8 59.7L598.9 59.9L599.0 60.1L599.1 59.9L599.2 59.7L599.3 60.3L599.4 60.2L599.5 60.1L599.6 59.7L599.7 60.5L599.8 60.3L599.9 59.4L600.0 59.4L600.1 59.9L600.2 59.0L600.3 59.3L600.4 59.1L600.5 58.8L600.6 58.8L600.7 58.3L600.8 58.5L600.9 58.0L601.0 59.5L601.1 59.0L601.2 58.8L601.3 58.3L601.4 58.5L601.5 58.4L601.6 58.2L601.7 58.1L601.8 57.3L601.9 57.6L602.0 57.1L602.1 56.8L602.2 56.7L602.3 57.1L602.4 57.2L602.5 56.3L602.6 57.3L602.7 57.1L602.8 56.2L602.9 56.1L603.0 56.1L603.1 56.4L603.2 55.7L603.3 55.4L603.4 55.8L603.5 54.9L603.6 55.5L603.7 55.9L603.8 55.4L603.9 55.5L604.0 55.3L604.1 55.4L604.2 55.0L604.3 54.7L604.4 54.8L604.5 54.8L604.6 55.3L604.7 55.4L604.8 54.9L604.9 54.5L605.0 54.5L605.1 54.7L605.2 55.3L605.3 54.9L605.4 54.8L605.5 54.6L605.6 55.3L605.7 55.1L605.8 55.0L605.9 55.1L606.0 55.9L606.1 55.2L606.2 56.0L606.3 55.9L606.4 55.5L606.5 55.9L606.6 55.6L606.7 61.7L606.8 58.7L606.9 55.5L607.0 56.1L607.1 56.0L607.2 56.3L607.3 56.4L607.4 55.4L607.5 56.4L607.6 55.7L607.7 56.4L607.8 56.1L607.9 56.5L608.0 57.0L608.1 56.0L608.2 56.6L608.3 56.6L608.4 56.0L608.5 56.9L608.6 56.7L608.7 56.5L608.8 56.5L608.9 57.9L609.0 56.6L609.1 56.1L609.2 56.4L609.3 56.6L609.4 56.6L609.5 56.7L609.6 56.3L609.7 56.9L609.8 56.5L609.9 56.2L610.0 56.3L610.1 56.4L610.2 56.9L610.3 56.7L610.4 56.4L610.5 56.5L610.6 56.5L610.7 57.2L610.8 56.1L610.9 56.5L611.0 56.6L611.1 55.9L611.2 56.2L611.3 56.2L611.4 55.9L611.5 56.3L611.6 56.4L611.7 56.4L611.8 55.8L611.9 55.9L612.0 56.8L612.1 55.4L612.2 55.8L612.3 56.0L612.4 55.7L612.5 55.9L612.6 55.6L612.7 55.8L612.8 56.0L612.9 55.4L613.0 55.5L613.1 55.4L613.2 55.2L613.3 55.3L613.4 55.0L613.5 55.6L613.6 56.0L613.7 56.0L613.8 55.8L613.9 55.0L614.0 55.9L614.1 55.1L614.2 55.3L614.3 56.1L614.4 55.0L614.5 55.7L614.6 55.5L614.7 55.4L614.8 55.2L614.9 55.6L615.0 55.3L615.1 56.0L615.2 56.1L615.3 55.2L615.4 55.5L615.5 55.6L615.6 55.4L615.7 55.4L615.8 55.8L615.9 55.8L616.0 55.4L616.1 55.7L616.2 56.1L616.3 55.6L616.4 55.7L616.5 56.7L616.6 56.6L616.7 55.5L616.8 55.6L616.9 56.2L617.0 55.7L617.1 56.0L617.2 55.9L617.3 56.3L617.4 55.3L617.5 55.4L617.6 55.7L617.7 56.5L617.8 56.0L617.9 55.5L618.0 56.2L618.1 56.3L618.2 55.9L618.3 55.8L618.4 56.1L618.5 56.3L618.6 55.9L618.7 56.0L618.8 55.7L618.9 55.6L619.0 58.0L619.1 56.9L619.2 55.5L619.3 55.5L619.4 55.9L619.5 55.7L619.6 55.8L619.7 54.9L619.8 55.6L619.9 55.1L620.0 55.0L620.1 54.9L620.2 55.7L620.3 55.5L620.4 54.9L620.5 54.7L620.6 55.0L620.7 54.8L620.8 55.6L620.9 54.5L621.0 54.3L621.1 54.8L621.2 54.8L621.3 54.8L621.4 55.1L621.5 55.6L621.6 54.6L621.7 54.5L621.8 54.2L621.9 54.8L622.0 55.0L622.1 54.6L622.2 55.1L622.3 54.7L622.4 55.3L622.5 54.8L622.6 54.3L622.7 54.5L622.8 54.2L622.9 54.2L623.0 54.8L623.1 55.1L623.2 55.5L623.3 54.7L623.4 54.7L623.5 54.5L623.6 55.2L623.7 55.0L623.8 54.7L623.9 55.2L624.0 55.1L624.1 54.4L624.2 55.3L624.3 55.0L624.4 54.9L624.5 54.9L624.6 55.8L624.7 55.7L624.8 55.8L624.9 54.7L625.0 54.9L625.1 55.5L625.2 54.7L625.3 54.9L625.4 54.6L625.5 55.9L625.6 55.6L625.7 55.3L625.8 55.2L625.9 55.0L626.0 55.0L626.1 55.3L626.2 54.8L626.3 55.6L626.4 54.9L626.5 54.7L626.6 55.5L626.7 54.9L626.8 55.2L626.9 54.8L627.0 54.2L627.1 55.1L627.2 54.5L627.3 55.4L627.4 54.5L627.5 54.4L627.6 55.1L627.7 55.1L627.8 55.0L627.9 54.6L628.0 55.4L628.1 54.5L628.2 54.9L628.3 54.8L628.4 54.9L628.5 55.4L628.6 54.8L628.7 55.3L628.8 55.3L628.9 54.5L629.0 54.7L629.1 54.9L629.2 54.9L629.3 55.2L629.4 54.5L629.5 55.4L629.6 55.4L629.7 55.1L629.8 54.7L629.9 55.1L630.0 55.0L630.1 55.4L630.2 55.2L630.3 55.5L630.4 55.1L630.5 55.9L630.6 54.6L630.7 55.0L630.8 55.6L630.9 54.9L631.0 55.7L631.1 55.1L631.2 55.5L631.3 55.3L631.4 55.4L631.5 55.7L631.6 55.6L631.7 55.6L631.8 56.7L631.9 55.8L632.0 55.6L632.1 56.3L632.2 56.4L632.3 56.6L632.4 56.9L632.5 56.0L632.6 56.8L632.7 56.9L632.8 56.5L632.9 56.7L633.0 55.9L633.1 56.6L633.2 57.6L633.3 56.4L633.4 56.9L633.5 57.3L633.6 57.6L633.7 58.1L633.8 57.0L633.9 57.7L634.0 58.1L634.1 57.5L634.2 58.0L634.3 58.9L634.4 58.8L634.5 58.6L634.6 57.7L634.7 58.5L634.8 58.7L634.9 58.5L635.0 58.6L635.1 59.8L635.2 58.6L635.3 58.4L635.4 58.8L635.5 58.6L635.6 58.6L635.7 58.7L635.8 59.0L635.9 58.8L636.0 58.3L636.1 58.6L636.2 58.8L636.3 58.4L636.4 59.0L636.5 58.7L636.6 58.1L636.7 58.4L636.8 59.1L636.9 58.8L637.0 58.1L637.1 58.4L637.2 57.7L637.3 57.4L637.4 58.0L637.5 57.8L637.6 57.8L637.7 57.5L637.8 57.6L637.9 57.2L638.0 57.5L638.1 57.6L638.2 57.1L638.3 57.4L638.4 56.5L638.5 56.7L638.6 57.5L638.7 57.6L638.8 56.9L638.9 56.7L639.0 56.3L639.1 56.8L639.2 57.0L639.3 56.2L639.4 56.8L639.5 56.8L639.6 56.8L639.7 56.3L639.8 56.8L639.9 56.2L640.0 57.2L640.1 56.7L640.2 56.3L640.3 57.3L640.4 57.2L640.5 56.6L640.6 57.7L640.7 56.6L640.8 57.0L640.9 57.4L641.0 56.3L641.1 57.5L641.2 57.1L641.3 57.1L641.4 56.9L641.5 57.4L641.6 57.0L641.7 57.1L641.8 57.3L641.9 57.1L642.0 58.1L642.1 57.1L642.2 57.3L642.3 57.5L642.4 57.6L642.5 57.9L642.6 58.0L642.7 57.6L642.8 57.6L642.9 57.7L643.0 58.0L643.1 58.0L643.2 57.5L643.3 57.1L643.4 58.6L643.5 58.1L643.6 57.8L643.7 57.8L643.8 57.5L643.9 57.3L644.0 57.5L644.1 57.5L644.2 57.4L644.3 57.1L644.4 57.4L644.5 57.8L644.6 57.3L644.7 57.5L644.8 56.8L644.9 57.4L645.0 57.4L645.1 57.0L645.2 56.8L645.3 57.5L645.4 57.1L645.5 57.5L645.6 57.2L645.7 57.5L645.8 57.1L645.9 56.8L646.0 57.2L646.1 57.1L646.2 57.4L646.3 57.0L646.4 57.0L646.5 57.4L646.6 57.5L646.7 57.4L646.8 57.4L646.9 57.2L647.0 57.3L647.1 57.3L647.2 57.0L647.3 56.9L647.4 56.9L647.5 57.7L647.6 56.7L647.7 56.6L647.8 56.5L647.9 56.6L648.0 56.6L648.1 56.1L648.2 55.8L648.3 56.5L648.4 55.8L648.5 56.3L648.6 56.2L648.7 56.6L648.8 56.7L648.9 56.1L649.0 55.7L649.1 55.5L649.2 55.5L649.3 55.7L649.4 55.0L649.5 55.6L649.6 55.5L649.7 55.7L649.8 55.3L649.9 55.3L650.0 55.0L650.1 55.0L650.2 54.6L650.3 55.1L650.4 55.6L650.5 55.0L650.6 55.0L650.7 54.5L650.8 55.4L650.9 54.5L651.0 55.0L651.1 54.7L651.2 54.3L651.3 55.0L651.4 54.5L651.5 54.6L651.6 54.7L651.7 54.4L651.8 54.3L651.9 54.6L652.0 54.2L652.1 54.3L652.2 54.1L652.3 53.8L652.4 54.0L652.5 54.1L652.6 54.2L652.7 54.6L652.8 53.6L652.9 54.1L653.0 53.4L653.1 53.7L653.2 53.8L653.3 53.3L653.4 53.4L653.5 54.0L653.6 53.9L653.7 53.8L653.8 53.5L653.9 54.6L654.0 53.6L654.1 53.4L654.2 54.3L654.3 53.8L654.4 53.4L654.5 54.0L654.6 53.5L654.7 53.6L654.8 53.4L654.9 53.0L655.0 53.7L655.1 53.3L655.2 52.9L655.3 52.9L655.4 53.5L655.5 53.0L655.6 53.1L655.7 53.3L655.8 53.1L655.9 52.6L656.0 53.3L656.1 53.4L656.2 53.4L656.3 53.7L656.4 53.2L656.5 53.4L656.6 53.7L656.7 53.0L656.8 53.8L656.9 53.8L657.0 53.5L657.1 53.9L657.2 53.6L657.3 53.0L657.4 53.7L657.5 53.5L657.6 53.5L657.7 53.5L657.8 54.0L657.9 53.7L658.0 53.3L658.1 53.8L658.2 53.9L658.3 53.4L658.4 53.5L658.5 53.6L658.6 53.5L658.7 53.9L658.8 54.2L658.9 54.6L659.0 54.3L659.1 54.2L659.2 54.3L659.3 54.4L659.4 53.7L659.5 54.1L659.6 54.0L659.7 53.8L659.8 53.7L659.9 53.7L660.0 53.7L660.1 53.4L660.2 54.0L660.3 53.8L660.4 53.8L660.5 53.8L660.6 54.0L660.7 53.5L660.8 53.6L660.9 53.1L661.0 52.9L661.1 52.9L661.2 54.1L661.3 52.9L661.4 53.6L661.5 53.9L661.6 53.1L661.7 53.9L661.8 53.9L661.9 53.5L662.0 54.1L662.1 53.3L662.2 52.8L662.3 53.2L662.4 52.8L662.5 52.5L662.6 52.5L662.7 53.7L662.8 52.6L662.9 52.7L663.0 52.5L663.1 52.7L663.2 52.5L663.3 52.4L663.4 52.1L663.5 52.0L663.6 52.2L663.7 52.5L663.8 53.2L663.9 52.7L664.0 53.0L664.1 52.4L664.2 52.2L664.3 51.8L664.4 52.2L664.5 51.5L664.6 52.1L664.7 52.8L664.8 52.3L664.9 52.6L665.0 52.1L665.1 51.8L665.2 52.1L665.3 52.1L665.4 52.8L665.5 53.1L665.6 52.1L665.7 52.3L665.8 52.4L665.9 52.3L666.0 52.1L666.1 52.6L666.2 52.7L666.3 52.7L666.4 52.3L666.5 52.6L666.6 52.2L666.7 53.1L666.8 52.5L666.9 52.8L667.0 52.8L667.1 52.8L667.2 52.7L667.3 52.5L667.4 53.8L667.5 53.2L667.6 53.3L667.7 54.0L667.8 53.2L667.9 53.5L668.0 53.3L668.1 53.8L668.2 53.6L668.3 53.6L668.4 53.4L668.5 53.6L668.6 54.0L668.7 52.9L668.8 53.5L668.9 53.5L669.0 53.5L669.1 53.1L669.2 54.0L669.3 53.5L669.4 53.7L669.5 53.6L669.6 53.3L669.7 53.7L669.8 53.3L669.9 53.6L670.0 53.8L670.1 53.9L670.2 53.9L670.3 53.9L670.4 54.8L670.5 54.1L670.6 53.6L670.7 53.8L670.8 53.8L670.9 54.0L671.0 53.9L671.1 53.8L671.2 54.7L671.3 54.1L671.4 54.0L671.5 54.0L671.6 54.0L671.7 54.6L671.8 54.3L671.9 54.5L672.0 53.3L672.1 54.2L672.2 54.5L672.3 54.9L672.4 54.1L672.5 53.5L672.6 54.3L672.7 53.9L672.8 53.5L672.9 53.8L673.0 54.4L673.1 54.5L673.2 54.3L673.3 53.7L673.4 55.0L673.5 53.6L673.6 53.9L673.7 53.5L673.8 54.5L673.9 54.1L674.0 54.3L674.1 54.0L674.2 53.9L674.3 54.0L674.4 53.4L674.5 54.4L674.6 54.4L674.7 53.9L674.8 54.0L674.9 54.2L675.0 54.7L675.1 54.3L675.2 54.2L675.3 54.0L675.4 53.8L675.5 54.1L675.6 54.4L675.7 54.3L675.8 54.5L675.9 54.8L676.0 54.7L676.1 54.7L676.2 54.9L676.3 54.8L676.4 54.8L676.5 55.1L676.6 54.4L676.7 55.5L676.8 54.7L676.9 55.5L677.0 55.2L677.1 55.7L677.2 55.4L677.3 55.2L677.4 55.9L677.5 55.7L677.6 55.7L677.7 55.7L677.8 56.2L677.9 56.2L678.0 56.0L678.1 55.5L678.2 55.9L678.3 56.1L678.4 56.8L678.5 56.3L678.6 56.2L678.7 56.7L678.8 56.2L678.9 56.3L679.0 56.4L679.1 55.9L679.2 56.8L679.3 56.6L679.4 56.4L679.5 56.1L679.6 56.6L679.7 57.1L679.8 56.3L679.9 56.2L680.0 56.7L680.1 56.0L680.2 55.9L680.3 56.4L680.4 56.3L680.5 56.4L680.6 56.3L680.7 56.6L680.8 56.4L680.9 56.3L681.0 56.3L681.1 56.6L681.2 56.7L681.3 56.7L681.4 56.6L681.5 55.5L681.6 55.9L681.7 56.1L681.8 56.2L681.9 55.6L682.0 56.6L682.1 56.1L682.2 55.8L682.3 56.0L682.4 55.8L682.5 55.7L682.6 56.1L682.7 55.7L682.8 55.4L682.9 55.6L683.0 55.7L683.1 55.4L683.2 56.2L683.3 55.3L683.4 56.3L683.5 56.0L683.6 55.3L683.7 55.6L683.8 56.0L683.9 55.5L684.0 55.2L684.1 55.5L684.2 56.3L684.3 55.0L684.4 55.7L684.5 55.4L684.6 55.4L684.7 55.3L684.8 55.3L684.9 55.8L685.0 55.6L685.1 55.1L685.2 56.0L685.3 55.0L685.4 55.6L685.5 55.4L685.6 55.8L685.7 55.4L685.8 55.7L685.9 55.3L686.0 55.7L686.1 55.4L686.2 56.1L686.3 55.1L686.4 55.8L686.5 55.5L686.6 55.4L686.7 55.1L686.8 55.5L686.9 54.9L687.0 54.9L687.1 55.6L687.2 54.9L687.3 55.9L687.4 55.2L687.5 55.4L687.6 55.4L687.7 55.5L687.8 55.3L687.9 55.3L688.0 55.3L688.1 55.8L688.2 55.8L688.3 55.9L688.4 55.6L688.5 55.3L688.6 54.9L688.7 55.7L688.8 55.8L688.9 55.3L689.0 55.8L689.1 55.9L689.2 55.5L689.3 55.9L689.4 55.6L689.5 54.9L689.6 55.3L689.7 55.3L689.8 55.6L689.9 55.2L690.0 55.3L690.1 55.1L690.2 55.4L690.3 55.4L690.4 55.8L690.5 55.7L690.6 55.4L690.7 55.5L690.8 55.4L690.9 55.4L691.0 56.0L691.1 54.6L691.2 55.3L691.3 55.5L691.4 55.8L691.5 55.0L691.6 55.5L691.7 55.7L691.8 55.2L691.9 54.8L692.0 55.2L692.1 55.0L692.2 55.6L692.3 55.1L692.4 56.1L692.5 55.5L692.6 55.2L692.7 55.3L692.8 55.1L692.9 55.6L693.0 56.1L693.1 55.5L693.2 55.9L693.3 55.3L693.4 55.7L693.5 56.5L693.6 55.3L693.7 56.2L693.8 56.2L693.9 55.2L694.0 55.4L694.1 55.5L694.2 56.2L694.3 55.7L694.4 55.8L694.5 56.1L694.6 55.9L694.7 56.0L694.8 55.8L694.9 56.3L695.0 55.7L695.1 56.6L695.2 55.8L695.3 55.7L695.4 56.2L695.5 56.1L695.6 55.3L695.7 56.0L695.8 55.5L695.9 55.6L696.0 56.2L696.1 55.6L696.2 56.0L696.3 55.7L696.4 56.5L696.5 55.7L696.6 55.4L696.7 55.4L696.8 55.4L696.9 55.7L697.0 55.6L697.1 56.0L697.2 55.6L697.3 55.6L697.4 55.6L697.5 55.4L697.6 55.5L697.7 55.7L697.8 55.6L697.9 55.1L698.0 54.7L698.1 54.9L698.2 55.3L698.3 54.4L698.4 54.9L698.5 55.2L698.6 54.8L698.7 54.6L698.8 55.6L698.9 55.4L699.0 54.8L699.1 55.4L699.2 55.3L699.3 54.5L699.4 55.8L699.5 54.5L699.6 54.7L699.7 54.4L699.8 54.8L699.9 54.4L700.0 54.7L700.1 55.2L700.2 54.8L700.3 54.7L700.4 55.4L700.5 54.5L700.6 55.2L700.7 54.7L700.8 54.9L700.9 54.9L701.0 54.9L701.1 54.9L701.2 54.7L701.3 54.7L701.4 55.1L701.5 54.9L701.6 54.6L701.7 54.7L701.8 54.7L701.9 54.9L702.0 55.0L702.1 55.0L702.2 54.8L702.3 55.0L702.4 54.7L702.5 54.3L702.6 55.1L702.7 54.6L702.8 54.9L702.9 54.8L703.0 55.4L703.1 54.8L703.2 55.3L703.3 55.0L703.4 54.8L703.5 54.7L703.6 55.3L703.7 55.3L703.8 55.4L703.9 55.8L704.0 55.2L704.1 55.2L704.2 55.0L704.3 55.1L704.4 54.9L704.5 54.7L704.6 55.7L704.7 54.4L704.8 55.0L704.9 55.1L705.0 55.0L705.1 54.6L705.2 54.8L705.3 54.7L705.4 54.5L705.5 54.8L705.6 54.7L705.7 54.7L705.8 55.1L705.9 54.5L706.0 55.0L706.1 54.6L706.2 55.0L706.3 54.8L706.4 54.9L706.5 54.5L706.6 54.5L706.7 54.5L706.8 54.8L706.9 55.0L707.0 55.2L707.1 54.6L707.2 54.8L707.3 54.3L707.4 54.1L707.5 54.4L707.6 54.5L707.7 54.2L707.8 54.1L707.9 54.8L708.0 54.4L708.1 54.1L708.2 55.5L708.3 54.6L708.4 54.4L708.5 54.8L708.6 54.3L708.7 55.1L708.8 54.0L708.9 54.1L709.0 54.4L709.1 54.1L709.2 54.8L709.3 53.8L709.4 54.0L709.5 54.2L709.6 54.3L709.7 54.4L709.8 54.1L709.9 54.8L710.0 53.8L710.1 53.9L710.2 54.2L710.3 53.7L710.4 53.7L710.5 53.6L710.6 53.6L710.7 53.4L710.8 53.6L710.9 53.3L711.0 53.8L711.1 53.3L711.2 54.5L711.3 54.4L711.4 54.1L711.5 53.7L711.6 53.6L711.7 54.2L711.8 53.8L711.9 54.0L712.0 53.6L712.1 54.2L712.2 53.6L712.3 53.8L712.4 53.3L712.5 53.6L712.6 54.0L712.7 53.7L712.8 53.7L712.9 54.1L713.0 53.8L713.1 54.3L713.2 53.1L713.3 54.0L713.4 54.0L713.5 53.3L713.6 53.4L713.7 54.1L713.8 53.4L713.9 53.5L714.0 53.9L714.1 53.6L714.2 53.8L714.3 53.4L714.4 53.7L714.5 54.0L714.6 53.6L714.7 53.0L714.8 54.1L714.9 54.0L715.0 53.8L715.1 54.8L715.2 53.9L715.3 55.3L715.4 54.5L715.5 55.4L715.6 55.0L715.7 54.8L715.8 55.3L715.9 55.5L716.0 55.8L716.1 56.1L716.2 55.6L716.3 56.2L716.4 56.5L716.5 56.3L716.6 56.2L716.7 56.4L716.8 57.1L716.9 57.3L717.0 56.9L717.1 56.9L717.2 57.9L717.3 57.2L717.4 57.8L717.5 57.7L717.6 57.6L717.7 58.3L717.8 58.4L717.9 59.4L718.0 60.2L718.1 59.7L718.2 60.6L718.3 61.1L718.4 61.0L718.5 61.3L718.6 62.6L718.7 62.4L718.8 62.9L718.9 63.3L719.0 63.8L719.1 64.1L719.2 65.0L719.3 65.6L719.4 65.4L719.5 65.6L719.6 66.4L719.7 66.4L719.8 67.1L719.9 68.2L720.0 69.0L720.1 68.7L720.2 68.7L720.3 69.7L720.4 69.2L720.5 70.1L720.6 71.3L720.7 71.4L720.8 71.1L720.9 71.4L721.0 72.8L721.1 72.8L721.2 73.0L721.3 73.8L721.4 73.9L721.5 73.8L721.6 75.0L721.7 74.5L721.8 74.5L721.9 74.5L722.0 75.2L722.1 74.9L722.2 75.7L722.3 75.4L722.4 76.2L722.5 75.6L722.6 75.6L722.7 75.2L722.8 75.7L722.9 76.7L723.0 78.0L723.1 76.0L723.2 76.2L723.3 77.0L723.4 77.2L723.5 76.8L723.6 77.2L723.7 76.6L723.8 77.3L723.9 78.1L724.0 78.7L724.1 77.8L724.2 77.8L724.3 78.4L724.4 78.9L724.5 78.8L724.6 78.4L724.7 79.3L724.8 80.0L724.9 79.3L725.0 79.3L725.1 80.6L725.2 80.7L725.3 81.4L725.4 81.1L725.5 81.0L725.6 81.4L725.7 81.3L725.8 81.6L725.9 82.1L726.0 82.4L726.1 83.6L726.2 82.2L726.3 83.0L726.4 82.8L726.5 84.4L726.6 83.5L726.7 83.2L726.8 84.2L726.9 83.7L727.0 83.5L727.1 85.1L727.2 84.6L727.3 85.5L727.4 85.2L727.5 85.0L727.6 84.5L727.7 83.9L727.8 85.3L727.9 84.8L728.0 85.5L728.1 85.0L728.2 84.7L728.3 84.6L728.4 86.0L728.5 86.7L728.6 85.5L728.7 86.2L728.8 87.4L728.9 85.9L729.0 86.6L729.1 86.5L729.2 88.7L729.3 88.2L729.4 88.0L729.5 87.6L729.6 89.0L729.7 90.4L729.8 89.6L729.9 89.9L730.0 91.2L730.1 90.1L730.2 91.4L730.3 92.3L730.4 91.5L730.5 91.8L730.6 93.5L730.7 94.1L730.8 94.8L730.9 96.1L731.0 96.9L731.1 96.9L731.2 98.0L731.3 99.7L731.4 101.2L731.5 102.3L731.6 101.2L731.7 102.2L731.8 101.2L731.9 99.7L732.0 99.5L732.1 99.1L732.2 99.4L732.3 96.1L732.4 96.7L732.5 95.3L732.6 94.6L732.7 95.1L732.8 94.1L732.9 92.0L733.0 92.0L733.1 91.8L733.2 90.0L733.3 91.3L733.4 89.8L733.5 89.5L733.6 89.1L733.7 90.0L733.8 87.6L733.9 87.2L734.0 88.9L734.1 86.7L734.2 86.5L734.3 85.7L734.4 87.5L734.5 86.5L734.6 86.6L734.7 86.1L734.8 85.6L734.9 85.0L735.0 84.8L735.1 85.6L735.2 85.1L735.3 86.4L735.4 84.1L735.5 84.1L735.6 83.5L735.7 85.4L735.8 83.0L735.9 84.5L736.0 85.0L736.1 83.3L736.2 83.9L736.3 81.5L736.4 82.6L736.5 81.5L736.6 82.7L736.7 82.4L736.8 82.0L736.9 83.6L737.0 83.2L737.1 82.6L737.2 82.7L737.3 82.2L737.4 83.2L737.5 85.6L737.6 83.2L737.7 84.2L737.8 83.6L737.9 84.9L738.0 84.7L738.1 84.3L738.2 83.3L738.3 84.4L738.4 86.1L738.5 84.9L738.6 85.8L738.7 85.0L738.8 84.2L738.9 86.1L739.0 86.2L739.1 85.6L739.2 85.9L739.3 86.6L739.4 86.1L739.5 87.0L739.6 86.7L739.7 85.3L739.8 87.1L739.9 86.9L740.0 86.9L740.1 88.1L740.2 87.5L740.3 88.5L740.4 89.3L740.5 88.5L740.6 87.4L740.7 88.1L740.8 89.7L740.9 88.8L741.0 88.5L741.1 89.2L741.2 89.9L741.3 89.8L741.4 90.4L741.5 89.3L741.6 89.8L741.7 90.0L741.8 90.3L741.9 88.9L742.0 90.5L742.1 89.8L742.2 92.4L742.3 92.7L742.4 93.0L742.5 92.3L742.6 91.3L742.7 92.8L742.8 91.8L742.9 92.8L743.0 91.6L743.1 92.0L743.2 93.1L743.3 94.6L743.4 92.9L743.5 95.4L743.6 96.0L743.7 92.4L743.8 93.5L743.9 93.0L744.0 93.8L744.1 93.6L744.2 94.1L744.3 95.3L744.4 95.4L744.5 94.9L744.6 94.8L744.7 95.1L744.8 95.2L744.9 95.8L745.0 95.4L745.1 96.1L745.2 94.7L745.3 96.7L745.4 97.8L745.5 96.4L745.6 95.3L745.7 97.9L745.8 96.4L745.9 94.8L746.0 96.8L746.1 97.7L746.2 97.6L746.3 98.6L746.4 98.2L746.5 97.8L746.6 96.4L746.7 97.1L746.8 98.3L746.9 99.0L747.0 97.4L747.1 97.6L747.2 98.4L747.3 96.4L747.4 96.3L747.5 97.4L747.6 97.7L747.7 97.0L747.8 95.5L747.9 97.2L748.0 96.0L748.1 97.6L748.2 96.7L748.3 97.0L748.4 97.2L748.5 96.1L748.6 97.2L748.7 97.5L748.8 96.5L748.9 97.4L749.0 95.4L749.1 96.7L749.2 95.9L749.3 94.8L749.4 95.4L749.5 94.9L749.6 94.8L749.7 95.2L749.8 96.1L749.9 94.6L750.0 94.9L750.1 93.6L750.2 94.7L750.3 95.8L750.4 95.3L750.5 94.9L750.6 94.0L750.7 93.6L750.8 94.2L750.9 93.2L751.0 93.2L751.1 95.1L751.2 93.4L751.3 95.9L751.4 92.9L751.5 94.4L751.6 93.0L751.7 94.0L751.8 93.0L751.9 93.8L752.0 93.6L752.1 93.3L752.2 94.1L752.3 95.1L752.4 93.1L752.5 94.4L752.6 93.5L752.7 93.4L752.8 95.6L752.9 91.7L753.0 92.7L753.1 91.8L753.2 92.9L753.3 92.9L753.4 96.0L753.5 93.4L753.6 94.8L753.7 94.3L753.8 92.5L753.9 93.3L754.0 94.5L754.1 92.8L754.2 92.8L754.3 93.1L754.4 91.3L754.5 91.8L754.6 92.7L754.7 92.9L754.8 91.5L754.9 91.9L755.0 92.1L755.1 92.2L755.2 93.1L755.3 92.6L755.4 92.7L755.5 91.5L755.6 91.9L755.7 93.1L755.8 91.6L755.9 93.2L756.0 92.5L756.1 92.4L756.2 93.8L756.3 92.7L756.4 92.6L756.5 92.9L756.6 93.5L756.7 96.4L756.8 92.0L756.9 93.7L757.0 93.6L757.1 94.8L757.2 93.6L757.3 92.1L757.4 95.5L757.5 93.3L757.6 94.2L757.7 93.3L757.8 93.6L757.9 94.1L758.0 95.5L758.1 95.6L758.2 94.3L758.3 95.4L758.4 94.7L758.5 95.2L758.6 95.3L758.7 95.9L758.8 94.9L758.9 95.3L759.0 95.7L759.1 95.7L759.2 95.1L759.3 97.6L759.4 95.5L759.5 96.8L759.6 96.3L759.7 97.5L759.8 94.6L759.9 98.5L760.0 96.3L760.1 95.7L760.2 96.9L760.3 99.3L760.4 97.6L760.5 96.2L760.6 97.0L760.7 98.9L760.8 96.5L760.9 97.6L761.0 97.7L761.1 100.3L761.2 98.0L761.3 99.7L761.4 97.9L761.5 98.0L761.6 99.8L761.7 99.5L761.8 97.7L761.9 99.8L762.0 100.0L762.1 98.9L762.2 99.8L762.3 100.0L762.4 99.4L762.5 99.5L762.6 99.6L762.7 100.0L762.8 99.3L762.9 100.5L763.0 99.5L763.1 100.8L763.2 100.8L763.3 100.2L763.4 102.1L763.5 103.4L763.6 102.9L763.7 100.6L763.8 103.2L763.9 102.2L764.0 102.1L764.1 101.9L764.2 102.5L764.3 104.2L764.4 103.4L764.5 102.7L764.6 102.7L764.7 103.0L764.8 104.2L764.9 105.7L765.0 103.0L765.1 104.0L765.2 103.9L765.3 103.8L765.4 104.9L765.5 105.2L765.6 103.7L765.7 104.1L765.8 106.4L765.9 105.6L766.0 105.9L766.1 105.1L766.2 105.4L766.3 106.3L766.4 105.6L766.5 105.2L766.6 106.3L766.7 107.4L766.8 105.7L766.9 107.8L767.0 107.6L767.1 106.3L767.2 107.2L767.3 107.3L767.4 108.1L767.5 108.3L767.6 106.8L767.7 106.9L767.8 109.2L767.9 108.4L768.0 108.9L768.1 109.0L768.2 110.5L768.3 108.0L768.4 110.4L768.5 108.7L768.6 110.4L768.7 111.2L768.8 108.9L768.9 110.6L769.0 110.2L769.1 110.4L769.2 110.9L769.3 110.2L769.4 110.5L769.5 112.3L769.6 112.8L769.7 111.8L769.8 111.4L769.9 115.4L770.0 114.4L770.1 113.9L770.2 113.1L770.3 113.8L770.4 114.8L770.5 114.1L770.6 116.9L770.7 115.7L770.8 116.3L770.9 115.3L771.0 115.7L771.1 116.1L771.2 117.4L771.3 117.2L771.4 117.4L771.5 118.3L771.6 118.5L771.7 120.1L771.8 118.6L771.9 118.2L772.0 105.7L772.1 113.6L772.2 119.9L772.3 120.8L772.4 121.0L772.5 122.2L772.6 122.5L772.7 122.0L772.8 123.0L772.9 124.7L773.0 125.3L773.1 125.6L773.2 126.0L773.3 125.2L773.4 125.6L773.5 127.4L773.6 125.8L773.7 127.2L773.8 126.7L773.9 128.8L774.0 129.5L774.1 130.0L774.2 132.6L774.3 132.3L774.4 133.6L774.5 134.6L774.6 135.2L774.7 138.4L774.8 137.3L774.9 138.9L775.0 138.6L775.1 140.3L775.2 141.4L775.3 142.4L775.4 143.1L775.5 144.8L775.6 147.4L775.7 146.5L775.8 147.5L775.9 148.3L776.0 152.5L776.1 153.9L776.2 155.1L776.3 157.6L776.4 158.7L776.5 161.5L776.6 164.3L776.7 166.6L776.8 168.2L776.9 170.7L777.0 174.4L777.1 176.6L777.2 176.9L777.3 181.2L777.4 185.0L777.5 185.4L777.6 183.8L777.7 180.0L777.8 179.8L777.9 175.5L778.0 173.0L778.1 171.5L778.2 172.2L778.3 166.5L778.4 163.5L778.5 162.8L778.6 160.1L778.7 159.5L778.8 154.0L778.9 151.4L779.0 150.1L779.1 149.8L779.2 148.8L779.3 148.6L779.4 145.1L779.5 144.6L779.6 144.2L779.7 144.3L779.8 142.9L779.9 140.9L780.0 139.4L780.1 140.3L780.2 139.4L780.3 140.5L780.4 136.1L780.5 137.1L780.6 133.1L780.7 132.7L780.8 131.5L780.9 130.7L781.0 129.3L781.1 129.3L781.2 129.4L781.3 128.8L781.4 129.7L781.5 128.5L781.6 128.3L781.7 129.8L781.8 128.1L781.9 127.6L782.0 127.1L782.1 126.9L782.2 127.2L782.3 125.5L782.4 127.3L782.5 127.6L782.6 126.8L782.7 124.6L782.8 123.4L782.9 124.1L783.0 124.4L783.1 124.9L783.2 123.5L783.3 123.0L783.4 124.9L783.5 122.1L783.6 123.8L783.7 123.3L783.8 120.7L783.9 121.9L784.0 120.8L784.1 120.1L784.2 119.0L784.3 119.0L784.4 120.6L784.5 119.4L784.6 119.8L784.7 118.6L784.8 119.3L784.9 119.3L785.0 118.2L785.1 118.1L785.2 120.2L785.3 119.9L785.4 118.9L785.5 119.7L785.6 120.6L785.7 122.1L785.8 119.0L785.9 120.7L786.0 122.6L786.1 120.0L786.2 121.8L786.3 117.6L786.4 121.9L786.5 120.1L786.6 118.4L786.7 121.2L786.8 121.6L786.9 121.8L787.0 121.8L787.1 120.3L787.2 119.7L787.3 120.0L787.4 120.5L787.5 121.1L787.6 120.2L787.7 120.7L787.8 121.9L787.9 121.2L788.0 123.8L788.1 123.8L788.2 120.0L788.3 120.7L788.4 120.1L788.5 120.3L788.6 122.3L788.7 120.7L788.8 120.8L788.9 121.7L789.0 123.1L789.1 121.8L789.2 122.0L789.3 123.6L789.4 123.2L789.5 123.3L789.6 124.0L789.7 122.0L789.8 123.3L789.9 122.6L790.0 124.6L790.1 124.5L790.2 122.5L790.3 125.4L790.4 122.7L790.5 125.5L790.6 124.3L790.7 123.3L790.8 123.2L790.9 124.1L791.0 124.5L791.1 123.9L791.2 125.4L791.3 123.4L791.4 124.9L791.5 125.0L791.6 123.2L791.7 125.6L791.8 124.0L791.9 122.9L792.0 124.8L792.1 125.3L792.2 126.8L792.3 125.2L792.4 127.7L792.5 127.8L792.6 127.4L792.7 127.8L792.8 126.7L792.9 125.8L793.0 127.3L793.1 127.9L793.2 127.1L793.3 126.7L793.4 125.5L793.5 128.1L793.6 127.8L793.7 126.2L793.8 127.7L793.9 128.7L794.0 127.8L794.1 129.1L794.2 129.2L794.3 126.8L794.4 128.1L794.5 129.2L794.6 129.9L794.7 130.7L794.8 127.0L794.9 128.9L795.0 130.1L795.1 130.9L795.2 131.7L795.3 128.6L795.4 129.2L795.5 128.7L795.6 131.0L795.7 128.6L795.8 131.7L795.9 131.5L796.0 131.0L796.1 128.2L796.2 129.8L796.3 131.7L796.4 129.3L796.5 130.6L796.6 130.8L796.7 132.3L796.8 131.5L796.9 131.6L797.0 130.9L797.1 131.4L797.2 131.3L797.3 132.4L797.4 131.3L797.5 132.9L797.6 129.7L797.7 133.2L797.8 131.4L797.9 133.2L798.0 135.1L798.1 134.0L798.2 135.3L798.3 139.2L798.4 137.0L798.5 140.3L798.6 134.4L798.7 132.4L798.8 133.4L798.9 133.4L799.0 132.0L799.1 130.3L799.2 128.4L799.3 129.9L799.4 132.8L799.5 133.4L799.6 138.5L799.7 137.2L799.8 140.5L799.9 139.3L800.0 143.3L800.1 146.2L800.2 147.6L800.3 149.6L800.4 146.7L800.5 144.1L800.6 141.2L800.7 136.3L800.8 134.0L800.9 130.1L801.0 128.9L801.1 126.6L801.2 121.5L801.3 127.1L801.4 131.9L801.5 141.0L801.6 148.3L801.7 152.5L801.8 149.5L801.9 142.7L802.0 194.0L802.1 164.5L802.2 128.0L802.3 125.9L802.4 126.8L802.5 130.6L802.6 132.5L802.7 134.9L802.8 138.4L802.9 138.3L803.0 141.5L803.1 142.8L803.2 147.5L803.3 146.8L803.4 151.3L803.5 148.9L803.6 146.6L803.7 145.0L803.8 141.1L803.9 137.7L804.0 132.5L804.1 130.0L804.2 127.7L804.3 122.7L804.4 120.0L804.5 118.1L804.6 113.3L804.7 114.7L804.8 119.8L804.9 122.8L805.0 180.0L805.1 155.9L805.2 133.6L805.3 135.6L805.4 137.7L805.5 142.7L805.6 145.1L805.7 149.6L805.8 151.5L805.9 146.7L806.0 142.7L806.1 137.4L806.2 134.6L806.3 129.4L806.4 125.2L806.5 120.6L806.6 117.0L806.7 110.9L806.8 119.7L806.9 123.8L807.0 128.4L807.1 135.6L807.2 138.8L807.3 144.8L807.4 147.2L807.5 154.5L807.6 160.4L807.7 166.5L807.8 154.7L807.9 144.4L808.0 135.0L808.1 123.4L808.2 113.6L808.3 121.2L808.4 126.5L808.5 134.9L808.6 140.0L808.7 146.0L808.8 154.6L808.9 160.2L809.0 153.4L809.1 147.8L809.2 141.1L809.3 135.7L809.4 128.6L809.5 124.0L809.6 202.0L809.7 157.0L809.8 113.5L809.9 117.7L810.0 124.3L810.1 128.3L810.2 133.3L810.3 135.8L810.4 140.3L810.5 146.5L810.6 150.7L810.7 152.3L810.8 157.4L810.9 161.0L811.0 157.5L811.1 154.8L811.2 151.4L811.3 145.9L811.4 144.9L811.5 139.4L811.6 134.8L811.7 133.3L811.8 129.5L811.9 125.0L812.0 122.0L812.1 120.4L812.2 125.5L812.3 127.8L812.4 130.9L812.5 139.6L812.6 142.5L812.7 145.4L812.8 151.3L812.9 148.8L813.0 145.8L813.1 145.2L813.2 139.9L813.3 136.1L813.4 133.4L813.5 130.6L813.6 128.3L813.7 131.4L813.8 138.1L813.9 139.5L814.0 145.8L814.1 148.1L814.2 152.5L814.3 157.2L814.4 163.5L814.5 165.6L814.6 170.6L814.7 166.5L814.8 163.3L814.9 160.2L815.0 155.0L815.1 149.5L815.2 145.6L815.3 142.0L815.4 137.2L815.5 132.1L815.6 128.2L815.7 134.7L815.8 108.0L815.9 124.7L816.0 148.1L816.1 149.3L816.2 154.1L816.3 160.9L816.4 163.9L816.5 169.2L816.6 172.7L816.7 166.4L816.8 159.4L816.9 152.6L817.0 145.0L817.1 140.2L817.2 139.2L817.3 144.5L817.4 145.3L817.5 147.5L817.6 151.3L817.7 154.9L817.8 155.4L817.9 154.4L818.0 186.0L818.1 166.8L818.2 148.7L818.3 144.8L818.4 146.2L818.5 140.9L818.6 140.0L818.7 137.7L818.8 136.0L818.9 136.7L819.0 131.4L819.1 139.4L819.2 145.6L819.3 151.7L819.4 157.4L819.5 165.8L819.6 176.1L819.7 178.6L819.8 173.5L819.9 158.1L820.0 149.7L820.1 138.7L820.2 132.3L820.3 140.1L820.4 146.6L820.5 153.1L820.6 155.1L820.7 164.0L820.8 158.9L820.9 161.3L821.0 156.9L821.1 155.6L821.2 149.4L821.3 147.0L821.4 143.8L821.5 141.5L821.6 138.4L821.7 134.4L821.8 140.9L821.9 151.6L822.0 154.3L822.1 162.5L822.2 169.2L822.3 176.6L822.4 184.9L822.5 177.7L822.6 175.4L822.7 170.1L822.8 164.3L822.9 161.0L823.0 151.6L823.1 146.7L823.2 141.5L823.3 136.4L823.4 132.7L823.5 134.0L823.6 135.7L823.7 137.8L823.8 139.2L823.9 142.7L824.0 196.0L824.1 171.6L824.2 150.1L824.3 152.4L824.4 153.5L824.5 158.5L824.6 157.1L824.7 154.6L824.8 149.2L824.9 144.9L825.0 142.4L825.1 135.3L825.2 133.4L825.3 127.2L825.4 122.6L825.5 120.7L825.6 115.7L825.7 122.2L825.8 128.0L825.9 132.9L826.0 137.2L826.1 145.7L826.2 151.4L826.3 156.7L826.4 162.3L826.5 169.1L826.6 161.0L826.7 157.0L826.8 148.8L826.9 144.4L827.0 136.8L827.1 131.9L827.2 127.1L827.3 136.1L827.4 143.1L827.5 154.4L827.6 160.9L827.7 173.0L827.8 160.9L827.9 154.2L828.0 149.5L828.1 138.0L828.2 130.1L828.3 124.7L828.4 118.3L828.5 127.4L828.6 139.8L828.7 151.5L828.8 159.9L828.9 277.7L829.0 229.0L829.1 190.4L829.2 189.2L829.3 183.8L829.4 179.0L829.5 177.4L829.6 169.4L829.7 168.3L829.8 163.2L829.9 159.1L830.0 154.6L830.1 149.0L830.2 146.9L830.3 143.4L830.4 150.0L830.5 159.3L830.6 167.0L830.7 175.1L830.8 185.5L830.9 191.3L831.0 215.0L831.1 211.9L831.2 216.7L831.3 202.3L831.4 192.0L831.5 172.8L831.6 157.4L831.7 145.2L831.8 151.5L831.9 159.4L832.0 166.1L832.1 176.5L832.2 180.4L832.3 187.4L832.4 194.5L832.5 201.0L832.6 207.5L832.7 198.3L832.8 186.9L832.9 179.1L833.0 168.0L833.1 158.0L833.2 150.5L833.3 141.7L833.4 132.7L833.5 121.4L833.6 110.8L833.7 128.5L833.8 143.1L833.9 160.0L834.0 173.4L834.1 190.1L834.2 184.3L834.3 176.5L834.4 173.1L834.5 229.0L834.6 194.5L834.7 153.2L834.8 149.0L834.9 142.2L835.0 136.0L835.1 131.8L835.2 124.2L835.3 119.7L835.4 128.2L835.5 140.2L835.6 150.9L835.7 163.1L835.8 173.4L835.9 182.6L836.0 193.1L836.1 199.2L836.2 212.1L836.3 202.2L836.4 191.1L836.5 180.0L836.6 168.6L836.7 156.9L836.8 145.2L836.9 135.6L837.0 222.0L837.1 175.7L837.2 138.0L837.3 143.0L837.4 147.9L837.5 156.5L837.6 163.5L837.7 171.1L837.8 177.4L837.9 175.9L838.0 173.2L838.1 169.6L838.2 166.3L838.3 161.4L838.4 159.3L838.5 155.5L838.6 153.4L838.7 148.6L838.8 146.9L838.9 152.6L839.0 155.6L839.1 162.7L839.2 164.0L839.3 171.3L839.4 174.4L839.5 181.2L839.6 184.7L839.7 191.1L839.8 187.8L839.9 180.3L840.0 174.5L840.1 167.9L840.2 161.3L840.3 155.2L840.4 239.0L840.5 190.8L840.6 138.5L840.7 131.1L840.8 126.1L840.9 130.6L841.0 137.9L841.1 141.2L841.2 146.9L841.3 150.4L841.4 155.0L841.5 162.3L841.6 166.4L841.7 171.5L841.8 166.1L841.9 163.1L842.0 156.6L842.1 155.0L842.2 152.3L842.3 146.7L842.4 145.3L842.5 138.7L842.6 134.0L842.7 132.0L842.8 127.2L842.9 139.5L843.0 151.5L843.1 164.3L843.2 174.1L843.3 186.8L843.4 200.2L843.5 212.3L843.6 198.8L843.7 185.8L843.8 247.0L843.9 203.4L844.0 146.9L844.1 138.3L844.2 142.1L844.3 146.3L844.4 152.5L844.5 156.3L844.6 160.0L844.7 166.1L844.8 172.0L844.9 175.3L845.0 172.3L845.1 167.5L845.2 161.9L845.3 157.8L845.4 151.5L845.5 144.8L845.6 154.7L845.7 164.2L845.8 172.1L845.9 180.0L846.0 226.0L846.1 204.5L846.2 174.3L846.3 173.0L846.4 162.5L846.5 157.5L846.6 151.9L846.7 144.7L846.8 139.0L846.9 128.7L847.0 124.0L847.1 134.3L847.2 139.9L847.3 150.9L847.4 158.9L847.5 165.5L847.6 172.5L847.7 181.6L847.8 189.7L847.9 183.2L848.0 175.4L848.1 168.3L848.2 161.0L848.3 155.1L848.4 148.7L848.5 138.9L848.6 131.4L848.7 123.9L848.8 117.9L848.9 121.4L849.0 126.0L849.1 128.2L849.2 133.3L849.3 134.6L849.4 216.0L849.5 180.7L849.6 146.9L849.7 151.0L849.8 157.1L849.9 158.5L850.0 164.5L850.1 171.4L850.2 173.3L850.3 179.0L850.4 182.8L850.5 175.6L850.6 170.8L850.7 165.5L850.8 159.0L850.9 152.8L851.0 145.4L851.1 142.2L851.2 134.5L851.3 130.7L851.4 133.0L851.5 138.3L851.6 141.9L851.7 146.7L851.8 149.6L851.9 153.9L852.0 222.0L852.1 190.2L852.2 162.9L852.3 167.7L852.4 171.7L852.5 165.2L852.6 163.0L852.7 162.7L852.8 155.1L852.9 150.8L853.0 148.3L853.1 144.6L853.2 140.1L853.3 133.7L853.4 131.4L853.5 127.6L853.6 125.3L853.7 120.0L853.8 125.8L853.9 126.5L854.0 128.4L854.1 129.3L854.2 131.2L854.3 136.3L854.4 137.5L854.5 140.6L854.6 142.7L854.7 144.8L854.8 144.1L854.9 150.6L855.0 154.0L855.1 154.4L855.2 156.5L855.3 159.3L855.4 161.2L855.5 161.7L855.6 165.8L855.7 160.2L855.8 156.1L855.9 229.0L856.0 188.1L856.1 144.1L856.2 137.6L856.3 132.7L856.4 125.6L856.5 136.6L856.6 144.1L856.7 151.2L856.8 161.6L856.9 168.9L857.0 179.5L857.1 182.9L857.2 195.0L857.3 200.2L857.4 211.9L857.5 202.6L857.6 194.9L857.7 185.6L857.8 179.8L857.9 172.7L858.0 164.3L858.1 155.6L858.2 148.7L858.3 141.7L858.4 133.6L858.5 123.0L858.6 116.9L858.7 123.1L858.8 126.8L858.9 133.9L859.0 215.0L859.1 179.1L859.2 149.5L859.3 154.1L859.4 158.8L859.5 166.2L859.6 168.3L859.7 167.3L859.8 166.0L859.9 162.0L860.0 160.3L860.1 160.8L860.2 156.6L860.3 153.5L860.4 151.2L860.5 150.1L860.6 147.8L860.7 143.9L860.8 143.4L860.9 139.6L861.0 137.2L861.1 135.8L861.2 131.7L861.3 128.3L861.4 127.7L861.5 126.5L861.6 130.3L861.7 136.1L861.8 141.2L861.9 147.4L862.0 152.5L862.1 157.4L862.2 164.1L862.3 226.0L862.4 199.7L862.5 177.4L862.6 183.7L862.7 190.5L862.8 195.0L862.9 199.6L863.0 194.1L863.1 191.8L863.2 186.2L863.3 181.8L863.4 178.8L863.5 172.3L863.6 167.8L863.7 165.7L863.8 160.3L863.9 153.2L864.0 150.7L864.1 145.3L864.2 141.2L864.3 137.1L864.4 131.0L864.5 127.6L864.6 126.3L864.7 119.4L864.8 114.6L864.9 122.6L865.0 126.9L865.1 133.2L865.2 138.4L865.3 144.9L865.4 151.2L865.5 156.0L865.6 162.2L865.7 168.3L865.8 171.5L865.9 180.8L866.0 205.0L866.1 198.7L866.2 197.5L866.3 202.7L866.4 194.7L866.5 182.0L866.6 174.5L866.7 161.7L866.8 151.6L866.9 142.0L867.0 132.8L867.1 121.6L867.2 112.9L867.3 119.0L867.4 126.9L867.5 135.1L867.6 138.0L867.7 147.4L867.8 152.5L867.9 162.6L868.0 168.6L868.1 176.9L868.2 184.9L868.3 191.9L868.4 197.8L868.5 206.0L868.6 200.7L868.7 194.2L868.8 190.5L868.9 183.3L869.0 179.7L869.1 171.9L869.2 168.7L869.3 166.2L869.4 156.6L869.5 152.0L869.6 148.5L869.7 140.8L869.8 134.1L869.9 129.6L870.0 126.6L870.1 122.4L870.2 124.3L870.3 129.2L870.4 132.6L870.5 198.0L870.6 168.4L870.7 141.4L870.8 143.7L870.9 147.1L871.0 151.6L871.1 152.1L871.2 155.0L871.3 161.5L871.4 159.2L871.5 153.8L871.6 152.0L871.7 150.8L871.8 148.8L871.9 147.3L872.0 144.4L872.1 142.7L872.2 140.4L872.3 139.2L872.4 137.5L872.5 135.1L872.6 133.6L872.7 129.5L872.8 127.0L872.9 123.2L873.0 121.2L873.1 122.0L873.2 121.8L873.3 122.9L873.4 127.0L873.5 129.7L873.6 129.1L873.7 136.0L873.8 135.9L873.9 139.4L874.0 142.7L874.1 145.2L874.2 145.2L874.3 149.0L874.4 151.2L874.5 152.4L874.6 154.9L874.7 152.0L874.8 150.8L874.9 149.4L875.0 177.0L875.1 161.2L875.2 143.7L875.3 141.7L875.4 143.8L875.5 138.2L875.6 137.6L875.7 133.4L875.8 133.6L875.9 130.3L876.0 129.3L876.1 129.1L876.2 128.6L876.3 124.9L876.4 123.7L876.5 121.4L876.6 123.2L876.7 124.3L876.8 126.0L876.9 128.9L877.0 129.7L877.1 133.0L877.2 132.0L877.3 136.3L877.4 136.2L877.5 138.9L877.6 143.3L877.7 143.8L877.8 143.7L877.9 145.6L878.0 148.9L878.1 150.8L878.2 151.4L878.3 154.1L878.4 150.9L878.5 145.4L878.6 143.2L878.7 138.7L878.8 135.0L878.9 130.7L879.0 129.1L879.1 125.6L879.2 122.5L879.3 118.3L879.4 120.2L879.5 118.9L879.6 122.8L879.7 126.2L879.8 129.7L879.9 132.7L880.0 135.3L880.1 134.6L880.2 137.8L880.3 139.4L880.4 141.3L880.5 144.1L880.6 146.9L880.7 150.0L880.8 149.5L880.9 153.4L881.0 154.6L881.1 159.7L881.2 162.4L881.3 157.2L881.4 153.7L881.5 147.4L881.6 144.2L881.7 141.2L881.8 135.7L881.9 134.9L882.0 129.3L882.1 129.0L882.2 131.3L882.3 132.9L882.4 134.9L882.5 134.8L882.6 137.1L882.7 140.2L882.8 140.9L882.9 142.6L883.0 145.1L883.1 145.9L883.2 148.1L883.3 148.4L883.4 175.0L883.5 164.2L883.6 150.7L883.7 152.6L883.8 154.3L883.9 160.1L884.0 153.4L884.1 152.1L884.2 151.9L884.3 149.0L884.4 147.8L884.5 146.5L884.6 144.0L884.7 142.1L884.8 140.3L884.9 137.9L885.0 136.6L885.1 135.5L885.2 131.3L885.3 130.8L885.4 134.5L885.5 135.4L885.6 138.6L885.7 139.9L885.8 139.0L885.9 140.4L886.0 142.6L886.1 145.8L886.2 142.4L886.3 148.4L886.4 151.5L886.5 151.9L886.6 147.7L886.7 148.7L886.8 145.0L886.9 143.8L887.0 141.1L887.1 141.3L887.2 137.3L887.3 135.1L887.4 132.3L887.5 129.3L887.6 128.6L887.7 127.2L887.8 123.8L887.9 119.0L888.0 160.7L888.1 151.5L888.2 146.2L888.3 141.5L888.4 141.0L888.5 139.1L888.6 142.4L888.7 140.9L888.8 145.3L888.9 140.9L889.0 143.3L889.1 143.8L889.2 145.7L889.3 140.6L889.4 146.2L889.5 143.3L889.6 143.3L889.7 143.0L889.8 142.9L889.9 142.9L890.0 139.8L890.1 143.9L890.2 142.7L890.3 140.8L890.4 141.7L890.5 145.9L890.6 141.8L890.7 140.1L890.8 143.7L890.9 139.1L891.0 139.8L891.1 139.2L891.2 139.6L891.3 141.4L891.4 141.1L891.5 139.1L891.6 140.1L891.7 140.6L891.8 139.9L891.9 140.6L892.0 139.7L892.1 139.8L892.2 140.9L892.3 139.5L892.4 141.6L892.5 140.6L892.6 139.5L892.7 139.8L892.8 139.8L892.9 140.0L893.0 112.0L893.1 125.7L893.2 138.4L893.3 141.7L893.4 140.4L893.5 138.7L893.6 139.8L893.7 138.3L893.8 136.9L893.9 136.8L894.0 140.6L894.1 137.2L894.2 136.8L894.3 134.1L894.4 135.2L894.5 137.7L894.6 134.7L894.7 135.9L894.8 136.6L894.9 136.2L895.0 138.4L895.1 137.0L895.2 138.2L895.3 137.3L895.4 142.7L895.5 139.3L895.6 139.0L895.7 140.9L895.8 137.8L895.9 137.9L896.0 136.5L896.1 137.1L896.2 136.2L896.3 137.3L896.4 136.2L896.5 135.7L896.6 136.3L896.7 136.7L896.8 136.7L896.9 139.1L897.0 139.1L897.1 138.7L897.2 137.4L897.3 139.9L897.4 137.8L897.5 139.7L897.6 139.5L897.7 138.8L897.8 138.5L897.9 138.5L898.0 150.0L898.1 144.4L898.2 138.6L898.3 140.1L898.4 139.0L898.5 139.8L898.6 136.4L898.7 136.4L898.8 142.1L898.9 137.5L899.0 137.4L899.1 138.3L899.2 140.0L899.3 137.6L899.4 140.0L899.5 140.1L899.6 141.8L899.7 141.4L899.8 140.8L899.9 140.6L900.0 138.7L900.1 142.8L900.2 139.2L900.3 139.9L900.4 142.4L900.5 138.7L900.6 139.5L900.7 137.5L900.8 138.1L900.9 136.3L901.0 134.9L901.1 136.7L901.2 133.4L901.3 131.2L901.4 131.5L901.5 132.0L901.6 129.3L901.7 131.3L901.8 131.1L901.9 133.3L902.0 129.5L902.1 131.8L902.2 129.5L902.3 131.7L902.4 133.1L902.5 134.3L902.6 134.3L902.7 134.7L902.8 134.5L902.9 134.8L903.0 120.0L903.1 127.9L903.2 135.7L903.3 135.8L903.4 135.8L903.5 131.6L903.6 132.9L903.7 133.3L903.8 132.9L903.9 135.6L904.0 135.5L904.1 134.6L904.2 135.2L904.3 137.2L904.4 134.9L904.5 134.8L904.6 136.3L904.7 135.3L904.8 136.5L904.9 134.5L905.0 134.9L905.1 132.9L905.2 132.5L905.3 133.6L905.4 130.8L905.5 134.6L905.6 135.5L905.7 134.1L905.8 133.4L905.9 134.9L906.0 132.6L906.1 133.4L906.2 134.5L906.3 131.5L906.4 131.1L906.5 129.9L906.6 129.2L906.7 129.2L906.8 128.9L906.9 130.7L907.0 127.5L907.1 129.3L907.2 130.9L907.3 129.2L907.4 130.2L907.5 129.6L907.6 131.1L907.7 131.7L907.8 132.5L907.9 130.9L908.0 129.2L908.1 130.2L908.2 130.4L908.3 131.6L908.4 126.9L908.5 129.8L908.6 114.4L908.7 122.4L908.8 130.1L908.9 130.4L909.0 131.2L909.1 130.7L909.2 129.7L909.3 154.0L909.4 143.3L909.5 130.6L909.6 130.6L909.7 129.0L909.8 131.8L909.9 129.0L910.0 128.2L910.1 128.0L910.2 127.0L910.3 127.2L910.4 129.0L910.5 128.0L910.6 128.8L910.7 129.0L910.8 125.9L910.9 127.9L911.0 129.8L911.1 131.5L911.2 126.9L911.3 127.4L911.4 130.1L911.5 129.4L911.6 128.9L911.7 130.9L911.8 129.6L911.9 128.0L912.0 130.6L912.1 130.8L912.2 131.5L912.3 131.9L912.4 130.7L912.5 130.0L912.6 129.3L912.7 128.0L912.8 129.0L912.9 130.8L913.0 118.0L913.1 124.9L913.2 128.4L913.3 126.5L913.4 129.6L913.5 129.9L913.6 127.1L913.7 126.6L913.8 128.6L913.9 129.2L914.0 126.7L914.1 127.2L914.2 126.4L914.3 125.5L914.4 125.0L914.5 126.2L914.6 125.3L914.7 124.7L914.8 122.4L914.9 127.8L915.0 140.0L915.1 132.4L915.2 123.4L915.3 125.0L915.4 122.4L915.5 123.9L915.6 123.2L915.7 124.4L915.8 121.6L915.9 121.9L916.0 122.4L916.1 125.9L916.2 121.4L916.3 123.8L916.4 123.1L916.5 124.7L916.6 125.7L916.7 125.4L916.8 126.0L916.9 126.4L917.0 125.7L917.1 126.5L917.2 125.4L917.3 127.4L917.4 127.6L917.5 128.9L917.6 131.0L917.7 131.3L917.8 132.1L917.9 133.6L918.0 129.8L918.1 133.2L918.2 132.5L918.3 132.1L918.4 130.3L918.5 131.9L918.6 132.0L918.7 131.1L918.8 128.7L918.9 129.1L919.0 107.5L919.1 118.7L919.2 128.8L919.3 127.2L919.4 127.3L919.5 127.8L919.6 128.4L919.7 128.2L919.8 130.5L919.9 129.3L920.0 129.7L920.1 131.6L920.2 130.8L920.3 131.3L920.4 129.4L920.5 132.7L920.6 131.2L920.7 130.6L920.8 130.9L920.9 129.8L921.0 139.0L921.1 134.9L921.2 126.4L921.3 127.4L921.4 127.8L921.5 123.7L921.6 123.8L921.7 122.2L921.8 124.3L921.9 122.2L922.0 121.4L922.1 124.7L922.2 124.5L922.3 122.7L922.4 126.0L922.5 125.2L922.6 129.6L922.7 128.7L922.8 126.1L922.9 126.8L923.0 126.5L923.1 127.7L923.2 127.6L923.3 128.5L923.4 127.4L923.5 125.5L923.6 126.0L923.7 128.7L923.8 128.2L923.9 126.1L924.0 112.0L924.1 118.9L924.2 125.9L924.3 124.0L924.4 127.0L924.5 124.8L924.6 125.6L924.7 122.6L924.8 125.5L924.9 127.0L925.0 122.6L925.1 127.1L925.2 125.5L925.3 124.0L925.4 123.0L925.5 126.3L925.6 124.8L925.7 125.1L925.8 123.7L925.9 122.9L926.0 124.8L926.1 122.3L926.2 124.5L926.3 121.2L926.4 122.0L926.5 121.5L926.6 125.0L926.7 121.5L926.8 122.4L926.9 124.8L927.0 124.5L927.1 127.6L927.2 127.2L927.3 125.6L927.4 125.7L927.5 122.7L927.6 123.6L927.7 124.1L927.8 124.1L927.9 122.6L928.0 99.0L928.1 110.8L928.2 124.8L928.3 123.5L928.4 122.2L928.5 121.9L928.6 122.3L928.7 120.9L928.8 121.3L928.9 119.8L929.0 122.8L929.1 123.7L929.2 123.3L929.3 124.1L929.4 124.7L929.5 127.8L929.6 125.7L929.7 124.4L929.8 124.9L929.9 127.1L930.0 158.0L930.1 142.4L930.2 126.4L930.3 124.9L930.4 122.6L930.5 122.9L930.6 121.2L930.7 122.3L930.8 120.9L930.9 122.2L931.0 121.8L931.1 119.9L931.2 123.1L931.3 123.2L931.4 120.8L931.5 122.6L931.6 123.5L931.7 122.1L931.8 123.5L931.9 122.4L932.0 123.4L932.1 121.9L932.2 121.4L932.3 122.3L932.4 122.9L932.5 122.5L932.6 122.2L932.7 122.5L932.8 123.6L932.9 124.1L933.0 125.7L933.1 126.1L933.2 126.2L933.3 126.5L933.4 126.8L933.5 128.8L933.6 128.1L933.7 125.4L933.8 126.3L933.9 124.9L934.0 103.4L934.1 113.7L934.2 123.0L934.3 121.7L934.4 119.9L934.5 122.3L934.6 123.2L934.7 120.2L934.8 121.6L934.9 120.3L935.0 121.1L935.1 119.9L935.2 120.7L935.3 121.0L935.4 118.9L935.5 122.0L935.6 121.8L935.7 119.6L935.8 123.4L935.9 122.6L936.0 123.0L936.1 123.3L936.2 122.3L936.3 121.4L936.4 121.8L936.5 121.5L936.6 124.7L936.7 123.8L936.8 120.3L936.9 120.1L937.0 120.8L937.1 121.2L937.2 119.8L937.3 119.8L937.4 124.1L937.5 123.3L937.6 120.7L937.7 121.0L937.8 122.4L937.9 123.8L938.0 124.5L938.1 123.4L938.2 122.0L938.3 123.9L938.4 124.3L938.5 123.2L938.6 122.6L938.7 123.8L938.8 123.0L938.9 122.0L939.0 108.0L939.1 115.2L939.2 125.4L939.3 125.0L939.4 123.5L939.5 124.9L939.6 126.3L939.7 122.1L939.8 123.8L939.9 125.9L940.0 121.5L940.1 122.5L940.2 120.8L940.3 121.8L940.4 119.1L940.5 119.8L940.6 120.8L940.7 121.6L940.8 122.1L940.9 122.3L941.0 132.0L941.1 127.6L941.2 123.4L941.3 121.5L941.4 122.5L941.5 126.8L941.6 125.8L941.7 123.5L941.8 123.1L941.9 123.2L942.0 121.0L942.1 124.0L942.2 120.6L942.3 120.8L942.4 124.1L942.5 118.9L942.6 121.8L942.7 119.8L942.8 121.2L942.9 122.0L943.0 121.9L943.1 122.6L943.2 121.6L943.3 122.2L943.4 120.9L943.5 121.6L943.6 120.5L943.7 122.8L943.8 120.6L943.9 123.1L944.0 121.9L944.1 122.2L944.2 124.5L944.3 123.2L944.4 121.2L944.5 123.9L944.6 103.4L944.7 113.4L944.8 122.5L944.9 121.2L945.0 122.4L945.1 121.7L945.2 124.5L945.3 120.9L945.4 123.8L945.5 122.7L945.6 119.9L945.7 119.5L945.8 122.2L945.9 120.1L946.0 120.6L946.1 120.4L946.2 119.7L946.3 121.1L946.4 121.0L946.5 120.9L946.6 122.8L946.7 126.1L946.8 126.2L946.9 124.1L947.0 130.0L947.1 127.5L947.2 126.0L947.3 124.2L947.4 122.9L947.5 122.6L947.6 124.2L947.7 125.9L947.8 121.2L947.9 119.3L948.0 122.3L948.1 120.9L948.2 121.0L948.3 122.4L948.4 120.7L948.5 119.2L948.6 118.6L948.7 120.7L948.8 119.7L948.9 121.5L949.0 119.9L949.1 121.0L949.2 119.9L949.3 121.1L949.4 120.9L949.5 122.1L949.6 122.9L949.7 104.0L949.8 111.6L949.9 122.5L950.0 119.8L950.1 119.7L950.2 119.4L950.3 120.4L950.4 119.6L950.5 119.2L950.6 119.5L950.7 117.8L950.8 118.5L950.9 119.6L951.0 120.4L951.1 120.8L951.2 121.7L951.3 121.6L951.4 121.4L951.5 120.2L951.6 123.0L951.7 122.5L951.8 120.5L951.9 121.9L952.0 121.5" stroke="#0072bd" stroke-width="1.7" fill="none" stroke-linejoin="round"/>
<path d="M84.0 613.0L84.0 521.5L84.0 519.1L84.2 520.8L84.3 520.3L84.5 522.4L84.7 522.1L84.8 521.9L85.0 522.5L85.2 520.5L85.3 523.2L85.5 520.6L85.7 522.1L85.8 523.6L86.0 520.1L86.2 521.2L86.3 520.5L86.5 520.7L86.7 520.9L86.8 520.3L87.0 520.4L87.2 521.2L87.3 518.5L87.5 519.2L87.7 519.4L87.8 518.2L88.0 520.4L88.2 519.3L88.3 518.7L88.5 517.9L88.7 518.5L88.8 520.2L89.0 517.9L89.2 520.6L89.3 520.2L89.5 519.7L89.7 517.0L89.8 518.2L90.0 520.5L90.2 518.5L90.4 518.0L90.5 517.9L90.7 519.3L90.9 516.4L91.0 520.0L91.2 518.9L91.4 517.2L91.5 519.3L91.7 514.9L91.9 516.7L92.0 518.7L92.2 520.1L92.4 516.6L92.5 516.2L92.7 517.9L92.9 518.0L93.0 516.8L93.2 516.5L93.4 519.3L93.5 515.9L93.7 514.7L93.9 516.0L94.0 518.0L94.2 517.0L94.4 515.8L94.5 513.9L94.7 515.2L94.9 518.8L95.0 515.6L95.2 515.9L95.4 512.2L95.5 513.5L95.7 513.1L95.9 515.8L96.0 512.9L96.2 513.0L96.4 512.2L96.5 508.9L96.7 513.8L96.9 509.6L97.0 511.1L97.2 509.5L97.4 510.5L97.5 510.5L97.7 510.2L97.9 512.5L98.0 508.8L98.2 509.7L98.4 510.5L98.5 509.0L98.7 508.6L98.9 511.8L99.0 510.1L99.2 507.9L99.4 509.2L99.5 507.6L99.7 509.3L99.9 506.7L100.0 509.5L100.2 508.8L100.4 508.7L100.5 508.1L100.7 508.3L100.9 506.8L101.0 507.9L101.2 508.4L101.4 508.1L101.5 506.2L101.7 508.1L101.9 505.7L102.0 506.2L102.2 505.9L102.4 506.1L102.5 506.6L102.7 507.6L102.9 507.9L103.1 507.0L103.2 505.4L103.4 507.2L103.6 507.4L103.7 505.0L103.9 504.3L104.1 505.6L104.2 508.2L104.4 505.2L104.6 505.3L104.7 506.4L104.9 503.9L105.1 504.0L105.2 505.2L105.4 506.4L105.6 504.8L105.7 504.3L105.9 502.9L106.1 507.2L106.2 503.4L106.4 506.7L106.6 504.0L106.7 506.4L106.9 507.1L107.1 503.6L107.2 505.5L107.4 505.6L107.6 506.3L107.7 504.2L107.9 506.1L108.1 504.6L108.2 503.1L108.4 505.7L108.6 506.0L108.7 504.3L108.9 504.1L109.1 505.2L109.2 506.3L109.4 502.5L109.6 505.4L109.7 506.6L109.9 502.8L110.1 504.6L110.2 503.9L110.4 504.2L110.6 505.4L110.7 501.6L110.9 503.0L111.1 501.8L111.2 503.1L111.4 505.9L111.6 502.0L111.7 502.8L111.9 502.5L112.1 503.8L112.2 502.8L112.4 502.1L112.6 502.1L112.7 502.9L112.9 501.4L113.1 499.8L113.2 504.4L113.4 503.0L113.6 502.0L113.7 502.4L113.9 503.3L114.1 500.9L114.2 501.8L114.4 500.8L114.6 502.9L114.7 497.8L114.9 498.9L115.1 502.3L115.3 498.6L115.4 498.9L115.6 498.1L115.8 496.3L115.9 499.0L116.1 499.7L116.3 498.9L116.4 496.6L116.6 497.2L116.8 499.7L116.9 497.0L117.1 495.8L117.3 497.8L117.4 496.0L117.6 493.6L117.8 494.6L117.9 496.6L118.1 494.9L118.3 494.7L118.4 495.3L118.6 493.2L118.8 491.9L118.9 493.5L119.1 492.4L119.3 492.9L119.4 491.7L119.6 491.4L119.8 490.2L119.9 492.1L120.1 494.1L120.3 489.9L120.4 492.9L120.6 492.2L120.8 490.4L120.9 489.9L121.1 491.9L121.3 490.6L121.4 490.7L121.6 490.4L121.8 493.4L121.9 488.7L122.1 491.3L122.3 493.2L122.4 490.9L122.6 493.4L122.8 490.5L122.9 490.7L123.1 491.4L123.3 489.4L123.4 490.3L123.6 491.0L123.8 489.3L123.9 490.7L124.1 491.4L124.3 488.4L124.4 489.7L124.6 490.3L124.8 488.8L124.9 491.0L125.1 491.2L125.3 488.8L125.4 489.8L125.6 488.6L125.8 489.2L125.9 489.9L126.1 489.1L126.3 489.4L126.4 488.5L126.6 490.6L126.8 490.2L126.9 488.1L127.1 489.6L127.3 492.3L127.4 488.1L127.6 490.5L127.8 492.1L128.0 488.3L128.1 489.5L128.3 485.6L128.5 490.2L128.6 489.2L128.8 489.4L129.0 488.5L129.1 489.5L129.3 489.7L129.5 489.1L129.6 487.8L129.8 487.9L130.0 488.1L130.1 487.8L130.3 486.9L130.5 486.3L130.6 487.8L130.8 486.7L131.0 487.4L131.1 486.2L131.3 486.0L131.5 487.2L131.6 487.4L131.8 490.5L132.0 487.6L132.1 489.0L132.3 488.3L132.5 488.0L132.6 487.2L132.8 488.4L133.0 488.2L133.1 485.6L133.3 488.3L133.5 487.1L133.6 485.3L133.8 486.3L134.0 488.2L134.1 488.5L134.3 487.1L134.5 488.8L134.6 488.2L134.8 485.1L135.0 485.7L135.1 487.5L135.3 485.8L135.5 486.2L135.6 487.3L135.8 486.5L136.0 486.0L136.1 485.0L136.3 489.5L136.5 485.0L136.6 486.2L136.8 488.1L137.0 486.6L137.1 485.4L137.3 485.1L137.5 488.1L137.6 487.6L137.8 484.0L138.0 484.7L138.1 487.3L138.3 488.5L138.5 485.7L138.6 487.6L138.8 484.2L139.0 484.1L139.1 484.6L139.3 486.9L139.5 486.4L139.6 487.1L139.8 483.8L140.0 488.3L140.2 485.5L140.3 489.5L140.5 486.3L140.7 483.6L140.8 485.9L141.0 484.8L141.2 487.9L141.3 486.1L141.5 487.4L141.7 484.7L141.8 484.7L142.0 485.9L142.2 485.7L142.3 484.4L142.5 486.3L142.7 487.1L142.8 485.1L143.0 484.8L143.2 484.8L143.3 486.1L143.5 485.2L143.7 485.9L143.8 486.8L144.0 484.9L144.2 484.9L144.3 484.8L144.5 487.1L144.7 485.0L144.8 485.2L145.0 484.7L145.2 486.2L145.3 485.6L145.5 483.5L145.7 486.3L145.8 485.6L146.0 486.7L146.2 485.8L146.3 485.1L146.5 483.8L146.7 486.5L146.8 480.0L147.0 484.1L147.2 485.1L147.3 485.9L147.5 485.1L147.7 485.8L147.8 484.8L148.0 484.5L148.2 487.0L148.3 483.1L148.5 486.2L148.7 484.4L148.8 485.5L149.0 484.6L149.2 485.7L149.3 484.7L149.5 485.9L149.7 483.6L149.8 484.1L150.0 485.4L150.2 486.4L150.3 484.5L150.5 488.2L150.7 485.1L150.8 486.7L151.0 483.3L151.2 484.4L151.3 484.4L151.5 484.2L151.7 483.7L151.8 485.2L152.0 484.7L152.2 488.0L152.4 485.7L152.5 486.2L152.7 483.1L152.9 487.9L153.0 488.0L153.2 484.5L153.4 484.5L153.5 485.0L153.7 487.9L153.9 484.3L154.0 484.7L154.2 483.9L154.4 486.4L154.5 487.2L154.7 484.8L154.9 487.6L155.0 486.4L155.2 485.1L155.4 486.9L155.5 487.9L155.7 487.9L155.9 487.0L156.0 488.0L156.2 486.3L156.4 486.7L156.5 488.7L156.7 486.2L156.9 485.3L157.0 484.8L157.2 485.7L157.4 484.0L157.5 485.2L157.7 485.0L157.9 486.3L158.0 484.7L158.2 486.4L158.4 486.6L158.5 487.6L158.7 488.0L158.9 488.7L159.0 486.3L159.2 484.8L159.4 487.7L159.5 487.3L159.7 486.2L159.9 487.8L160.0 489.4L160.2 487.3L160.4 486.3L160.5 487.1L160.7 485.7L160.9 489.5L161.0 485.3L161.2 485.6L161.4 488.3L161.5 486.7L161.7 485.4L161.9 488.3L162.0 488.4L162.2 484.0L162.4 486.4L162.5 486.2L162.7 486.6L162.9 484.2L163.0 483.8L163.2 482.3L163.4 482.5L163.5 483.3L163.7 481.7L163.9 479.7L164.0 480.1L164.2 482.6L164.4 478.1L164.5 478.8L164.7 478.8L164.9 481.5L165.1 478.7L165.2 479.4L165.4 480.0L165.6 480.9L165.7 481.1L165.9 478.9L166.1 479.0L166.2 478.7L166.4 482.2L166.6 480.5L166.7 481.1L166.9 481.0L167.1 479.1L167.2 479.0L167.4 479.8L167.6 484.0L167.7 481.0L167.9 482.3L168.1 480.4L168.2 485.3L168.4 482.1L168.6 480.0L168.7 481.5L168.9 482.7L169.1 483.7L169.2 482.0L169.4 483.4L169.6 483.0L169.7 483.0L169.9 482.3L170.1 483.5L170.2 484.5L170.4 483.2L170.6 482.8L170.7 487.0L170.9 484.4L171.1 484.4L171.2 481.8L171.4 485.2L171.6 481.8L171.7 485.6L171.9 484.5L172.1 483.6L172.2 483.4L172.4 484.6L172.6 484.0L172.7 482.3L172.9 486.1L173.1 482.8L173.2 484.7L173.4 484.4L173.6 487.1L173.7 483.1L173.9 486.5L174.1 485.8L174.2 481.4L174.4 483.4L174.6 484.4L174.7 484.0L174.9 485.7L175.1 486.2L175.2 486.9L175.4 484.6L175.6 486.3L175.7 485.3L175.9 486.3L176.1 485.6L176.2 485.7L176.4 485.4L176.6 486.5L176.7 486.0L176.9 484.6L177.1 483.2L177.3 487.3L177.4 487.1L177.6 486.0L177.8 487.7L177.9 486.1L178.1 486.1L178.3 485.7L178.4 488.0L178.6 488.7L178.8 486.1L178.9 485.6L179.1 487.9L179.3 487.7L179.4 487.4L179.6 484.7L179.8 487.1L179.9 487.0L180.1 486.4L180.3 487.4L180.4 486.6L180.6 487.4L180.8 486.9L180.9 486.6L181.1 489.3L181.3 487.0L181.4 487.9L181.6 488.4L181.8 486.0L181.9 487.0L182.1 486.1L182.3 487.1L182.4 485.8L182.6 488.6L182.8 487.5L182.9 485.9L183.1 488.2L183.3 486.3L183.4 485.8L183.6 488.2L183.8 487.8L183.9 486.8L184.1 488.7L184.3 488.4L184.4 488.1L184.6 489.3L184.8 488.4L184.9 489.7L185.1 488.6L185.3 488.6L185.4 484.5L185.6 487.8L185.8 490.9L185.9 487.7L186.1 488.3L186.3 488.0L186.4 486.2L186.6 489.4L186.8 491.2L186.9 491.0L187.1 488.5L187.3 487.7L187.4 488.2L187.6 489.7L187.8 488.6L187.9 490.2L188.1 489.6L188.3 487.6L188.4 487.8L188.6 490.5L188.8 490.5L188.9 489.5L189.1 491.5L189.3 489.5L189.4 489.3L189.6 489.7L189.8 490.5L190.0 486.9L190.1 490.1L190.3 490.2L190.5 488.9L190.6 489.0L190.8 491.7L191.0 489.6L191.1 489.9L191.3 491.5L191.5 488.8L191.6 493.7L191.8 489.5L192.0 489.7L192.1 488.7L192.3 489.9L192.5 489.5L192.6 490.2L192.8 489.4L193.0 487.8L193.1 492.5L193.3 492.0L193.5 491.9L193.6 491.8L193.8 492.0L194.0 490.3L194.1 495.0L194.3 490.4L194.5 489.6L194.6 493.8L194.8 490.6L195.0 491.2L195.1 489.8L195.3 490.7L195.5 491.7L195.6 491.5L195.8 489.4L196.5 447.7L196.9 698.0L196.9 698.4L197.1 685.9L197.2 673.6L197.4 664.5L197.6 652.4L197.7 646.9L197.9 642.5L198.1 641.9L198.2 636.5L198.4 632.0L198.6 631.6L198.7 627.6L198.9 619.9L199.1 624.9L199.3 615.1L199.4 616.5L199.6 618.7L199.8 616.2L199.9 617.6L200.1 615.8L200.3 606.6L200.4 615.4L200.6 609.4L200.8 609.5L200.9 606.4L201.1 604.5L201.3 607.6L201.4 606.0L201.6 604.3L201.8 601.5L201.9 606.6L202.1 603.9L202.3 604.3L202.4 603.2L202.6 603.7L202.8 605.9L202.9 606.1L203.1 606.6L203.3 605.1L203.5 605.5L203.6 603.7L203.8 605.9L204.0 605.7L204.1 606.1L204.3 608.2L204.5 609.1L204.6 608.9L204.8 608.5L205.0 611.2L205.1 612.4L205.3 613.5L205.5 613.1L205.6 613.6L205.8 614.1L206.0 616.5L206.1 616.9L206.3 618.7L206.5 617.9L206.6 620.9L206.8 620.5L207.0 621.3L207.1 622.5L207.3 623.8L207.5 624.7L207.7 623.4L207.8 625.2L208.0 626.9L208.2 627.8L208.3 628.4L208.5 628.3L208.7 630.2L208.8 630.6L209.0 631.5L209.2 633.4L209.3 633.1L209.5 634.4L209.7 636.1L209.8 636.5L210.0 635.6L210.2 636.5L210.3 636.6L210.5 639.9L210.7 639.8L210.8 640.3L211.0 641.5L211.2 641.5L211.3 643.7L211.5 643.4L211.7 645.6L211.8 646.0L212.0 646.5L212.2 647.9L212.4 648.1L212.5 649.1L212.7 650.9L212.9 652.1L213.0 652.0L213.2 653.5L213.4 652.0L213.5 654.2L213.7 654.9L213.9 655.4L214.0 657.0L214.2 659.0L214.4 658.7L214.5 660.0L214.7 661.1L214.9 661.9L215.0 661.7L215.2 662.0L215.4 664.2L215.5 664.8L215.7 664.6L215.9 667.1L216.0 666.0L216.2 666.5L216.4 668.3L216.6 668.1L216.7 669.9L216.9 670.8L217.1 671.2L217.2 672.6L217.4 672.3L217.6 672.4L217.7 675.7L217.9 676.6L218.1 677.4L218.2 677.2L218.4 678.7L218.6 678.9L218.7 681.0L218.9 679.9L219.1 681.9L219.2 682.2L219.4 683.9L219.6 684.3L219.7 683.6L219.9 685.6L220.1 685.9L220.2 687.9L220.4 689.1L220.6 688.3L220.8 690.4L220.9 690.1L221.1 691.3L221.3 692.7L221.4 694.3L221.6 694.6L221.8 695.6L221.9 695.5L222.1 696.6L222.3 698.1L222.4 698.5L222.6 699.4L223.4 699.7L223.4 442.0L223.4 442.9L223.6 445.9L223.7 445.9L223.9 446.5L224.1 444.9L224.2 443.0L224.4 442.7L224.6 445.9L224.7 444.0L224.9 442.5L225.1 446.5L225.2 452.5L225.4 448.2L225.6 449.0L225.7 449.0L225.9 450.0L226.1 447.2L226.2 451.2L226.4 452.9L226.6 452.2L226.7 452.8L226.9 452.7L227.1 454.8L227.2 451.0L227.4 449.5L227.6 453.5L227.7 455.1L227.9 457.1L228.1 454.4L228.2 457.1L228.4 457.1L228.6 459.4L228.7 457.0L228.9 460.2L229.1 461.0L229.2 459.0L229.4 459.8L229.6 459.5L229.7 459.3L229.9 460.0L230.1 459.4L230.2 464.5L230.4 464.2L230.6 463.3L230.7 464.4L230.9 464.7L231.1 469.1L231.3 468.0L231.4 465.3L231.6 468.5L231.8 462.7L231.9 466.3L232.1 466.0L232.3 469.5L232.4 467.6L232.6 467.4L232.8 468.1L232.9 466.6L233.1 467.4L233.3 468.8L233.4 473.2L233.6 473.4L233.8 475.3L233.9 478.5L234.1 476.8L234.3 469.3L234.4 473.3L234.6 480.1L234.8 476.6L234.9 477.7L235.1 477.7L235.3 473.3L235.4 479.1L235.6 477.8L235.8 475.6L235.9 480.2L236.1 484.7L236.3 479.3L236.4 476.2L236.6 480.2L236.8 478.2L236.9 473.8L237.1 480.3L237.3 483.4L237.4 479.6L237.6 482.7L237.8 483.0L237.9 482.3L238.1 482.9L238.3 483.5L238.4 484.1L238.6 484.9L238.8 487.5L238.9 484.5L239.1 483.8L239.3 488.6L239.4 485.1L239.6 495.0L239.8 487.3L239.9 495.3L240.1 489.8L240.3 490.4L240.4 492.9L240.6 491.6L240.8 490.1L240.9 489.8L241.1 488.2L241.3 488.5L241.4 495.1L241.6 484.2L241.8 498.9L241.9 496.6L242.1 492.7L242.3 500.2L242.4 501.1L242.6 498.9L242.8 486.9L242.9 488.7L243.1 498.4L243.3 492.3L243.4 498.3L243.6 495.8L243.8 499.1L243.9 496.9L244.1 498.5L244.3 492.9L244.4 499.0L244.6 496.3L244.8 503.5L244.9 497.6L245.1 501.9L245.3 502.7L245.4 500.3L245.6 498.2L245.8 501.9L245.9 513.0L246.1 504.8L246.3 498.9L246.5 498.3L246.6 505.4L246.8 504.0L247.0 507.7L247.1 508.7L247.3 497.2L247.5 505.2L247.6 505.1L247.8 505.1L248.0 508.6L248.1 512.6L248.3 505.0L248.5 505.5L248.6 508.7L248.8 509.4L249.0 506.4L249.1 510.4L249.3 512.5L249.5 505.8L249.6 512.7L249.8 505.4L250.0 513.4L250.1 505.5L250.3 506.0L250.5 504.3L250.6 508.5L250.8 509.8L251.0 509.7L251.1 509.2L251.3 509.9L251.5 509.2L251.6 509.9L251.8 512.2L252.0 509.8L252.1 512.9L252.3 508.4L252.5 507.7L252.6 516.1L252.8 510.3L253.0 514.1L253.1 510.1L253.3 508.5L253.5 509.3L253.6 511.4L253.8 520.1L254.0 512.6L254.1 516.6L254.3 514.4L254.5 516.7L254.6 511.8L254.8 521.1L255.0 517.9L255.1 515.6L255.3 520.9L255.5 512.0L255.6 515.5L255.8 519.9L256.0 525.1L256.1 517.2L256.3 526.6L256.5 524.4L256.6 516.5L256.8 522.4L257.0 525.2L257.1 517.1L257.3 527.2L257.5 515.3L257.6 527.4L257.8 526.7L258.0 529.1L258.1 526.1L258.3 524.1L258.5 516.9L258.6 530.8L258.8 526.6L259.0 527.6L259.1 522.2L259.3 515.7L259.5 527.1L259.6 521.8L259.8 525.5L260.0 528.3L260.1 520.9L260.3 528.4L260.5 523.7L260.6 524.7L260.8 530.5L261.0 521.6L261.1 525.6L261.3 527.2L261.5 532.7L261.6 528.4L261.8 531.9L262.0 524.8L262.2 523.4L262.3 529.3L262.5 536.7L262.7 532.7L262.8 529.0L263.0 528.4L263.2 537.0L263.3 534.3L263.5 525.9L263.7 523.9L263.8 540.7L264.0 533.5L264.2 533.1L264.3 534.9L264.5 533.3L264.7 533.3L264.8 534.0L265.0 526.0L265.2 533.4L265.3 533.1L265.5 539.9L265.7 539.8L265.8 534.3L266.0 535.7L266.2 536.8L266.3 545.3L266.5 541.7L266.7 534.5L266.8 543.9L267.0 533.9L267.2 543.1L267.3 539.0L267.5 533.7L267.7 537.2L267.8 538.6L268.0 544.3L268.2 545.7L268.3 532.6L268.5 538.4L268.7 545.5L268.8 543.3L269.0 543.7L269.2 544.5L269.3 545.3L269.5 548.0L269.7 540.8L269.8 532.9L270.0 545.2L270.2 540.5L270.3 536.3L270.5 544.2L270.7 540.9L270.8 544.2L271.0 535.6L271.2 547.4L271.3 545.1L271.5 546.5L271.7 542.6L271.8 542.6L272.0 550.8L272.2 549.6L272.3 545.9L272.5 541.9L272.7 549.9L272.8 545.6L273.0 552.0L273.2 545.3L273.3 549.6L273.5 550.7L273.7 546.8L273.8 552.0L274.0 543.7L274.2 556.1L274.3 548.6L274.5 548.8L274.7 550.2L274.8 549.7L275.0 548.4L275.2 552.8L275.3 549.3L275.5 551.1L275.7 553.5L275.8 552.1L276.0 549.6L276.2 557.2L276.3 562.9L276.5 551.4L276.7 558.5L276.8 551.5L277.0 553.8L277.2 550.3L277.4 552.9L277.5 552.4L277.7 555.7L277.9 554.9L278.0 566.9L278.2 553.0L278.4 560.2L278.5 561.5L278.7 549.7L278.9 550.2L279.0 562.6L279.2 553.3L279.4 557.6L279.5 547.0L279.7 554.6L279.9 558.8L280.0 565.6L280.2 570.2L280.4 557.9L280.5 568.0L280.7 561.4L280.9 560.7L281.0 561.0L281.2 561.2L281.4 555.4L281.5 562.6L281.7 557.8L281.9 565.1L282.0 576.8L282.2 557.8L282.4 572.3L282.5 559.3L282.7 563.4L282.9 570.2L283.0 568.0L283.2 571.6L283.4 572.6L283.5 565.1L283.7 564.1L283.9 570.0L284.0 569.7L284.2 575.8L284.4 557.5L284.5 573.1L284.7 570.9L284.9 567.3L285.0 565.0L285.2 565.4L285.4 565.8L285.5 577.8L285.7 570.3L285.9 569.1L286.0 571.0L286.2 573.8L286.4 575.0L286.5 571.5L286.7 570.9L286.9 568.4L287.0 572.3L287.2 572.1L287.4 570.0L287.5 571.8L287.7 579.8L287.9 577.9L288.0 575.6L288.2 580.5L288.4 575.4L288.5 580.9L288.7 575.3L288.9 582.9L289.0 578.7L289.2 574.7L289.4 570.6L289.5 577.5L289.7 577.8L289.9 571.9L290.0 576.6L290.2 574.9L290.4 579.6L290.5 572.0L290.7 578.7L290.9 588.8L291.0 584.3L291.2 579.5L291.4 587.7L291.5 578.3L291.7 584.7L291.9 582.3L292.0 578.9L292.2 583.9L292.4 593.8L292.6 577.5L292.7 577.7L292.9 591.2L293.1 579.5L293.2 582.5L293.4 581.0L293.6 579.8L293.7 586.4L293.9 579.0L294.1 579.1L294.2 583.5L294.4 587.9L294.6 592.8L294.7 585.5L294.9 590.7L295.1 593.3L295.2 588.9L295.4 591.2L295.6 586.0L295.7 578.9L295.9 591.7L296.1 581.9L296.2 591.1L296.4 584.1L296.6 582.5L296.7 588.4L296.9 582.6L297.1 590.0L297.2 588.8L297.4 589.0L297.6 598.5L297.7 595.0L297.9 589.7L298.1 595.6L298.2 593.7L298.4 590.1L298.6 584.9L298.7 588.5L298.9 603.2L299.1 593.2L299.2 596.3L299.4 602.7L299.6 589.9L299.7 599.9L299.9 580.6L300.1 589.1L300.2 583.2L300.4 595.2L300.6 595.6L300.7 591.8L300.9 592.5L301.1 612.4L301.2 598.9L301.4 599.8L301.6 592.2L301.7 593.0L301.9 598.7L302.1 596.0L302.2 597.1L302.4 596.6L302.6 588.8L302.7 600.8L302.9 600.2L303.1 602.3L303.2 603.3L303.4 609.9L303.6 597.6L303.7 601.2L303.9 608.1L304.1 607.0L304.2 607.4L304.4 598.2L304.6 598.6L304.7 595.2L304.9 600.9L305.1 613.9L305.2 612.8L305.4 602.9L305.6 605.6L305.7 609.6L305.9 596.8L306.1 600.9L306.2 602.4L306.4 592.7L306.6 599.3L306.7 600.5L306.9 602.4L307.1 603.3L307.2 591.3L307.4 607.7L307.6 602.3L307.8 608.3L307.9 609.3L308.1 604.8L308.3 616.9L308.4 596.0L308.6 606.3L308.8 607.2L308.9 615.7L309.1 606.6L309.3 610.8L309.4 608.8L309.6 620.5L309.8 606.1L309.9 602.8L310.1 605.5L310.3 611.4L310.4 617.9L310.6 594.5L310.8 601.4L310.9 618.6L311.1 607.3L311.3 605.5L311.4 607.5L311.6 605.0L311.8 604.1L311.9 611.6L312.1 606.4L312.3 622.4L312.4 595.8L312.6 615.4L312.8 607.7L312.9 623.2L313.1 606.3L313.3 616.1L313.4 623.6L313.6 617.0L313.8 609.5L313.9 612.6L314.1 615.3L314.3 623.8L314.4 615.4L314.6 618.8L314.8 607.6L314.9 615.6L315.1 623.6L315.3 613.7L315.4 612.6L315.6 613.5L315.8 624.0L315.9 619.9L316.1 619.4L316.3 612.1L316.4 605.4L316.6 624.5L316.8 614.7L316.9 623.6L317.1 621.6L317.3 614.3L317.4 611.1L317.6 625.1L317.8 604.5L317.9 603.3L318.1 630.1L318.3 614.0L318.4 621.1L318.6 627.4L318.8 634.7L318.9 613.6L319.1 619.5L319.3 627.3L319.4 621.1L319.6 616.0L319.8 628.4L319.9 610.2L320.1 629.3L320.3 622.3L320.4 622.9L320.6 618.4L320.8 621.8L320.9 631.2L321.1 625.9L321.3 632.3L321.4 628.8L321.6 622.2L321.8 623.3L321.9 625.9L322.1 622.6L322.3 636.1L322.4 618.1L322.6 639.0L322.8 622.0L322.9 620.9L323.1 627.4L323.3 618.5L323.5 640.2L323.6 640.3L323.8 639.1L324.0 641.9L324.1 638.4L324.3 616.2L324.5 634.8L324.6 625.0L324.8 636.8L325.0 628.7L325.1 627.8L325.3 624.6L325.5 635.9L325.6 640.1L325.8 624.2L326.0 635.3L326.1 636.2L326.3 632.3L326.5 631.9L326.6 642.6L326.8 643.9L327.0 639.8L327.1 639.9L327.3 640.6L327.5 630.8L327.6 635.0L327.8 636.0L328.0 629.1L328.1 642.4L328.3 651.0L328.5 652.4L328.6 635.5L328.8 633.9L329.0 631.7L329.1 643.3L329.3 637.8L329.5 647.6L329.6 630.6L329.8 640.5L330.0 634.9L330.1 641.9L330.3 638.5L330.5 626.1L330.6 647.1L330.8 641.4L331.0 642.6L331.1 641.0L331.3 634.5L331.5 642.4L331.6 648.6L331.8 655.9L332.0 644.8L332.1 639.2L332.3 652.9L332.5 642.3L332.6 642.4L332.8 644.5L333.0 649.7L333.1 635.5L333.3 646.3L333.5 645.3L333.6 642.6L333.8 659.7L334.0 634.0L334.1 646.6L334.3 648.8L334.5 649.2L334.6 659.8L334.8 631.4L335.0 645.9L335.1 641.9L335.3 637.8L335.5 644.7L335.6 653.2L335.8 648.0L336.0 666.4L336.1 638.6L336.3 654.1L336.5 654.2L336.6 653.1L336.8 657.7L337.0 672.0L337.1 657.3L337.3 651.5L337.5 649.9L337.6 646.7L337.8 651.2L338.0 660.9L338.1 651.3L338.3 661.7L338.5 654.5L338.7 656.4L338.8 667.6L339.0 647.5L339.2 656.9L339.3 665.4L339.5 663.0L339.7 661.8L339.8 670.7L340.0 655.7L340.2 660.8L340.3 675.0L340.5 650.8L340.7 665.5L340.8 666.3L341.0 664.4L341.2 665.6L341.3 655.3L341.5 664.0L341.7 662.1L341.8 666.7L342.0 665.2L342.2 679.9L342.3 673.1L342.5 683.0L342.7 673.9L342.8 669.4L343.0 672.4L343.2 677.8L343.3 659.9L343.5 654.3L343.7 655.2L343.8 674.4L344.0 665.2L344.2 666.0L344.3 669.8L344.5 676.1L344.7 666.2L344.8 662.9L345.0 665.9L345.2 677.2L345.3 669.3L345.5 676.5L345.7 680.5L345.8 669.6L346.0 665.1L346.9 444.8L347.2 698.9L347.5 443.2L347.9 696.6L348.2 442.8L348.5 693.5L348.8 448.7L349.1 693.8L349.5 445.3L349.8 696.9L350.1 476.6L350.4 699.3L350.7 443.0L351.1 655.5L351.4 457.3L351.7 699.2L352.0 443.6L352.3 698.6L352.7 443.5L353.0 696.0L353.3 448.9L353.6 698.5L353.9 460.8L354.3 690.5L354.6 489.5L354.9 695.4L355.2 450.0L355.5 688.6L355.9 449.0L356.2 697.4L356.5 448.6L356.8 663.4L357.1 446.5L357.5 684.5L357.8 448.8L358.1 696.9L358.4 443.7L358.7 695.5L359.1 446.4L359.4 696.7L359.7 498.4L360.0 674.7L360.3 449.7L360.7 690.8L361.0 449.6L361.3 652.3L361.6 449.0L361.9 692.0L362.3 446.8L362.6 696.0L362.9 445.6L363.2 698.5L363.5 445.3L363.9 687.8L364.2 444.8L364.5 696.9L364.8 442.5L365.1 472.8L365.4 461.6L365.6 451.7L365.9 489.0L366.1 472.6L366.4 460.0L366.6 445.9L366.9 492.5L367.1 453.4L367.7 452.0L368.0 696.3L368.3 450.0L368.2 457.6L368.3 461.2L368.4 455.2L368.5 458.4L368.6 454.7L368.7 452.5L368.8 456.5L368.9 458.4L369.0 458.7L369.1 457.2L369.2 462.1L369.3 467.1L369.4 460.0L369.5 465.2L369.6 466.7L369.7 469.6L369.8 468.6L369.9 471.1L370.0 466.8L370.1 459.9L370.2 461.5L370.3 465.7L370.4 463.2L370.5 465.0L370.6 469.0L370.7 470.7L370.8 468.9L370.9 474.5L371.0 486.0L371.1 466.6L371.2 470.2L371.3 466.2L371.4 484.0L371.5 482.9L371.6 466.2L371.7 481.2L371.8 466.4L371.9 482.0L372.0 479.5L372.1 480.5L372.2 464.5L372.3 483.0L372.4 483.7L372.5 495.3L372.6 484.5L372.7 483.4L372.8 477.3L372.9 490.8L373.0 494.6L373.1 494.7L373.2 497.1L373.3 486.0L373.4 472.3L373.5 490.0L373.6 507.0L373.7 505.4L373.8 482.8L373.9 517.4L374.0 476.0L374.1 503.8L374.2 480.9L374.3 503.4L374.4 507.7L374.5 525.7L374.6 490.4L374.7 493.2L374.8 514.7L374.9 514.9L375.0 512.0L375.1 492.3L375.2 490.9L375.3 505.0L375.4 508.9L375.5 516.4L375.6 491.7L375.7 478.7L375.8 521.9L375.9 503.5L376.0 503.8L376.1 523.6L376.2 485.5L376.3 510.8L376.4 506.9L376.5 522.5L376.6 515.6L376.7 529.8L376.8 496.9L376.9 513.7L377.0 507.4L377.1 544.5L377.2 550.0L377.3 529.9L377.4 543.2L377.5 527.7L377.6 521.4L377.7 561.7L377.8 535.1L377.9 565.4L378.0 588.1L378.2 518.8L378.3 555.7L378.4 539.1L378.5 555.6L378.6 501.2L378.7 563.5L378.8 534.5L378.9 560.6L379.0 565.4L379.1 575.8L379.2 559.8L379.3 568.2L379.4 556.5L379.5 530.9L379.6 552.6L379.7 556.8L379.8 562.2L379.9 575.1L380.0 578.6L380.1 599.6L380.2 622.2L380.3 554.7L380.4 583.5L380.5 591.6L380.6 578.0L380.7 600.3L380.8 537.3L380.9 603.3L381.0 585.8L381.1 551.4L381.2 588.1L381.3 636.4L381.4 594.9L381.5 641.9L381.6 646.6L381.7 608.5L381.8 597.9L381.9 619.9L382.0 636.9L382.1 645.3L382.2 617.9L382.3 595.7L382.4 644.3L382.5 581.0L382.6 613.6L382.7 620.9L382.8 630.9L382.9 611.8L383.0 627.6L383.1 643.0L383.2 628.6L383.3 614.2L383.4 644.9L383.5 635.3L383.6 616.6L383.7 622.8L383.8 669.2L383.9 635.3L384.0 648.9L384.1 633.2L384.2 640.2L384.3 643.5L384.4 637.6L384.5 659.6L384.6 665.8L384.7 663.2L384.8 645.5L384.9 643.4L385.0 624.0L385.1 672.6L385.2 653.0L385.3 641.2L385.4 643.8L385.5 673.8L385.6 659.6L385.7 675.9L385.8 669.3L385.9 681.2L386.0 673.2L386.1 633.4L386.2 689.8L386.3 658.4L386.4 693.0L386.5 678.6L386.6 670.3L386.7 674.8L386.8 673.6L386.9 686.1L387.0 688.6L387.1 675.4L387.2 673.8L387.3 697.3L387.4 692.5L387.5 684.2L387.6 698.3L387.7 699.7L387.8 698.0L387.9 699.3L388.0 697.4L388.4 699.7L388.4 445.6L388.9 442.3L389.0 449.4L389.2 447.4L389.3 457.9L389.4 452.1L389.5 457.8L389.7 454.1L389.8 452.4L389.9 458.6L390.0 475.1L390.2 465.4L390.3 454.5L390.4 476.3L390.6 479.7L390.7 466.8L390.8 475.9L390.9 476.9L391.1 472.0L391.2 481.7L391.3 467.4L391.4 488.4L391.6 497.2L391.7 479.3L391.8 498.1L391.9 501.6L392.1 501.2L392.2 513.5L392.3 498.3L392.5 491.2L392.6 511.4L392.7 510.2L392.8 480.9L393.0 508.7L393.1 501.0L393.2 507.3L393.3 514.7L393.5 533.1L393.6 522.2L393.7 511.6L393.9 514.7L394.0 525.4L394.1 529.4L394.2 557.2L394.4 517.9L394.5 524.1L394.6 543.0L394.7 530.3L394.9 538.0L395.0 520.1L395.1 521.8L395.3 548.9L395.4 532.4L395.5 553.5L395.6 541.9L395.8 552.3L395.9 563.4L396.0 544.1L396.1 546.1L396.3 568.4L396.4 558.3L396.5 558.5L396.7 571.2L396.8 553.5L396.9 565.2L397.0 554.5L397.2 555.7L397.3 577.8L397.4 585.2L397.5 576.7L397.7 561.9L397.8 577.2L397.9 583.6L398.0 581.9L398.2 594.8L398.3 578.6L398.4 590.3L398.6 586.8L398.7 590.7L398.8 590.8L398.9 598.2L399.1 589.6L399.2 597.0L399.3 602.3L399.4 606.4L399.6 608.7L399.7 606.8L400.2 601.3L400.4 591.4L400.5 579.5L400.7 572.2L400.9 561.5L401.0 548.8L401.2 538.8L401.4 528.1L401.5 518.5L401.7 509.3L401.9 510.3L402.0 510.1L402.2 513.0L402.4 515.8L402.5 516.3L402.7 516.9L402.9 515.7L403.0 516.9L403.2 523.0L403.4 520.0L403.5 514.3L403.7 514.4L403.9 512.1L404.0 498.4L404.2 503.4L404.4 496.7L404.5 503.2L404.7 502.0L404.9 501.1L405.0 501.2L405.2 502.0L405.4 502.5L405.5 506.1L405.7 511.2L405.9 508.6L406.0 516.0L406.2 510.8L406.4 510.6L406.5 513.7L406.7 519.5L406.9 513.8L407.0 516.9L407.2 520.9L407.4 517.7L407.5 521.6L407.7 520.8L407.9 521.8L408.0 523.1L408.2 523.8L408.4 527.7L408.5 522.3L408.7 523.8L408.9 526.6L409.0 524.1L409.2 526.2L409.4 526.0L409.5 529.5L409.7 525.7L409.9 530.0L410.0 529.5L410.2 534.6L410.4 527.9L410.5 528.3L410.7 529.0L410.9 530.7L411.0 531.8L411.2 536.3L411.4 533.0L411.5 535.1L411.7 535.8L411.9 538.1L412.1 533.5L412.2 535.5L412.4 538.1L412.6 542.2L412.7 537.4L412.9 537.7L413.1 542.0L413.2 540.9L413.4 541.1L413.6 546.3L413.7 540.3L413.9 544.6L414.1 548.0L414.2 542.5L414.4 550.0L414.6 546.5L414.7 546.0L414.9 549.4L415.1 546.8L415.2 540.4L415.4 547.9L415.6 547.3L415.7 544.6L415.9 550.5L416.1 547.9L416.2 547.6L416.4 555.7L416.6 553.6L416.7 555.1L416.9 556.2L417.1 549.1L417.2 557.3L417.4 550.8L417.6 551.3L417.7 555.1L417.9 554.0L418.1 559.4L418.2 554.9L418.4 557.9L418.6 556.8L418.7 555.5L418.9 557.2L419.1 557.3L419.2 559.2L419.4 559.0L419.6 561.8L419.7 559.6L419.9 561.5L420.1 565.1L420.2 562.9L420.4 568.8L420.6 563.1L420.7 564.1L420.9 565.2L421.1 567.0L421.2 566.6L421.4 565.3L421.6 565.4L421.7 565.4L421.9 566.8L422.1 563.9L422.2 565.1L422.4 565.6L422.6 571.7L422.7 569.4L422.9 571.4L423.1 568.9L423.2 570.5L423.4 568.3L423.6 566.1L423.7 570.1L423.9 569.9L424.1 570.0L424.2 568.6L424.4 573.2L424.6 573.9L424.7 573.7L424.9 575.2L425.1 571.4L425.2 574.8L425.4 573.7L425.6 573.1L425.7 574.5L425.9 572.7L426.1 574.3L426.2 575.3L426.4 572.0L426.6 579.1L426.7 578.3L426.9 578.3L427.1 533.0L427.2 578.6L427.4 578.8L427.6 607.0L427.7 577.2L427.9 575.8L428.1 580.7L428.2 578.6L428.4 581.5L428.6 581.0L428.7 578.6L428.9 580.2L429.1 578.5L429.2 581.1L429.4 580.9L429.6 583.2L429.7 585.6L429.9 582.7L430.1 581.9L430.2 582.9L430.4 582.7L430.6 582.2L430.7 583.8L430.9 581.4L431.1 582.2L431.2 584.5L431.4 586.0L431.6 585.4L431.7 584.2L431.9 587.0L432.1 585.7L432.2 588.6L432.4 586.5L432.6 585.8L432.7 583.9L432.9 588.6L433.1 588.3L433.2 589.2L433.4 586.0L433.6 585.3L433.7 589.9L433.9 587.7L434.1 583.6L434.2 589.3L434.4 586.2L434.6 591.0L434.8 590.7L434.9 585.7L435.1 589.8L435.3 589.5L435.4 590.8L435.6 587.9L435.8 600.0L435.9 591.9L436.1 587.4L436.3 590.7L436.4 591.8L436.6 592.5L436.8 592.1L436.9 595.5L437.1 593.9L437.3 592.0L437.4 592.3L437.6 591.6L437.8 593.2L437.9 596.4L438.1 594.5L438.3 593.5L438.4 592.0L438.6 590.3L438.8 594.2L438.9 593.4L439.1 595.3L439.3 593.3L439.4 596.3L439.6 595.1L439.8 594.8L439.9 596.3L440.1 595.5L440.3 596.3L440.4 595.6L440.6 597.5L440.8 594.8L440.9 597.2L441.1 598.4L441.3 599.1L441.4 598.9L441.6 600.1L441.8 598.9L441.9 602.3L442.1 598.4L442.3 596.7L442.4 596.7L442.6 597.4L442.8 600.0L442.9 598.1L443.1 598.7L443.3 601.7L443.4 598.8L443.6 601.4L443.8 602.6L443.9 603.3L444.1 602.3L444.3 600.6L444.4 601.3L444.6 604.5L444.8 604.9L444.9 602.8L445.1 604.6L445.3 604.7L445.4 603.6L445.6 605.5L445.8 603.5L445.9 605.5L446.1 605.7L446.3 605.1L446.4 604.8L446.6 607.6L446.8 605.1L446.9 605.2L447.1 604.8L447.3 606.5L447.4 606.8L447.6 606.3L447.8 608.8L447.9 607.9L448.1 608.7L448.3 606.6L448.4 608.1L448.6 610.6L448.8 610.2L448.9 609.8L449.1 610.8L449.3 610.6L449.4 610.4L449.6 610.7L449.8 611.1L449.9 610.3L450.1 613.1L450.3 614.1L450.4 611.7L450.6 611.7L450.8 614.8L450.9 612.8L451.1 613.2L451.3 613.3L451.4 613.1L451.6 612.9L451.8 614.4L451.9 612.0L452.1 615.2L452.3 616.0L452.4 614.2L452.6 614.3L452.8 617.3L452.9 615.0L453.1 614.8L453.3 616.8L453.4 614.7L453.6 613.8L453.8 616.5L453.9 616.1L454.1 616.1L454.3 616.4L454.4 616.7L454.6 617.4L454.8 615.3L454.9 619.1L455.1 617.9L455.3 617.9L455.4 618.1L455.6 619.4L455.8 618.9L455.9 621.2L456.1 616.1L456.3 619.7L456.4 619.9L456.6 615.4L456.8 619.5L456.9 618.8L457.1 618.8L457.3 619.0L457.4 619.5L457.6 618.7L457.8 618.3L458.0 620.4L458.1 619.3L458.3 620.3L458.5 622.5L458.6 617.9L458.8 618.5L459.0 618.7L459.1 619.5L459.3 621.6L459.5 620.3L459.6 621.1L459.8 622.1L460.0 617.6L460.1 619.6L460.3 619.2L460.5 620.6L460.6 618.9L460.8 622.1L461.0 619.7L461.1 619.4L461.3 619.1L461.5 618.9L461.6 620.4L461.8 619.8L462.0 620.9L462.1 620.1L462.3 621.2L462.5 621.0L462.6 622.1L462.8 621.7L463.0 620.3L463.1 622.4L463.3 620.4L463.5 620.0L463.6 622.1L463.8 619.7L464.0 620.4L464.1 619.5L464.3 619.6L464.5 621.7L464.6 620.4L464.8 623.4L465.0 623.2L465.1 622.0L465.3 620.9L465.5 621.7L465.6 621.5L465.8 623.1L466.0 619.7L466.1 621.7L466.3 622.1L466.5 622.5L466.6 622.9L466.8 621.7L467.0 622.9L467.1 620.9L467.3 623.6L467.5 622.8L467.6 622.3L467.8 623.8L468.0 621.7L468.1 620.7L468.3 623.2L468.5 622.8L468.6 622.4L468.8 622.0L469.0 623.4L469.1 623.9L469.3 621.9L469.5 621.5L469.6 623.9L469.8 621.9L470.0 624.7L470.1 624.9L470.3 622.7L470.5 626.0L470.6 623.1L470.8 623.4L471.0 623.4L471.1 624.1L471.3 624.6L471.5 624.1L471.6 623.0L471.8 623.5L472.0 622.3L472.1 623.0L472.3 624.5L472.5 624.4L472.6 623.9L472.8 624.9L473.0 624.0L473.1 624.9L473.3 625.2L473.5 626.3L473.6 626.5L473.8 624.3L474.0 625.2L474.1 623.8L474.3 628.1L474.5 623.6L474.6 626.1L474.8 624.5L475.0 626.5L475.1 626.8L475.3 627.4L475.5 626.1L475.6 627.7L475.8 626.3L476.0 626.1L476.1 626.4L476.3 626.6L476.5 629.5L476.6 628.7L476.8 628.6L477.0 625.7L477.1 628.0L477.3 629.0L477.5 626.4L477.6 629.6L477.8 627.5L478.0 628.8L478.1 629.2L478.3 628.9L478.5 629.2L478.6 629.9L478.8 630.8L479.0 631.3L479.1 631.3L479.3 630.0L479.5 627.8L479.6 628.9L479.8 629.7L480.0 631.1L480.1 631.9L480.3 630.3L480.5 630.1L480.6 631.1L480.8 631.3L481.0 632.0L481.2 632.2L481.3 631.3L481.5 628.8L481.7 631.3L481.8 628.6L482.0 631.8L482.2 635.2L482.3 633.7L482.5 632.8L482.7 635.0L482.8 631.5L483.0 633.3L483.2 633.6L483.3 632.3L483.5 632.6L483.7 634.1L483.8 633.8L484.0 633.0L484.2 633.6L484.3 634.6L484.5 633.8L484.7 633.3L484.8 634.7L485.0 634.2L485.2 634.5L485.3 633.1L485.5 634.4L485.7 634.1L485.8 633.0L486.0 636.4L486.2 634.9L486.3 635.1L486.5 635.8L486.7 636.5L486.8 636.1L487.0 634.3L487.2 635.3L487.3 634.5L487.5 635.0L487.7 635.7L487.8 636.7L488.0 634.2L488.2 636.3L488.3 635.9L488.5 634.4L488.7 638.9L488.8 635.6L489.0 637.1L489.2 635.8L489.3 636.3L489.5 636.9L489.7 636.1L489.8 636.1L490.0 637.5L490.2 637.4L490.3 639.0L490.5 636.6L490.7 634.4L490.8 634.8L491.0 637.1L491.2 635.4L491.3 635.0L491.5 637.9L491.7 634.9L491.8 635.0L492.0 637.0L492.2 638.2L492.3 638.0L492.5 636.1L492.7 638.4L492.8 636.7L493.0 638.4L493.2 634.9L493.3 637.1L493.5 639.1L493.7 638.8L493.8 639.6L494.0 635.2L494.2 641.2L494.3 640.9L494.5 642.4L494.7 639.8L494.8 641.6L495.0 641.5L495.2 640.8L495.3 641.9L495.5 641.6L495.7 642.5L495.8 641.8L496.0 642.3L496.2 641.6L496.3 642.3L496.5 643.2L496.7 643.5L496.8 643.8L497.0 644.6L497.2 643.1L497.3 643.3L497.5 642.5L497.7 646.0L497.8 646.9L498.0 645.5L498.2 646.0L498.3 644.7L498.5 645.9L498.7 647.5L498.8 646.6L499.0 644.9L499.2 647.0L499.3 646.9L499.5 648.1L499.7 649.2L499.8 647.7L500.0 648.4L500.2 649.2L500.3 647.4L500.5 648.3L500.7 647.0L500.8 649.3L501.0 650.1L501.2 649.9L501.3 650.2L501.5 649.1L501.7 649.3L501.8 651.8L502.0 651.3L502.2 650.4L502.3 651.6L502.5 650.3L502.7 650.3L502.8 651.9L503.0 651.6L503.2 652.2L503.3 654.7L503.5 652.8L503.7 652.7L503.8 654.9L504.0 652.0L504.2 652.9L504.4 652.8L504.5 653.4L504.7 656.1L504.9 651.8L505.0 655.4L505.2 652.8L505.4 652.7L505.5 654.5L505.7 654.7L505.9 654.7L506.0 654.0L506.2 656.2L506.4 654.2L506.5 656.5L506.7 659.1L506.9 654.8L507.0 656.7L507.2 656.7L507.4 655.2L507.5 657.0L507.7 658.3L507.9 658.4L508.0 658.3L508.2 657.2L508.4 657.9L508.5 657.2L508.7 659.6L508.9 657.8L509.0 657.6L509.2 658.3L509.4 661.0L509.5 657.6L509.7 660.5L509.9 660.6L510.0 659.4L510.2 660.4L510.4 658.7L510.5 661.0L510.7 661.2L510.9 660.1L511.0 661.3L511.2 661.4L511.4 662.1L511.5 662.5L511.7 663.1L511.9 662.0L512.0 662.9L512.2 663.5L512.4 664.5L512.5 663.0L512.7 652.9L512.9 662.7L513.0 663.5L513.2 662.1L513.4 663.1L513.5 665.2L513.7 666.9L513.9 666.5L514.0 664.7L514.2 666.9L514.4 666.2L514.5 665.6L514.7 667.8L514.9 667.7L515.0 667.9L515.2 667.9L515.4 668.6L515.5 667.5L515.7 667.8L515.9 667.7L516.0 669.6L516.2 669.4L516.4 670.2L516.5 669.1L516.7 669.5L516.9 670.0L517.0 670.3L517.2 670.4L517.4 672.4L517.5 671.4L517.7 668.7L517.9 671.1L518.0 672.3L518.2 672.4L518.4 672.6L518.5 672.6L518.7 674.7L518.9 672.5L519.0 674.4L519.2 674.8L519.4 675.1L519.5 676.7L519.7 673.7L519.9 674.2L520.0 675.5L520.2 676.0L520.4 676.3L520.5 675.2L520.7 675.8L520.9 678.1L521.0 677.4L521.2 677.7L521.4 678.1L521.5 679.4L521.7 677.6L521.9 678.3L522.0 676.6L522.2 678.2L522.4 679.1L522.5 679.7L522.7 678.5L522.9 678.1L523.0 678.9L523.2 677.9L523.4 679.2L523.5 680.4L523.7 681.3L523.9 682.6L524.0 681.5L524.2 680.8L524.4 682.1L524.5 681.7L524.7 683.5L524.9 683.7L525.0 696.5L525.2 682.8L525.4 685.4L525.5 684.6L525.7 683.3L525.9 680.5L526.0 684.6L526.2 684.4L526.4 684.0L526.5 685.2L526.7 684.8L526.9 685.3L527.1 684.6L527.2 684.8L527.4 685.6L527.6 685.0L527.7 684.3L527.9 684.4L528.1 686.1L528.2 685.1L528.4 685.3L528.6 685.6L528.7 687.2L528.9 684.5L529.1 684.3L529.2 687.2L529.4 686.9L529.6 688.8L529.7 687.2L529.9 686.1L530.1 688.1L530.2 688.3L530.4 688.5L530.6 688.7L530.7 690.7L530.9 688.3L531.1 689.2L531.2 688.9L531.4 687.4L531.6 688.1L531.7 688.5L531.9 689.3L532.1 688.5L532.2 691.4L532.4 690.0L532.6 689.3L532.7 689.7L532.9 690.7L533.1 690.1L533.2 689.9L533.4 689.9L533.6 691.4L533.7 693.5L533.9 689.2L534.1 691.8L534.2 692.5L534.4 691.9L534.6 695.2L534.7 693.4L534.9 691.8L535.1 694.0L535.2 692.8L535.4 695.1L535.6 694.6L535.7 696.0L535.9 694.1L536.1 695.7L536.2 697.2L536.4 695.6L536.6 695.1L536.7 696.0L536.9 696.8L537.1 696.5L537.2 697.6L537.4 698.6L537.6 696.8L537.7 696.4L537.9 697.3L538.1 696.8L538.2 697.9L538.4 698.7L538.6 699.7L538.6 442.0L538.6 440.9L538.8 442.2L539.0 442.3L539.2 441.5L539.4 442.3L539.6 441.8L539.8 443.3L540.0 442.9L540.2 443.5L540.4 444.2L540.6 444.0L540.8 443.7L541.0 444.1L541.2 443.8L541.4 444.2L541.6 445.4L541.8 444.2L542.0 444.7L542.2 445.0L542.4 445.3L542.6 445.7L542.8 444.7L543.0 445.2L543.2 445.7L543.4 446.0L543.6 446.4L543.8 446.5L544.0 446.4L544.2 446.0L544.4 446.0L544.6 446.2L544.8 447.6L545.0 448.2L545.2 447.0L545.4 446.9L545.6 447.7L545.8 448.2L546.0 448.0L546.2 448.4L546.4 449.1L546.6 449.1L546.8 448.8L547.0 448.5L547.2 449.4L547.4 450.3L547.6 448.9L547.8 451.0L548.0 450.4L548.2 451.4L548.4 450.3L548.6 450.4L548.8 450.3L549.0 451.4L549.2 451.6L549.4 451.6L549.6 452.0L549.8 452.4L550.0 451.8L550.2 453.4L550.4 452.5L550.6 453.7L550.8 454.7L551.0 454.9L551.2 455.7L551.4 455.2L551.6 456.5L551.8 457.2L552.0 456.9L552.2 458.6L552.4 458.1L552.6 458.9L552.8 459.1L553.0 460.6L553.2 460.5L553.4 461.9L553.6 462.6L553.8 462.4L554.0 463.5L554.2 464.7L554.4 463.3L554.6 463.8L554.8 466.4L555.0 465.3L555.2 468.1L555.4 467.5L555.6 466.0L555.8 468.1L556.0 467.7L556.2 468.1L556.4 468.8L556.6 468.1L556.8 468.5L557.0 469.0L557.2 468.2L557.4 469.2L557.6 469.8L557.8 469.9L558.0 470.2L558.2 470.4L558.4 469.4L558.6 470.3L558.8 469.9L559.0 471.5L559.2 472.1L559.4 471.8L559.6 470.8L559.8 472.0L560.0 472.9L560.2 473.0L560.4 473.4L560.6 473.6L560.8 472.8L561.0 473.8L561.2 474.0L561.4 473.5L561.6 474.0L561.8 474.5L562.0 475.9L562.2 475.6L562.4 475.3L562.6 475.5L562.8 474.8L563.0 476.0L563.2 476.8L563.4 476.2L563.6 477.0L563.8 477.7L564.0 476.9L564.2 476.4L564.4 477.5L564.6 477.7L564.8 479.7L565.0 478.2L565.2 478.5L565.4 479.4L565.6 478.5L565.8 479.0L566.0 479.4L566.2 479.6L566.4 480.1L566.6 480.2L566.8 479.0L567.0 481.2L567.2 480.5L567.4 481.4L567.6 481.2L567.8 481.7L568.0 482.3L568.2 481.6L568.4 481.7L568.6 482.4L568.8 482.3L569.0 483.6L569.2 482.6L569.4 482.6L569.6 484.3L569.8 483.0L570.0 484.0L570.2 483.4L570.4 484.4L570.6 485.1L570.8 485.2L571.0 484.3L571.2 485.1L571.4 485.7L571.6 485.3L571.8 486.5L572.0 486.5L572.2 486.8L572.4 486.0L572.6 486.4L572.8 485.7L573.0 486.1L573.2 487.1L573.4 486.6L573.6 487.2L573.8 486.8L574.0 487.2L574.2 487.1L574.4 488.2L574.6 487.8L574.8 488.5L575.0 489.0L575.2 488.6L575.4 489.0L575.6 490.6L575.8 489.7L576.0 490.6L576.2 490.7L576.4 490.5L576.6 490.5L576.8 489.4L577.0 490.9L577.2 490.2L577.4 490.2L577.6 491.2L577.8 492.1L578.0 492.0L578.2 492.3L578.4 492.5L578.6 492.7L578.8 491.8L579.0 492.0L579.2 492.9L579.4 493.6L579.6 493.2L579.8 493.0L580.0 493.3L580.2 493.5L580.4 493.6L580.6 493.6L580.8 495.4L581.0 494.7L581.2 493.8L581.4 495.1L581.6 495.5L581.8 495.9L582.0 495.0L582.2 494.7L582.4 497.4L582.6 495.4L582.8 495.6L583.0 496.7L583.2 497.5L583.4 497.6L583.6 496.7L583.8 497.4L584.0 497.2L584.2 497.8L584.4 497.6L584.6 499.7L584.8 499.1L585.0 498.5L585.2 498.7L585.4 499.8L585.6 498.5L585.8 498.7L586.0 498.6L586.2 498.8L586.4 499.8L586.6 498.3L586.8 497.9L587.0 497.9L587.2 498.2L587.4 497.7L587.6 497.7L587.8 497.9L588.0 498.7L588.2 498.5L588.4 498.1L588.6 498.5L588.8 498.3L589.0 498.1L589.2 497.6L589.4 498.6L589.6 498.0L589.8 497.9L590.0 497.8L590.2 498.0L590.4 497.8L590.6 497.1L590.8 497.4L591.0 497.0L591.2 496.0L591.4 496.9L591.6 499.2L591.8 496.5L592.0 497.5L592.2 498.0L592.4 497.4L592.6 497.3L592.8 496.8L593.0 496.9L593.2 496.9L593.4 496.5L593.6 497.1L593.8 497.5L594.0 497.7L594.2 498.1L594.4 497.4L594.6 499.0L594.8 497.2L595.0 496.6L595.2 496.5L595.4 497.7L595.6 498.2L595.8 498.4L596.0 498.0L596.2 498.9L596.4 498.3L596.6 498.1L596.8 498.4L597.0 498.7L597.2 499.2L597.4 498.2L597.7 498.4L597.9 499.9L598.1 499.1L598.3 500.2L598.5 500.0L598.7 499.9L598.9 500.6L599.1 500.0L599.3 500.6L599.5 500.8L599.7 501.1L599.9 500.0L600.1 500.7L600.3 501.8L600.5 501.5L600.7 502.1L600.9 502.4L601.1 501.2L601.3 501.7L601.5 502.8L601.7 502.4L601.9 501.7L602.1 502.7L602.3 502.8L602.5 502.4L602.7 502.7L602.9 503.6L603.1 503.7L603.3 502.8L603.5 503.0L603.7 503.6L603.9 503.9L604.1 504.0L604.3 503.7L604.5 504.6L604.7 503.3L604.9 504.2L605.1 504.9L605.3 505.1L605.5 505.2L605.7 505.6L605.9 505.7L606.1 505.5L606.3 506.9L606.5 506.0L606.7 507.8L606.9 505.4L607.1 507.1L607.3 506.0L607.5 505.9L607.7 506.5L607.9 505.5L608.1 507.1L608.3 507.5L608.5 507.1L608.7 507.6L608.9 508.3L609.1 507.8L609.3 509.0L609.5 508.1L609.7 509.8L609.9 508.9L610.1 508.2L610.3 509.7L610.5 509.5L610.7 508.6L610.9 510.9L611.1 509.6L611.3 510.4L611.5 511.7L611.7 509.6L611.9 509.7L612.1 510.4L612.3 508.7L612.5 510.8L612.7 509.7L612.9 511.1L613.1 511.0L613.3 509.6L613.5 509.5L613.7 511.1L613.9 509.6L614.1 510.4L614.3 510.7L614.5 511.0L614.7 510.5L614.9 510.0L615.1 511.0L615.3 510.8L615.5 511.2L615.7 510.0L615.9 511.6L616.1 511.0L616.3 510.5L616.5 511.1L616.7 510.7L616.9 509.6L617.1 510.4L617.3 511.0L617.5 511.0L617.7 511.0L617.9 510.4L618.1 510.3L618.3 510.7L618.5 511.1L618.7 510.9L618.9 511.3L619.1 510.7L619.3 510.9L619.5 511.0L619.7 511.2L619.9 511.1L620.1 511.5L620.3 511.4L620.5 512.6L620.7 511.4L620.9 511.4L621.1 512.3L621.3 513.1L621.5 512.1L621.7 511.5L621.9 512.8L622.1 511.8L622.3 512.5L622.5 512.5L622.7 512.0L622.9 513.3L623.1 513.1L623.3 512.9L623.5 513.2L623.7 512.4L623.9 513.0L624.1 513.5L624.3 513.8L624.5 512.4L624.7 513.8L624.9 513.0L625.1 512.4L625.3 514.3L625.5 514.6L625.7 513.4L625.9 514.6L626.1 514.2L626.3 514.7L626.5 515.5L626.7 515.2L626.9 514.6L627.1 513.9L627.3 514.2L627.5 514.6L627.7 514.5L627.9 515.2L628.1 515.4L628.3 516.2L628.5 515.8L628.7 514.3L628.9 516.6L629.1 515.1L629.3 514.9L629.5 514.1L629.7 515.3L629.9 516.6L630.1 515.2L630.3 515.6L630.5 515.5L630.7 515.9L630.9 514.9L631.1 514.8L631.3 515.8L631.5 516.0L631.7 515.0L631.9 515.7L632.1 516.1L632.3 515.7L632.5 515.2L632.7 516.8L632.9 516.4L633.1 516.0L633.3 515.5L633.5 514.8L633.7 515.3L633.9 515.7L634.1 515.1L634.3 516.3L634.5 514.9L634.7 516.7L634.9 515.5L635.1 515.3L635.3 515.6L635.5 516.1L635.7 516.5L635.9 515.2L636.1 516.3L636.3 515.6L636.5 515.1L636.7 515.2L636.9 516.7L637.1 515.1L637.3 515.6L637.5 516.0L637.7 517.0L637.9 514.7L638.1 516.2L638.3 516.2L638.5 515.1L638.7 515.9L638.9 516.0L639.1 516.5L639.3 516.0L639.5 515.7L639.7 516.1L639.9 516.5L640.1 515.0L640.3 515.7L640.5 515.5L640.7 515.5L640.9 516.0L641.1 515.0L641.3 514.3L641.5 515.0L641.7 514.3L641.9 516.0L642.1 515.7L642.3 514.1L642.5 514.7L642.7 513.6L642.9 514.4L643.1 514.1L643.3 515.5L643.5 514.5L643.7 514.3L643.9 514.8L644.1 513.7L644.3 514.3L644.5 513.4L644.7 513.3L644.9 514.8L645.1 511.8L645.3 513.8L645.5 512.9L645.7 513.8L645.9 512.7L646.1 513.2L646.3 512.1L646.5 513.6L646.7 512.3L646.9 511.9L647.1 510.8L647.3 511.7L647.5 513.3L647.7 512.1L647.9 512.1L648.1 512.9L648.3 512.8L648.5 513.0L648.7 512.8L648.9 514.1L649.1 512.3L649.3 512.6L649.5 512.9L649.7 513.4L649.9 514.0L650.1 513.1L650.3 513.6L650.5 513.4L650.7 515.0L650.9 512.7L651.1 514.0L651.3 513.2L651.5 513.5L651.7 513.8L651.9 514.3L652.1 513.2L652.3 513.7L652.5 513.3L652.7 512.3L652.9 515.4L653.1 514.3L653.3 514.3L653.5 513.9L653.7 514.4L653.9 514.9L654.1 515.5L654.3 515.0L654.5 515.1L654.7 514.4L654.9 514.8L655.1 515.3L655.3 514.3L655.5 515.2L655.7 515.7L655.9 516.8L656.1 514.8L656.3 515.1L656.5 516.6L656.7 514.7L656.9 517.7L657.1 516.6L657.3 517.1L657.5 517.0L657.7 515.7L657.9 517.3L658.1 516.3L658.3 516.8L658.5 516.9L658.7 517.1L658.9 517.5L659.1 517.0L659.3 517.7L659.5 517.2L659.7 516.7L659.9 517.3L660.1 516.8L660.3 517.6L660.5 516.8L660.7 516.9L660.9 517.7L661.1 516.0L661.3 517.4L661.5 516.8L661.7 517.6L661.9 517.6L662.1 516.6L662.3 517.5L662.5 518.2L662.7 517.0L662.9 517.7L663.1 518.8L663.3 516.1L663.5 517.2L663.7 518.5L663.9 517.2L664.1 517.3L664.3 516.7L664.5 515.7L664.7 517.9L664.9 517.8L665.1 518.2L665.3 517.8L665.5 516.8L665.7 516.3L665.9 517.6L666.1 518.4L666.3 517.8L666.5 517.9L666.7 518.6L666.9 517.3L667.1 517.5L667.3 518.2L667.5 517.4L667.7 517.2L667.9 517.4L668.1 518.1L668.3 517.2L668.5 517.5L668.7 517.9L668.9 517.2L669.1 517.4L669.3 517.9L669.5 517.9L669.7 517.3L669.9 517.4L670.1 518.4L670.3 517.5L670.5 517.8L670.7 517.8L670.9 517.5L671.1 518.3L671.3 517.7L671.5 516.8L671.7 518.9L671.9 517.8L672.1 518.1L672.3 518.2L672.5 517.7L672.7 517.3L672.9 517.4L673.1 517.7L673.3 518.5L673.5 517.9L673.7 518.4L673.9 516.7L674.1 517.5L674.3 518.2L674.5 517.5L674.7 518.6L674.9 518.1L675.1 518.0L675.3 517.6L675.5 518.1L675.7 517.3L675.9 518.8L676.1 518.5L676.3 518.1L676.5 517.6L676.7 518.6L676.9 517.8L677.1 519.0L677.3 518.8L677.5 518.0L677.7 518.3L677.9 519.5L678.1 518.8L678.3 519.1L678.5 518.2L678.7 519.0L678.9 517.7L679.1 518.9L679.3 519.1L679.5 518.4L679.7 518.8L679.9 518.4L680.1 518.4L680.3 518.8L680.5 518.9L680.7 518.8L680.9 519.0L681.1 518.1L681.3 517.8L681.5 519.0L681.7 517.3L681.9 517.7L682.1 517.9L682.3 519.1L682.5 518.9L682.7 520.3L682.9 518.2L683.1 518.0L683.3 518.1L683.5 517.2L683.7 518.6L683.9 517.3L684.1 517.3L684.3 517.8L684.5 517.3L684.7 517.8L684.9 517.9L685.1 517.8L685.3 517.2L685.5 516.6L685.7 517.0L685.9 516.3L686.1 515.9L686.3 515.8L686.5 517.3L686.7 515.7L686.9 517.2L687.1 516.4L687.3 516.1L687.5 516.2L687.7 517.1L687.9 515.2L688.1 516.2L688.3 515.6L688.5 515.1L688.7 514.4L688.9 515.0L689.1 514.9L689.3 515.4L689.5 515.8L689.7 515.4L689.9 514.9L690.1 516.1L690.3 514.5L690.5 514.9L690.7 514.5L690.9 515.1L691.1 514.9L691.3 514.5L691.5 514.8L691.7 514.5L691.9 513.8L692.1 514.7L692.3 513.7L692.5 513.5L692.7 514.3L692.9 513.4L693.1 513.7L693.3 515.1L693.5 514.0L693.7 513.1L693.9 513.0L694.1 513.8L694.3 513.3L694.5 512.5L694.7 513.3L694.9 511.9L695.1 513.5L695.3 513.4L695.5 513.6L695.7 511.7L695.9 512.8L696.1 513.5L696.3 512.5L696.5 512.0L696.7 512.8L696.9 511.1L697.1 511.7L697.3 511.9L697.5 511.2L697.7 511.3L697.9 511.7L698.1 511.5L698.3 510.7L698.5 509.9L698.7 509.5L698.9 509.7L699.1 509.8L699.3 509.5L699.5 511.5L699.7 509.5L699.9 509.4L700.1 509.7L700.3 508.3L700.5 508.6L700.7 509.1L700.9 508.2L701.1 509.1L701.3 507.9L701.5 508.3L701.7 508.8L701.9 508.4L702.1 507.7L702.3 507.5L702.5 507.7L702.7 506.9L702.9 506.3L703.1 507.4L703.3 507.3L703.5 506.6L703.7 506.2L703.9 505.4L704.1 505.6L704.3 505.6L704.5 505.8L704.7 506.0L704.9 505.3L705.1 505.4L705.3 504.2L705.5 504.9L705.7 505.3L705.9 504.1L706.1 503.2L706.3 504.5L706.5 504.9L706.7 504.2L706.9 503.3L707.1 503.8L707.3 502.0L707.5 503.2L707.7 502.5L707.9 503.5L708.1 502.0L708.3 503.7L708.5 503.8L708.7 503.4L708.9 502.7L709.1 501.6L709.3 501.7L709.5 502.4L709.7 501.9L709.9 501.2L710.1 501.3L710.3 500.9L710.5 501.5L710.7 501.1L710.9 501.8L711.1 501.4L711.3 500.6L711.5 501.5L711.7 499.2L711.9 499.6L712.1 500.0L712.3 500.6L712.5 501.3L712.7 500.5L712.9 500.1L713.1 499.8L713.3 498.6L713.5 499.2L713.7 500.1L713.9 499.4L714.1 498.1L714.3 497.7L714.5 496.6L714.7 495.1L714.9 495.3L715.1 494.3L715.3 493.2L715.5 493.1L715.8 492.3L716.0 491.8L716.2 491.0L716.4 490.3L716.6 489.3L716.8 488.3L717.0 487.9L717.2 487.2L717.4 487.2L717.6 486.5L717.8 485.8L718.0 486.5L718.2 485.8L718.4 486.1L718.6 486.7L718.8 485.7L719.0 484.2L719.2 484.2L719.4 484.8L719.6 483.5L719.8 484.6L720.0 485.3L720.2 485.3L720.4 485.4L720.6 486.3L720.8 486.4L721.0 486.7L721.2 487.7L721.4 487.4L721.6 488.0L721.8 489.2L722.0 489.4L722.2 489.2L722.4 489.6L722.6 490.5L722.8 491.2L723.0 490.9L723.2 491.9L723.4 493.7L723.6 493.1L723.8 495.4L724.0 495.5L724.2 495.7L724.4 496.1L724.6 497.1L724.8 498.2L725.0 498.7L725.2 499.9L725.4 500.1L725.6 500.1L725.8 501.5L726.0 502.2L726.2 502.4L726.4 502.6L726.6 503.4L726.8 504.8L727.0 504.6L727.2 506.7L727.4 506.6L727.6 505.5L727.8 506.4L728.0 507.6L728.2 507.3L728.4 508.4L728.6 509.5L728.8 509.8L729.0 509.3L729.2 510.8L729.4 511.5L729.6 510.9L729.8 512.2L730.0 513.5L730.2 515.4L730.4 519.3L730.6 521.7L730.8 522.8L731.0 524.2L731.2 528.8L731.4 530.2L731.6 533.2L731.8 534.4L732.0 537.7L732.2 540.2L732.4 541.9L732.6 544.5L732.8 546.4L733.0 549.0L733.2 550.3L733.4 552.5L733.6 552.8L733.8 552.9L734.0 552.2L734.2 550.8L734.4 551.3L734.6 549.6L734.8 550.8L735.0 548.5L735.2 547.1L735.4 547.0L735.6 546.9L735.8 546.6L736.0 546.4L736.2 544.7L736.4 545.1L736.6 544.2L736.8 544.5L737.0 543.6L737.2 543.4L737.4 543.4L737.6 542.5L737.8 542.6L738.0 542.6L738.2 541.1L738.4 541.8L738.6 541.7L738.8 542.5L739.0 541.9L739.2 541.7L739.4 541.2L739.6 541.8L739.8 541.2L740.0 541.9L740.2 541.1L740.4 541.3L740.6 541.7L740.8 541.6L741.0 540.5L741.2 541.5L741.4 541.4L741.6 540.3L741.8 540.7L742.0 542.1L742.2 541.8L742.4 541.4L742.6 542.3L742.8 540.8L743.0 542.8L743.2 541.7L743.4 543.0L743.6 542.0L743.8 542.0L744.0 542.8L744.2 542.8L744.4 543.9L744.6 544.2L744.8 543.8L745.0 544.3L745.2 544.8L745.4 546.2L745.6 545.7L745.8 546.8L746.0 546.7L746.2 546.7L746.4 546.7L746.6 548.4L746.8 549.2L747.0 549.8L747.2 551.1L747.4 551.5L747.6 552.8L747.8 552.8L748.0 552.6L748.2 554.5L748.4 553.9L748.6 555.1L748.8 555.0L749.0 556.8L749.2 557.7L749.4 556.5L749.6 557.3L749.8 558.0L750.0 557.8L750.2 559.1L750.4 559.3L750.6 558.8L750.8 558.5L751.0 559.2L751.2 560.5L751.4 559.2L751.6 559.9L751.8 559.9L752.0 559.9L752.2 559.3L752.4 559.2L752.6 559.6L752.8 557.8L753.0 557.7L753.2 557.9L753.4 555.9L753.6 556.4L753.8 554.0L754.0 554.0L754.2 553.6L754.4 553.9L754.6 553.6L754.8 551.7L755.0 553.7L755.2 553.4L755.4 552.4L755.6 551.1L755.8 551.0L756.0 549.8L756.2 549.4L756.4 548.8L756.6 549.0L756.8 548.0L757.0 547.7L757.2 548.7L757.4 547.1L757.6 547.3L757.8 546.8L758.0 546.0L758.2 545.6L758.4 546.2L758.6 544.9L758.8 545.3L759.0 544.3L759.2 544.1L759.4 545.1L759.6 543.0L759.8 543.4L760.0 543.3L760.2 543.8L760.4 543.0L760.6 543.3L760.8 543.7L761.0 544.4L761.2 543.8L761.4 542.4L761.6 544.3L761.8 543.5L762.0 543.1L762.2 544.0L762.4 543.5L762.6 544.0L762.8 543.9L763.0 544.7L763.2 544.0L763.4 546.8L763.6 546.6L763.8 547.6L764.0 547.9L764.2 548.1L764.4 549.5L764.6 550.0L764.8 549.6L765.0 550.9L765.2 550.8L765.4 551.2L765.6 552.4L765.8 552.7L766.0 553.2L766.2 552.6L766.4 553.7L766.6 554.6L766.8 555.3L767.0 555.7L767.2 555.3L767.4 556.3L767.6 555.6L767.8 557.0L768.0 558.2L768.2 557.3L768.4 557.2L768.6 558.7L768.8 558.3L769.0 558.6L769.2 559.2L769.4 559.0L769.6 559.9L769.8 559.3L770.0 559.5L770.2 560.4L770.4 560.5L770.6 560.0L770.8 560.0L771.0 559.3L771.2 558.6L771.4 559.0L771.6 557.4L771.8 558.1L772.0 558.3L772.2 571.6L772.4 557.8L772.6 556.5L772.8 556.0L773.0 555.3L773.2 554.7L773.4 554.5L773.6 554.4L773.8 553.2L774.0 553.6L774.2 552.4L774.4 550.3L774.6 551.4L775.9 474.0L776.6 689.0L777.2 640.0L777.5 661.9L777.6 664.8L777.8 659.3L777.9 659.9L778.0 675.1L778.1 668.4L778.3 659.3L778.4 656.4L778.5 658.1L778.6 656.0L778.8 663.1L778.9 665.8L779.0 648.7L779.1 660.5L779.3 656.7L779.4 654.9L779.5 660.9L779.6 650.8L779.8 649.7L779.9 653.8L780.0 649.3L780.1 650.3L780.3 658.3L780.4 644.7L780.5 660.3L780.6 660.7L780.8 649.8L780.9 655.6L781.0 644.5L781.2 649.1L781.3 647.7L781.4 644.9L781.5 655.9L781.7 651.9L781.8 655.3L781.9 639.0L782.0 647.8L782.2 645.4L782.3 638.0L782.4 654.4L782.5 647.7L782.7 649.2L782.8 656.2L782.9 642.7L783.0 656.1L783.2 633.6L783.3 654.2L783.4 650.0L783.5 636.8L783.7 635.8L783.8 660.5L783.9 639.6L784.0 651.0L784.2 645.5L784.3 643.3L784.4 641.1L784.6 633.6L784.7 633.7L784.8 635.6L784.9 646.8L785.1 627.5L785.2 632.8L785.3 642.4L785.4 638.5L785.6 635.6L785.7 631.9L785.8 626.4L785.9 632.6L786.1 629.6L786.2 633.6L786.3 630.2L786.4 626.0L786.6 645.0L786.7 621.5L786.8 640.6L786.9 631.9L787.1 630.5L787.2 625.7L787.3 627.2L787.5 630.3L787.6 618.8L787.7 639.6L787.8 633.4L788.0 631.7L788.1 631.2L788.2 638.8L788.3 630.8L788.5 635.8L788.6 625.7L788.7 641.9L788.8 624.9L789.0 621.8L789.1 624.2L789.2 634.9L789.3 639.2L789.5 630.4L789.6 642.5L789.7 620.0L789.8 621.6L790.0 623.1L790.1 635.7L790.2 618.7L790.3 625.4L790.5 615.5L790.6 626.4L790.7 616.9L790.9 651.3L791.0 631.1L791.1 617.5L791.2 629.5L791.4 619.2L791.5 611.8L791.6 622.6L791.7 599.2L791.9 631.3L792.0 627.6L792.1 598.1L792.2 608.5L792.4 584.9L792.5 614.6L792.6 610.1L792.7 607.8L792.9 595.9L793.0 601.1L793.1 590.8L793.2 595.9L793.4 588.0L793.5 587.0L793.6 585.0L793.7 555.8L793.9 580.3L794.0 604.1L794.1 611.5L794.3 579.4L794.4 587.7L794.5 605.5L794.6 558.9L794.8 588.8L794.9 554.3L795.0 586.4L795.1 575.1L795.3 575.4L795.4 572.0L795.5 606.4L795.6 529.1L795.8 547.9L795.9 574.2L796.0 573.3L796.1 555.1L796.3 572.3L796.4 564.9L796.5 565.4L796.6 582.4L796.8 545.5L796.9 563.3L797.0 574.7L797.1 546.9L797.3 578.0L797.4 538.4L797.8 550.9L798.2 604.8L798.6 552.3L799.0 626.9L799.4 650.0L799.8 625.4L800.2 527.8L800.6 628.9L801.0 526.1L801.4 616.9L801.8 535.3L802.2 639.1L802.6 510.8L803.0 623.7L803.4 524.7L803.8 627.2L804.2 696.0L804.6 636.2L805.0 515.2L805.4 621.0L805.8 497.2L806.2 656.1L807.4 483.3L807.8 648.4L808.2 491.0L808.6 633.3L809.0 476.7L809.4 647.2L809.8 678.0L810.2 678.0L810.6 461.4L811.8 638.6L812.2 446.9L812.6 631.2L812.9 446.8L813.3 697.0L813.6 443.5L814.0 655.5L814.4 446.3L814.7 699.4L815.1 443.7L815.4 694.7L815.8 466.8L816.2 674.1L816.5 444.6L816.9 697.4L817.2 490.5L817.6 698.3L818.0 458.1L818.3 694.2L818.7 447.7L819.0 694.2L819.4 446.7L819.8 699.5L820.1 476.3L820.5 688.8L820.8 444.0L821.2 691.4L821.6 450.3L821.9 644.3L822.3 444.0L822.6 697.3L823.0 449.9L823.4 696.6L823.7 442.8L824.1 649.7L824.4 445.9L824.8 696.4L825.2 450.0L825.5 637.0L825.9 442.5L826.2 698.1L826.6 442.4L827.0 690.8L827.3 442.9L827.7 695.9L828.0 449.5L828.4 694.3L828.8 443.0L829.1 694.2L829.5 445.3L829.8 697.6L830.2 451.8L830.6 696.7L830.9 446.1L831.3 697.4L831.6 483.9L832.0 692.3L832.4 453.0L832.7 687.4L833.1 495.9L833.4 693.6L833.8 502.0L834.2 690.9L834.5 468.3L834.9 687.2L835.2 463.4L835.6 692.0L836.0 472.8L836.3 680.3L836.7 482.9L837.0 684.0L837.4 483.7L837.8 681.4L838.1 495.2L838.5 687.7L838.8 495.9L839.2 686.7L839.6 492.0L839.9 688.4L840.3 455.7L840.6 688.8L841.0 444.3L841.4 642.6L841.7 451.4L842.1 693.5L842.4 465.0L842.8 692.4L843.2 454.1L843.5 691.0L843.9 468.6L844.2 652.3L844.6 465.0L845.0 692.0L845.3 444.5L845.7 693.6L846.0 447.3L846.4 689.8L846.8 443.0L847.1 687.7L847.5 444.5L847.8 691.0L848.2 445.4L848.6 690.1L848.9 451.1L849.3 635.4L849.6 443.3L850.0 693.2L850.4 446.8L850.7 667.5L851.1 489.8L851.4 668.0L851.8 446.8L852.2 660.9L852.5 467.5L852.9 692.6L853.2 444.8L853.6 693.0L854.0 445.4L854.3 674.5L854.7 442.3L855.0 687.0L855.4 445.9L855.8 638.9L856.1 449.3L856.5 688.9L856.8 446.9L857.2 687.4L857.6 443.7L857.9 692.7L858.3 447.9L858.6 693.6L859.0 453.0L859.4 684.5L859.7 467.1L860.1 690.0L860.4 443.1L860.8 693.3L861.2 444.7L861.5 689.2L861.9 443.7L862.2 631.7L862.6 443.1L863.0 690.7L863.3 445.4L863.7 692.7L864.0 491.1L864.4 688.3L864.8 444.0L865.1 687.5L865.5 444.3L865.8 659.0L866.2 442.3L866.6 652.4L866.9 445.2L867.3 692.4L867.6 474.0L868.0 692.5L868.4 443.5L868.7 687.4L869.1 446.1L869.4 687.0L869.8 450.8L870.2 625.3L870.5 451.0L870.9 693.4L871.2 443.6L871.6 689.2L872.0 442.5L872.3 689.1L872.9 459.7L873.6 690.0L874.3 520.0L875.0 680.0L875.6 560.0L876.3 660.0L877.0 600.0L877.7 622.7L877.9 469.6L878.1 636.8L878.3 639.8L878.5 633.6L878.7 637.5L878.9 639.4L879.1 642.1L879.3 629.2L879.5 633.8L879.7 636.1L879.9 615.1L880.1 627.9L880.3 630.5L880.5 619.3L880.7 621.4L880.9 560.0L881.1 629.1L881.3 624.5L881.5 620.1L881.7 625.5L881.9 651.2L882.1 624.2L882.3 614.5L882.5 608.8L882.7 630.4L883.0 625.3L883.2 613.3L883.4 631.5L883.6 630.1L883.8 613.3L884.0 504.5L884.2 621.7L884.4 617.7L884.6 621.4L884.8 625.5L885.0 611.9L885.2 618.2L885.4 605.5L885.6 620.0L885.8 622.8L886.0 593.0L886.2 604.5L886.4 615.7L886.6 600.6L886.8 612.4L887.0 616.1L887.2 612.2L887.4 615.9L887.6 609.6L887.8 617.7L888.0 607.1L888.2 605.4L888.4 601.6L888.6 595.0L888.8 606.4L889.0 607.1L889.2 653.5L889.4 599.0L889.6 602.5L889.8 611.9L890.0 605.9L890.2 612.5L890.4 606.6L890.6 600.1L890.8 617.9L891.0 595.9L891.2 590.4L891.4 596.9L891.6 602.3L891.8 605.6L892.0 601.6L892.2 595.6L892.4 608.3L892.6 600.9L892.8 599.3L893.0 594.3L893.2 608.2L893.5 604.8L893.7 590.6L893.9 625.9L894.1 596.9L894.3 593.1L894.5 601.7L894.7 589.8L894.9 594.0L895.1 600.7L895.3 593.7L895.5 583.3L895.7 587.1L895.9 591.8L896.1 585.3L896.3 589.0L896.5 592.3L896.7 584.0L896.9 579.1L897.1 587.9L897.3 595.0L897.5 583.6L897.7 586.2L897.9 586.1L898.1 584.2L898.3 574.3L898.5 583.4L898.7 583.2L898.9 478.4L899.1 580.9L899.3 573.2L899.5 619.6L899.7 571.4L899.9 581.6L900.1 579.7L900.3 574.8L900.5 582.2L900.7 568.4L900.9 576.5L901.1 568.5L901.3 559.1L901.5 573.8L901.7 570.2L901.9 560.4L902.1 565.2L902.3 568.9L902.5 563.8L902.7 568.9L902.9 556.3L903.1 574.5L903.3 561.9L903.5 558.1L903.8 558.4L904.0 454.5L904.2 695.7L904.5 536.1L904.7 527.5L904.9 527.5L905.1 532.5L905.3 533.4L905.5 518.4L905.7 525.1L905.9 519.2L906.1 535.6L906.3 526.5L906.5 527.8L906.7 525.9L906.9 527.2L907.1 523.5L907.3 520.6L907.5 535.7L907.7 534.8L907.9 551.0L908.1 521.1L908.3 527.8L908.5 532.6L908.7 529.5L908.9 518.7L909.1 529.7L909.3 522.3L909.5 524.1L909.7 488.3L909.9 512.9L910.1 539.2L910.3 526.6L910.5 530.4L910.7 532.8L910.9 531.9L911.1 533.3L911.3 530.7L911.5 536.6L911.7 529.8L911.9 536.3L912.1 537.0L912.3 535.5L912.6 544.3L912.8 536.2L913.0 533.9L913.2 550.2L913.4 546.1L913.6 540.9L913.8 535.8L914.0 546.8L914.2 539.6L914.4 536.8L914.6 536.9L914.8 480.5L915.0 539.7L915.2 534.3L915.4 525.1L915.6 542.6L915.8 538.5L916.0 553.0L916.2 539.6L916.4 544.2L916.6 541.4L916.8 538.2L917.0 537.4L917.2 527.1L917.4 529.3L917.6 551.0L917.8 533.4L918.0 534.5L918.2 551.0L918.4 540.4L918.6 526.8L918.8 523.5L919.0 528.6L919.2 536.3L919.4 543.9L919.6 541.4L919.8 535.4L920.0 492.5L920.2 529.7L920.4 535.9L920.6 544.6L920.8 554.3L921.0 553.0L921.2 531.1L921.4 538.5L921.6 538.6L921.8 541.5L922.0 540.2L922.2 546.4L922.4 548.0L922.6 540.4L922.8 530.2L923.0 534.4L923.2 536.9L923.4 534.3L923.6 542.8L923.8 539.4L924.0 536.9L924.2 535.2L924.4 540.6L924.6 585.0L924.8 527.2L925.0 531.6L925.2 528.0L925.4 530.8L925.6 518.9L925.8 533.1L926.0 529.2L926.2 537.7L926.4 538.9L926.6 536.4L926.8 523.1L927.0 533.7L927.2 534.1L927.4 525.5L927.6 534.8L927.8 526.6L928.0 522.2L928.2 533.6L928.5 527.7L928.7 468.3L928.9 531.4L929.1 526.6L929.3 530.4L929.5 529.2L929.7 527.9L929.9 599.3L930.1 523.4L930.3 537.1L930.5 522.8L930.7 537.0L930.9 522.3L931.1 531.4L931.3 526.3L931.5 534.0L931.7 526.4L931.9 525.7L932.1 522.2L932.3 526.1L932.5 527.8L932.7 529.1L932.9 522.8L933.1 523.4L933.3 522.8L933.5 512.6L933.7 524.7L933.9 517.2L934.1 523.6L934.3 520.5L934.5 520.9L934.7 523.0L934.9 517.1L935.1 494.6L935.3 531.2L935.5 531.2L935.7 532.1L935.9 529.0L936.1 525.5L936.3 532.6L936.5 523.2L936.7 527.6L936.9 546.0L937.1 524.2L937.3 519.5L937.5 524.7L937.7 531.7L937.9 524.8L938.1 521.9L938.3 524.2L938.5 521.7L938.7 522.9L938.9 519.7L939.1 526.3L939.3 521.7L939.5 522.4L939.7 522.8L939.9 487.3L940.1 528.8L940.3 529.9L940.5 520.4L940.7 533.2L940.9 523.3L941.1 521.2L941.3 524.1L941.5 524.6L941.7 520.7L941.9 524.5L942.1 517.8L942.3 525.8L942.5 520.3L942.7 517.0L942.9 522.5L943.1 517.7L943.3 526.2L943.5 528.5L943.7 518.0L943.9 520.4L944.2 517.7L944.4 517.5L944.6 518.5L944.8 521.5L945.0 504.0L945.2 524.6L945.4 530.1L945.6 517.7L945.8 521.5L946.0 540.0L946.2 511.6L946.4 513.7L946.6 527.6L946.8 520.7L947.0 526.8L947.2 521.0L947.4 523.9L947.6 524.6L947.8 518.6L948.0 525.5L948.2 525.1L948.4 519.2L948.6 520.3L948.8 515.8L949.0 525.8L949.2 516.4L949.4 519.9L949.6 517.6L949.8 518.0L950.0 497.2L950.2 520.0L950.4 523.4L950.6 519.1L950.8 523.1L951.0 515.2L951.2 516.2L951.4 506.6L951.6 522.9L951.8 522.2L952.0 513.7" stroke="#0072bd" stroke-width="1.7" fill="none" stroke-linejoin="round"/>
<text x="82.5" y="343.5" font-size="20" text-anchor="middle">0</text>
<text x="191.0" y="343.5" font-size="20" text-anchor="middle">3</text>
<text x="299.5" y="343.5" font-size="20" text-anchor="middle">6</text>
<text x="408.0" y="343.5" font-size="20" text-anchor="middle">9</text>
<text x="516.5" y="343.5" font-size="20" text-anchor="middle">12</text>
<text x="625.0" y="343.5" font-size="20" text-anchor="middle">15</text>
<text x="733.5" y="343.5" font-size="20" text-anchor="middle">18</text>
<text x="842.0" y="343.5" font-size="20" text-anchor="middle">21</text>
<text x="950.5" y="343.5" font-size="20" text-anchor="middle">24</text>
<text x="82.5" y="741.5" font-size="20" text-anchor="middle">0</text>
<text x="191.0" y="741.5" font-size="20" text-anchor="middle">3</text>
<text x="299.5" y="741.5" font-size="20" text-anchor="middle">6</text>
<text x="408.0" y="741.5" font-size="20" text-anchor="middle">9</text>
<text x="516.5" y="741.5" font-size="20" text-anchor="middle">12</text>
<text x="625.0" y="741.5" font-size="20" text-anchor="middle">15</text>
<text x="733.5" y="741.5" font-size="20" text-anchor="middle">18</text>
<text x="842.0" y="741.5" font-size="20" text-anchor="middle">21</text>
<text x="950.5" y="741.5" font-size="20" text-anchor="middle">24</text>
<text x="70" y="35.4" font-size="20" text-anchor="end">-60</text>
<text x="70" y="83.4" font-size="20" text-anchor="end">-80</text>
<text x="70" y="131.4" font-size="20" text-anchor="end">-100</text>
<text x="70" y="179.4" font-size="20" text-anchor="end">-120</text>
<text x="70" y="227.4" font-size="20" text-anchor="end">-140</text>
<text x="70" y="275.4" font-size="20" text-anchor="end">-160</text>
<text x="70" y="323.4" font-size="20" text-anchor="end">-180</text>
<text x="70" y="435.4" font-size="20" text-anchor="end">200</text>
<text x="70" y="506.9" font-size="20" text-anchor="end">100</text>
<text x="70" y="578.4" font-size="20" text-anchor="end">0</text>
<text x="70" y="649.9" font-size="20" text-anchor="end">-100</text>
<text x="70" y="721.4" font-size="20" text-anchor="end">-200</text>
<text x="503" y="17" font-size="22" font-weight="bold" fill="#000" text-anchor="middle">JJY20240214.txt</text>
<text x="496.3" y="772.2" font-size="22" text-anchor="middle">Time (hours after midnight UTC)</text>
<text transform="translate(18.0 182.4) rotate(-90)" font-size="22" text-anchor="middle">Amplitude (dB)</text>
<text transform="translate(18.0 579.3) rotate(-90)" font-size="22" text-anchor="middle">Phase (degrees)</text>
</svg></body></html>
